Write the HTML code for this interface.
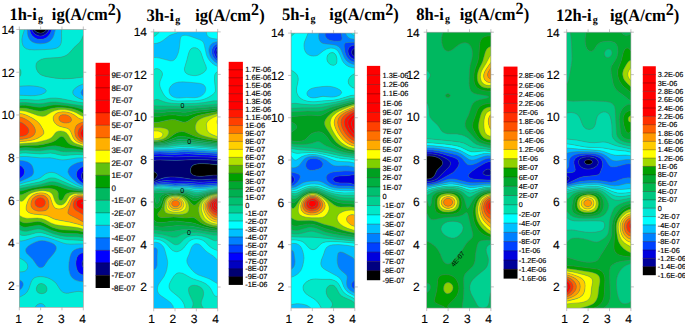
<!DOCTYPE html>
<html><head><meta charset="utf-8"><style>
html,body{margin:0;padding:0;background:#fff;}
body{width:685px;height:327px;overflow:hidden;}
svg{display:block;text-rendering:geometricPrecision;}
.ax{font-family:"Liberation Sans",sans-serif;font-size:12px;fill:#000;stroke:#000;stroke-width:0.12px;}
.cb{font-family:"Liberation Sans",sans-serif;fill:#000;stroke:#000;stroke-width:0.15px;}
.tt{font-family:"Liberation Serif",serif;font-weight:bold;font-size:17.5px;fill:#000;}
.sub{font-size:10.6px;}
.sup{font-size:17px;}
</style></head><body>
<svg width="685" height="327" viewBox="0 0 685 327">
<rect width="685" height="327" fill="#fff"/>
<clipPath id="c1h"><rect x="19.3" y="29.5" width="64" height="277.8"/></clipPath>
<g clip-path="url(#c1h)">
<rect x="19.3" y="29.5" width="64" height="277.8" fill="#00d49a"/>
<path d="M39.9 33.1l2.1-.2l1.5-.6l1.4-.9l1.8-1.9l-12.7 0l.9 1.1l1.4 1.2l1.5 .8l1.9 .5z" fill="#000000" fill-rule="evenodd"/>
<path d="M83.3 267.9l0-8.2l-.8 1.3l-.4 2.2l.1 2.1l.8 2.1zM83.3 180.6l0-9l-.8 1l-.7 1.5l-.4 2.1l.5 2.1l1.3 2.2zM39.9 36l1.4 0l1.4-.3l2.4-1.2l1.2-.9l1.1-1.2l1.8-2.9l-2.5 0l-1.1 1.3l-1.4 1.2l-1.5 .7l-2.1 .4l-2.1-.2l-1.4-.6l-1.5-1l-1.6-1.8l-2.3 0l1.6 2.9l1.6 1.6l2.2 1.3l2.4 .7z" fill="#000080" fill-rule="evenodd"/>
<path d="M81.9 274.6l1.4 .4l0-7.2l-.9-1.8l-.3-2.2l.2-2.1l1-2l0-7l-1.4 .3l-1.4 .5l-1.4 .9l-.9 .9l-.9 1.4l-.6 1.4l-.7 3.6l0 2.8l.2 2.2l.5 2.1l.6 1.4l.8 1.5l1 1.1l1.2 1l1.4 .7zM83.3 183.6l0-3l-1.4-2.3l-.5-2.1l.4-2.1l.7-1.5l.8-1l0-5.3l-2.8 1.5l-2.3 2l-1.4 2.1l-.4 2.2l.2 2.1l.6 1.4l.9 1.4l1.9 2.2l2.8 2.1zM20 178.5l2.6-2.2l1.1-1.4l.7-1.5l.2-2.1l-.6-2.1l-.9-1.5l-1.5-1.4l-2.3-1.2l0 13.9zM37.1 38.9l2.1 .4l2.9 0l2.1-.5l2.1-1.1l1.5-1.1l1.8-2.1l1.2-2.1l1.1-2.9l-2.6 0l-1.5 2.5l-2.2 2.1l-2.1 1.3l-1.4 .4l-1.4 .2l-2.2-.3l-2.1-.8l-1.4-.9l-1.5-1.4l-1.1-1.7l-.7-1.4l-2.1 0l1 3.6l1.5 2.5l2.2 1.9l2.4 1.3z" fill="#0000ff" fill-rule="evenodd"/>
<path d="M20 289.7l1.2-1l1.1-1.4l.6-1.4l.2-2.1l-.4-1.5l-.6-.9l-1.4-.9l-1.4-.3l0 10zM82.6 281.7l.7 .1l0-6.7l-2.1-.8l-1.4-.9l-1.1-1l-1.1-1.4l-.6-1.4l-.7-2.2l-.3-2.1l-.1-2.9l.2-2.1l.5-2.1l.6-1.5l1-1.4l.8-.8l1.5-1l1.4-.5l1.4-.3l0-4.9l-3.5 .3l-3.2 .8l-2.5 1.2l-1.9 1.6l-1.2 2.2l-1 2.8l-.8 4.3l-.4 4.3l.1 3.5l.6 3.6l1 2.8l1.3 2.2l1.6 1.4l2.5 1.4l3.1 1l3.2 .5zM39.9 267.6l.7 .1l1.4-.2l1.4-.8l.8-.7l3.8-5.7l5.4-6.3l2-2.9l.8-2.2l.1-1.4l-.2-.7l-.8-1.4l-.7-.7l-2.1-1.5l-3.4-1.3l-3.5-.9l-3.6-.4l-2.8 .3l-3.6 1l-4.2 2l-3.2 2.2l-1.9 2.1l-.6 1.4l-.1 .8l.2 1.4l.8 1.4l6.2 6.3l4.3 6.2l1.4 1.3l1 .5zM83.3 185.7l0-2.1l-1.6-.9l-1.7-1.5l-1.4-1.4l-1-1.4l-1-2.2l-.2-2.1l.4-2.1l1.4-2.2l2.3-1.9l2.8-1.6l0-4.7l-2.9 .4l-2.9 .7l-2 .8l-2.8 1.3l-1.9 1.5l-1.4 1.4l-1 1.8l-.4 1.8l.1 1.4l1 2.1l1 1.4l1.9 2.2l2.5 2.1l2.8 2.2l2.4 1.4l3.1 1.4zM20 181.5l7.4-3.2l3.9-2.1l.8-.7l1.1-1.4l.5-1.5l0-1.4l-.4-2.1l-.9-2.9l-.9-1.4l-1.4-1.4l-2.3-1.3l-2.3-.9l-3.4-.6l-2.8-.3l0 4.7l2.3 1.2l1.5 1.5l1.2 2.1l.4 2.1l-.6 2.2l-.9 1.4l-1.4 1.4l-2.5 2l0 2.9zM83.3 96.3l0-7.8l-1.3 1.5l-.4 .7l-.5 1.4l.1 1.5l.3 .7l1.1 1.4zM39.9 43.8l3.6-.2l2.8-.6l2.1-.9l2.2-1.5l1.6-1.8l1.2-2.1l1-2.9l1-4.3l-3.5 0l-1.9 4.3l-1 1.4l-1.3 1.5l-1.4 1.1l-2.1 1l-1.5 .4l-2.1 .3l-2.1-.2l-1.4-.4l-1.5-.5l-1.7-1l-1.5-1.4l-1.1-1.5l-1-2.1l-.8-2.9l-2.3 0l.2 3.6l.5 2.9l.8 2.1l1.2 1.9l2 1.7l2.3 1.1l2.9 .7l2.6 .3z" fill="#0070ff" fill-rule="evenodd"/>
<path d="M35.7 307.3l9.7 0l-.5-1.4l-1.3-1.4l-1.5-.8l-1.4-.2l-1.4 .2l-1.6 .8l-1.3 1.1l-1.1 1.7zM20 296.9l4.5-2.4l1.2-1l1.4-1.6l1.7-3.1l2.5-7.2l1.5-2.5l1.3-1l1.4-.7l1.6-.5l2.1-.3l3.6 .1l3.5 .7l2.9 1l3.2 1.8l2 1.4l1.9 2l3.5 5.5l1.4 1.8l1.5 1.2l1.4 .7l2.1 .4l2.2-.1l7.1-1.4l2.8-.3l2.9 .2l2.1 .7l0-10.6l-3.6-.4l-2.8-.7l-2.5-1.1l-1.9-1.4l-1.7-2.2l-.9-2.1l-.9-3.6l-.2-3.5l.2-4.3l.7-4.3l1-3.5l1-2.2l.9-1.1l1.1-1l2.5-1.3l3.5-.9l3.6-.3l0-3.9l-4.3 0l-8.5 .3l-4.3-.4l-3.5-.9l-8.9-3.3l-5.4-1.7l-4.2-1.2l-3.6-.4l-2.1 0l-2.9 .6l-9.2 3l-2.8 .7l-2.2 .4l-2.1 0l0 16.8l4.2 2.5l2.2 1.7l.9 1.1l.8 1.4l.4 2.2l-.5 2.1l-.9 1.3l-.7 .6l-1.4 .7l-1.5 .3l-2.1 .2l-1.4-.1l0 8.4l1.4 .3l1.4 1l.9 1.6l.1 1.4l-.2 1.4l-.8 1.7l-.9 1.2l-1.9 1.4l0 7.1zM39.5 267.4l-1-.5l-1.4-1.3l-4.3-6.2l-6.2-6.2l-.7-1.5l-.3-1.4l.1-.7l.6-1.4l2-2.2l3.2-2.1l4.2-2l3.5-1.1l2.9-.2l3.5 .4l3.6 .9l3.3 1.3l2.1 1.4l.7 .7l.9 1.4l.1 .8l0 1.4l-.9 2.1l-1.9 3l-5.5 6.3l-3.8 5.7l-.7 .7l-1.4 .7l-1.4 .2l-.8-.1zM81.9 187l1.4 .4l0-1.7l-3.5-1.6l-2.5-1.4l-2.8-2.2l-2.4-2.1l-2-2.1l-1-1.5l-.9-2.1l-.2-1.4l.4-1.7l1-1.9l1.4-1.4l2-1.4l2.7-1.4l2.1-.8l2.8-.7l2.9-.4l0-3.8l-2.8 0l-3.6 .2l-10.6 1.7l-3.6 .2l-3.6-.3l-6.4-1.4l-2.8-.4l-9.2 .1l-14.3-1.4l-3.5 0l-3.6 .2l0 3.7l3.6 .4l3.5 .8l2.7 1.1l1.9 1.5l1 1.4l.7 1.4l.8 2.9l.3 2.1l-.6 2.1l-1.1 1.5l-.8 .7l-3.9 2.1l-8.1 3.5l0 2.3l5.7-1.8l9.3-2.3l3.2-1l2.9-1.4l4.5-3.4l1.4-.8l2.2-.8l2.8-.3l2.9 .4l2.8 1l7.7 4.6l10.1 5.7l3 1.4l3.9 1.5zM81.9 99.4l1.4 .4l0-3.5l-1.3-1.3l-.5-.7l-.4-1.4l0-.8l.5-1.4l1.7-2.2l0-4.6l-3.5 1.4l-3.4 1.9l-2.4 2.1l-.9 1.4l-.2 .7l-.1 1.5l.2 .7l.9 1.4l.7 .7l2 1.4l1.3 .7l3.6 1.5zM20 95.3l11.4 .4l3.5-.1l3.6-.4l3-.8l3.1-1.5l.9-.7l.5-.7l.2-.7l-.2-.7l-.6-.7l-1.2-.8l-2.9-1.2l-3.7-.9l-4.1-.5l-4.3-.2l-4.9 .1l-5 .4l0 8.9zM28.5 49.5l2.8 .3l3.6 .1l14.2-.5l5.7-.8l1.8-.6l1.4-.7l1.1-.8l1-1.3l.7-1.4l.4-1.5l.3-2.8l-.1-6.4l.2-3.6l-6.3 0l-.8 3.6l-.9 2.8l-1 2.2l-1.6 2.1l-1.9 1.5l-2.1 1l-2.9 .8l-3.5 .3l-2.9-.2l-2.8-.6l-2.1-.8l-2.2-1.5l-1.5-1.9l-1-2.2l-.6-2.8l-.3-4.3l-2.8 0l-1.8 5.7l-.6 2.9l-.2 2.8l.3 2.2l.7 2.1l1.4 2.2l1.9 1.4l2.2 .7z" fill="#00c0ff" fill-rule="evenodd"/>
<path d="M20 307.3l15.2 0l1.2-1.7l1.2-1.1l1.6-.8l1.4-.2l1.4 .2l1.5 .8l1.3 1.4l.5 1.4l38 0l0-15l-2.1-.7l-2.9-.2l-2.8 .3l-7.1 1.5l-2.2 0l-2.1-.4l-2.1-1.2l-1.4-1.4l-3.7-5.7l-1.8-2.1l-1.6-1.5l-2.3-1.4l-3.5-1.6l-3.5-1l-3.6-.3l-3.5 .3l-1.5 .4l-1.4 .7l-1 .8l-1.1 1.3l-1.1 2.3l-2.5 7.1l-1.1 2.1l-1 1.2l-2.1 1.8l-5 2.7l0 10zM38.8 293.1l-1-.6l-.7-.8l-.6-1.4l-.1-2.2l.7-2.1l1.2-1.4l1.6-.9l1.4-.1l2.2 .5l1.7 1.2l1.1 1.4l.7 2.1l-.3 2.2l-1 1.4l-1.5 .8l-1.5 .4l-1.4 .1l-2.1-.4zM20 271.9l3.1-.2l1.2-.3l1.4-.7l.7-.5l.9-1.4l.5-2.1l-.4-2.1l-.8-1.5l-.9-1l-2.2-1.8l-4.2-2.5l0 14zM66.9 244l3.6 .2l8.5-.3l4.3 0l0-3.3l-5-.4l-10-.4l-5.7-.7l-7.1-1.9l-12.1-4l-2.8-.6l-2.1 0l-2.2 .2l-7.8 2.1l-3.6 .6l-2.8-.1l-1.4-.5l-1.4-.8l0 6.9l2.1 0l2.8-.5l12.1-3.7l2.9-.5l2.1 0l2.9 .5l4.9 1.3l6.7 2.3l6.8 2.6l3.9 .9zM81.2 188.4l2.1 .5l0-1.5l-4.2-1.4l-4.3-1.9l-10.1-5.7l-7.7-4.6l-2.1-.8l-2.9-.6l-2.8 .2l-2.8 .9l-1.5 .8l-4.4 3.4l-2.9 1.4l-3.3 1l-9.3 2.3l-5.7 1.8l0 2.1l7.9-1.9l12-2.3l2.9-1l6.4-2.7l2.1-.5l2.2 0l2.1 .3l2.1 .7l7.8 3.2l9.2 4.1l3.6 1.3l3.5 .9zM61.3 159.9l2.1 0l2.9-.2l11.4-1.8l5.6 0l0-3l-2.8-.3l-3.6-.1l-9.9 .8l-3.6 .1l-2.8-.3l-7.1-1.7l-2.9-.3l-10.6 .8l-14.3-.9l-3.5 .1l-2.9 .4l0 3.2l3.6-.2l3.6 0l14.2 1.4l9.2-.1l2.9 .4l5.7 1.3l2.7 .4zM79 102.2l4.3 .6l0-2.9l-4.3-1.5l-3.5-1.9l-.9-.7l-1.2-1.4l-.6-1.5l0-1.4l.2-.7l.9-1.4l2.4-2.2l3.4-1.9l3.6-1.4l0-6.8l-11.4 1.4l-8.5 .3l-7.9-.5l-9.8-1.8l-4.2-1.4l-1.6-1l-1.2-1.1l-1.1-1.4l-1-2.2l-.6-2.1l-.1-1.4l.4-2.2l.7-1.4l1.5-1.4l2.8-1.5l2.2-.7l3.5-.5l10.7-.6l3.5-.5l3.6-1l2.8-1.7l2.2-1.9l4.4-5.2l5.5-4.9l1.4-2l.8-1.6l1.4-3.5l0-5.8l-21.7 0l-.2 3.6l.1 6.4l-.3 2.9l-.4 1.4l-.7 1.4l-1 1.3l-.7 .6l-1.4 .8l-1.5 .5l-3.5 .7l-7.1 .5l-10.7 .3l-4.3-.2l-2.8-.6l-2.1-1l-1.4-1.5l-.8-1.3l-.5-1.5l-.4-2.2l-.1-2.1l.6-3.6l2-6.4l-5.1 0l0 38.5l1.2 2.1l.4 1.5l.1 1.4l-.4 2.1l-1.3 2.2l0 9l4.9-.4l5-.1l4.3 .2l4.1 .5l3.7 .9l2.9 1.1l1.2 .9l.6 .7l.2 .7l-.2 .7l-.5 .7l-.9 .7l-3.1 1.5l-3 .7l-3.6 .5l-4.3 .1l-11.3-.5l0 4.4l5.7-.1l9.9 .5l3.6 0l3.5-.3l8.6-1.5l4.9-.2l2.9 .2l4.2 .7l16.3 3.3z" fill="#00ecd8" fill-rule="evenodd"/>
<path d="M39.2 293.2l2.1 .4l1.5-.1l1.4-.3l1.5-.9l1-1.4l.3-2.1l-.6-2.2l-1.1-1.4l-1.8-1.2l-2.2-.5l-1.4 .2l-1.6 .8l-1.2 1.5l-.7 2.1l.1 2.1l.6 1.4l.7 .8l1 .6zM81.2 240.4l2.1 .2l0-3l-5.7-.8l-11.3-.3l-5.7-.7l-3.6-.9l-4.2-1.3l-9.3-3.7l-2.8-.8l-2.2-.2l-2.1 .2l-7.8 1.8l-3.6 .4l-2.8-.4l-1.4-.7l-1.5-1l0 4.9l1.5 .9l1.4 .4l2.1 .1l2.1-.2l10-2.5l2.1-.2l2.2 .1l2.8 .6l12.1 3.9l7.1 1.9l5.7 .7l12.7 .6zM81.2 189.8l2.1 .4l0-1.3l-4.9-1.2l-2.9-.9l-17.1-7.4l-3.5-1.2l-2.1-.3l-2.2 0l-2.1 .5l-6.4 2.7l-2.9 .9l-12 2.4l-7.9 1.9l0 2.3l10-2.2l11.4-2.1l8.5-2.3l3.6-.3l2.8 .3l3.6 1l10.1 3.9l3.4 1.2l3.5 .8l4.9 .9zM59.8 154.9l2.1 .3l2.9 .2l12.1-.9l3.5 0l2.9 .3l0-2.5l-2.9-.5l-3.5-.2l-10 .2l-3.5-.1l-2.9-.4l-5.7-1.5l-3.5-.4l-2.9 .2l-8.5 1.2l-3.6 0l-10.6-.7l-3.6 .1l-2.8 .5l0 2.8l2.8-.4l3.6-.1l14.2 .8l10.7-.7l2.8 .3l6.3 1.5zM81.9 105.7l1.4 .2l0-3.1l-5.7-.9l-14.2-2.9l-5.7-.9l-3.5-.2l-2.9 .1l-9.2 1.6l-3.6 .4l-3.5-.1l-10-.5l-5.7 .1l0 3.1l2.9-.2l3.5 0l10.7 1.1l3.5 .1l2.9-.3l7.8-1.3l4.3-.1l4.2 .4l6.4 .8l16.4 2.6zM59.8 78.7l5 .2l5-.2l7-.7l6.5-.9l0-41.8l-1.7 4.2l-1.9 2.8l-5.7 5.3l-5 5.6l-2.5 2l-2.4 1.2l-3.6 .9l-3.5 .3l-9.3 .5l-5 .9l-1.6 .5l-1.9 .9l-1.5 1.2l-1.1 1.4l-.5 1.4l-.2 1.5l.4 2.8l.9 2.2l.9 1.4l1.1 1.2l1.1 .9l2.4 1.3l3.6 1l7.1 1.3l6.3 .7zM19.4 77.2l1.3-2.1l.4-2.2l-.1-1.4l-.4-1.4l-1.3-2.2l0 9.4z" fill="#00d49a" fill-rule="evenodd"/>
<path d="M83.3 237.6l0-2.8l-2.8-.7l-3.6-.5l-12.1-.2l-5.7-.8l-3.5-.9l-3.6-1.2l-8.5-4l-2.9-1l-2.1-.3l-2.1 .1l-7.9 1.7l-3.5 .3l-2.9-.7l-1.4-.7l-1.4-1l0 4.3l1.4 1l2.2 .9l2.1 .2l2.1-.1l8.6-2l2.1-.3l2.1 .1l3.6 .9l9.9 3.9l7.1 2l5.7 .7l11.4 .3l5.3 .7zM82.6 191.3l.7 .1l0-1.2l-6.3-1.1l-4.4-1l-3.3-1.1l-10.2-4l-3.5-.9l-2.9-.4l-3.5 .3l-8.6 2.4l-11.3 2l-10 2.2l0 2.6l.7 0l2.2-.4l7.1-2l4.9-1.1l14.3-2.3l4.2-.3l2.2 .2l2.8 .7l7.8 2.8l2.9 .8l3.5 .5l10.3 1.1zM81.9 152l1.4 .3l0-2.3l-5.7-1l-12.1-1.1l-7.1-1.7l-2.8-.4l-5 .3l-7.8 1.5l-3.6 .4l-3.5 0l-10-.4l-3.5 .2l-2.9 .4l0 2.4l2.9-.4l3.5-.1l10.7 .6l3.5 .1l8.6-1.2l2.8-.2l3.6 .4l5.7 1.4l2.8 .5l3.6 .1l9.2-.3l5.7 .5zM82.6 109.4l.7 .3l0-3.7l-16.3-2.6l-8.6-1.2l-3.5-.3l-3.6 .1l-8.5 1.4l-3.6 .3l-3.5-.2l-10-1l-3.5-.1l-2.9 .3l0 2.7l2.9-.2l3.5 .1l10.7 1.7l3.5 .3l3.6-.4l8.5-1.7l3.6-.2l4.2 .1l6.4 .6l6.4 1l5.4 1.2l4.4 1.4z" fill="#00b860" fill-rule="evenodd"/>
<path d="M83.3 234.7l0-2.8l-.7-.2l-2.9-.7l-2.8-.5l-3.6-.2l-9.2-.3l-3.4-.4l-3-.6l-5.7-1.8l-7.8-4l-3.6-1.3l-2.1-.3l-2.1 0l-7.9 1.2l-2.8 .2l-2.1-.3l-1.5-.5l-2.8-1.8l0 4.4l2.1 1.5l2.2 .7l1.4 .2l2.1-.1l8.6-1.7l2.1-.2l2.1 .1l3.6 1.1l8.5 4l3.6 1.2l3.5 1l5.7 .7l12.1 .3l2.8 .3l3.3 .7zM60.5 200.5l.8 0l1.3-.8l.7-1.1l1.2-2.4l.9-1.4l.7-.8l1.3-.7l3.1-.8l3.5-.4l5 0l4.3 .4l0-1.1l-14.3-1.7l-3.5-1l-7.8-2.8l-2.9-.6l-2.8-.2l-3.6 .2l-14.9 2.5l-4.3 .9l-7.1 2.1l-2.8 .4l0 3.5l2.1 .1l2.1-.7l6-2.9l2.6-.9l3.5-.8l5-.7l5-.4l4.2 0l2.9 .5l2.1 .6l1.4 .7l1.2 1l.5 .7l.4 1.4l0 3.6l.2 1.4l.7 1.4l1.2 .8zM83.3 150l0-2l-10-2.4l-2.1-.7l-2.1-1.2l-1.9-1.7l-3.1-4.4l-.8-.6l-1.3-.4l-.7 0l-1.5 .5l-3.5 2.9l-2.9 1.6l-3.3 1.1l-6.6 1.7l-5.7 .8l-12.8 .2l-5.7 .5l0 2.3l2.8-.4l3.6-.2l10 .4l3.5 0l3.6-.4l7.8-1.5l5-.3l2.8 .4l7.1 1.7l11.4 1l5.8 1zM82.6 113l.7 .4l0-3.7l-3.5-1.3l-3.6-1l-5-.9l-5.7-.9l-6.4-.5l-5.7 0l-3.5 .4l-7.1 1.5l-2.9 .3l-3.5-.3l-10.7-1.7l-3.5-.1l-2.9 .2l0 2.6l2.9-.1l3.5 .3l3.6 .7l6.4 1.7l2.8 .5l2.9 .1l2.1-.3l7.4-2.3l3.3-.7l3.5-.4l4.3 0l5.7 .5l5.7 1.1l4.8 1.6l4.2 2.2z" fill="#00a000" fill-rule="evenodd"/>
<path d="M83.3 231.9l0-2.9l-2.8-.8l-5.7-1.1l-12.8-1.4l-5-.7l-2.9-.7l-2.1-.8l-6.4-3.5l-3.5-1.4l-2.2-.4l-2.8-.2l-8.6 .3l-2.8-.1l-2.8-.9l-3.6-2l0 5.1l2.1 1.5l2.2 .8l1.4 .3l2.1 0l8.6-1.3l2.1-.1l2.1 .1l1.4 .4l2.2 .7l8.5 4.4l5.7 1.8l3 .6l3.4 .4l9.2 .3l3.6 .2l2.8 .5l3.1 .7zM58.4 204.7l1.4 .3l1.4-.1l1.5-.4l1.4-.9l1.6-1.8l3-4.9l1.1-1.1l1.7-1.1l2.5-.8l2.9-.4l3.5-.1l2.9 .3l0-1.2l-4.3-.4l-5 0l-3.5 .4l-2.9 .7l-1.4 .8l-.8 .7l-.9 1.4l-1.4 2.9l-.5 .7l-1.4 .7l-.7 .1l-.7-.3l-.6-.5l-.4-.7l-.5-2.1l0-3.6l-.4-1.4l-.5-.7l-.7-.8l-1.2-.7l-1.9-.7l-2.3-.4l-2.9-.3l-4.2 .1l-4.3 .4l-4.3 .6l-3.5 .9l-2.5 .9l-7.5 3.4l-1.4 .2l-1.4-.2l0 5.6l.7 .6l.7 .4l.7 .1l.7-.2l1.5-.9l2.8-3.3l2.3-2.2l2-1.3l2.1-1l3.6-1l4.2-.7l3.6 0l3.5 .6l1.5 .4l1.4 .8l1.4 1.2l1 1.7l1.6 5l.6 1.4l1.1 1.5l.7 .7l1.4 .7zM82.6 147.8l.7 .2l0-1.9l-6.2-1.9l-2.3-1l-1.4-.9l-1.2-1l-1.2-1.4l-2.6-4.6l-1.4-1.9l-2.2-1.5l-1.4-.5l-2.1-.4l-2.9 .2l-2 .9l-.9 .7l-2.7 3.5l-1.5 1.5l-2.1 1.2l-2.5 .9l-6.1 1.6l-4.9 1l-16.4 1.3l0 2.1l5.7-.4l12.1-.2l4.3-.5l7.1-1.6l4.2-1.3l2.9-1.4l4.2-3.4l1.5-.5l.7 0l1.3 .5l.8 .6l3.1 4.3l1.2 1.2l1.4 1l3.6 1.4l9 2.1zM83.3 116.5l0-3.1l-2.8-1.6l-2.9-1.3l-2.8-1l-3.6-.9l-4.3-.7l-5.6-.5l-5.7 .3l-4.3 .8l-7.1 2.2l-3.6 .5l-4.2-.5l-7.1-1.8l-3.6-.7l-3.6-.3l-2.8 .1l0 2.6l3.6 .2l3.3 .7l3.1 .9l7.8 2.9l4.2 1l2.2 0l2.1-.6l5.8-3.5l3.5-1.6l3.5-.8l3.6-.2l5.7 .4l4.9 1.2l3.6 1.5l5 2.9l1.9 .8z" fill="#60c010" fill-rule="evenodd"/>
<path d="M83.3 229.1l0-3.1l-4.3-1.5l-9.9-2.5l-12.9-2.3l-2.8-1l-4.9-2.4l-2.2-.7l-3.5-.6l-8.6-.8l-3.9-.9l-1.8-.8l-1.5-1.4l-.7-1.4l-.2-1.4l.2-2.1l.8-2.9l1.1-2.8l1.2-2.2l1.3-1.5l2.1-1.7l2.1-1.1l2.2-.7l2.8-.4l2.9 0l2.8 .6l2.1 1l1.5 1.3l1.1 1.8l2.4 7l1.3 2.3l.9 .8l1.4 .8l1.4 .4l1.4 .1l2.2-.3l1.4-.4l1.4-.6l1.4-1.1l1.1-1.2l1-1.4l2.9-5.4l.8-1l1.3-1l2.2-1.1l2.8-.7l2.9-.1l2.8 .2l0-1.2l-3.6-.3l-3.5 .2l-2.9 .5l-2.1 .8l-1.4 .9l-1.1 1.1l-2.5 4.3l-1.4 1.8l-1.4 1.2l-2.1 .8l-1.5 0l-1.4-.3l-1.3-.7l-.8-.7l-1.4-2.2l-1.9-5.6l-.8-1.5l-.9-1l-2.1-1.2l-3.6-.9l-2.8-.2l-3.6 .2l-2.8 .5l-2.9 .8l-2.6 1.1l-2.2 1.5l-1.6 1.4l-2.8 3.3l-1.4 1.3l-1.5 .5l-.7-.1l-1.4-1l0 15.2l3.6 2l2.1 .7l2.1 .3l10-.3l4.2 .4l3.6 1.2l6.4 3.5l4.3 1.5l4.9 .9l15 1.6l4.2 .8l3.2 1zM81.9 145.7l1.4 .4l0-1.8l-3.5-1.3l-2.1-1l-2.1-1.4l-1.4-1.4l-1.3-2.1l-2.4-5.9l-1.4-1.8l-2.1-1.2l-7-1.8l-3-1.5l-1.6-1.4l-1.5-2.1l-.7-2.2l0-1.4l.7-2.1l1-1.2l1.2-1l1.3-.7l1.7-.6l3.6-.5l4.3 .4l4.2 1.2l3.3 1.7l3.8 2.9l2.2 1l2.8 .3l0-2.8l-2.1-.8l-5-2.9l-2.8-1.3l-4.3-1.2l-4.3-.6l-4.9 0l-2.7 .4l-2.3 .6l-3.5 1.5l-5.8 3.6l-1.4 .4l-1.4 .2l-2.1-.2l-2.9-.7l-8.5-3l-3.6-1.1l-3.2-.6l-3.2-.1l0 2.8l4.3 .7l4.3 1.6l5.3 2.8l4.1 2.9l2.1 2.1l1.5 2.2l2.4 4.2l.6 2.2l-.2 1.4l-.9 1.4l-1.8 1.4l-3.2 1.9l-3.5 1.4l-3.6 .8l-5 .8l-6.4 .5l0 2.1l16.4-1.3l5-1l6-1.6l2.5-.9l2.1-1.2l1.5-1.5l2.7-3.5l.9-.7l2-.9l2.2-.2l2.8 .4l1.4 .5l1.5 .9l1.8 2.1l2.9 5l1.2 1.4l1.2 1l1.4 .9l2.1 .9l4.7 1.5z" fill="#ffff00" fill-rule="evenodd"/>
<path d="M81.9 225.4l1.4 .5l0-4l-7.1-3.8l-6.4-3.2l-1.3-1l-.4-.7l-.2-.7l.2-1.4l2.9-8.5l.9-2.2l1-1.4l1.9-1.6l2.8-1.1l2.9-.4l2.8 .2l0-1.2l-2.8-.3l-2.9 .2l-2.1 .4l-2.2 .9l-1.4 .9l-1.4 1.6l-2.9 5.4l-1 1.4l-1.1 1.2l-1.4 1l-1.4 .7l-2.8 .6l-2.2-.1l-1.4-.3l-1.4-.8l-.7-.7l-1.5-2.4l-1.7-5.6l-1.1-2.3l-1-1.3l-1.1-.9l-1.5-.8l-1.4-.5l-2.1-.4l-2.9 0l-2.8 .5l-2.2 .7l-2.6 1.4l-1.6 1.4l-1.3 1.5l-1.2 2.1l-.8 2.2l-.9 2.8l-.4 2.1l.1 1.5l.4 1.4l.5 .7l.8 .8l1.4 .9l2.1 .8l2.1 .4l9.3 1l3.5 .6l2.2 .6l5 2.5l2.7 .9l13.6 2.5l6.4 1.6l5.5 1.6zM38.9 211.1l-1.8-.3l-2.1-.7l-1.4-.7l-1.3-1.1l-.9-1.5l-.4-1.4l-.1-1.4l.3-2.2l.5-1.4l1.1-1.8l1.5-1.4l1.4-1l1.9-.8l1.6-.3l2.2-.1l1.4 .2l1.4 .5l1.4 .7l1.3 1.2l.9 1.4l.6 1.4l.5 2.2l.1 2.1l-.2 2.1l-.6 1.5l-.5 .7l-.8 .7l-1.3 .7l-2.8 .7l-3.6 0zM83.3 144.3l0-1.8l-2.6-1.2l-1.7-1l-1.4-1.1l-1.2-1.4l-.8-1.5l-.5-1.4l-.4-3.5l.2-2.2l.4-1.4l1-2.1l.6-.8l1.4-1l5-2.1l0-2.7l-2.1-.1l-1.7-.5l-1.3-.7l-3.7-2.8l-1.9-1.1l-2.6-1.1l-3.1-.7l-3.5-.4l-3.6 .4l-2.4 .7l-2.3 1.5l-.7 .7l-.9 1.4l-.3 2.1l.2 1.5l.5 1.4l1.4 2.1l1.7 1.4l2.1 1.2l2.2 .6l4.9 1.2l1.5 .5l1.2 .8l.9 .9l.7 1.1l2.4 5.8l.8 1.5l1.1 1.4l1.4 1.2l1.5 .9l2 1l3.2 1.2zM63.7 122.8l-2.5-.9l-1.4-1.2l-.5-.7l-.3-.8l-.2-1.4l.6-1.4l.7-.7l1.1-.6l1.4-.4l2.9 0l1.4 .4l1.5 .6l1.9 1.4l.6 .7l.5 1.4l-.1 1.5l-.4 .7l-.8 .7l-1.8 .6l-2.1 .3l-2.1-.1zM20 141.7l5.7-.5l4.1-.5l3.3-.8l3.3-1.1l3.5-1.7l2-1.4l1.4-1.5l.4-.7l.1-1.4l-.3-1.4l-.6-1.4l-2.5-4.3l-1.7-2.2l-2.3-2.1l-4.4-2.8l-4.9-2.5l-4.3-1.4l-3.5-.6l0 3.4l3.5 1.1l3.1 1.4l3.3 2.2l3.1 2.8l1.2 1.5l1.2 2l.6 2.2l.1 1.4l-.2 1.4l-.7 1.4l-1 1.2l-1.2 1l-2.3 1.2l-3 .9l-4.2 .7l-3.5 .2l0 2.4z" fill="#ffb000" fill-rule="evenodd"/>
<path d="M83.3 222l0-7.2l-7.8-4.7l-1.4-1.6l-.8-1.8l-.1-1.9l.3-2.2l1-2.1l1-1.2l1.4-1l2.1-.7l2.2-.2l2.1 .2l0-1.4l-2.1-.2l-2.9 .2l-2.1 .6l-1.4 .7l-1.2 .8l-1.3 1.5l-1.4 2.8l-2.8 8.6l-.2 1.4l.1 .7l.5 .7l1.3 1l7.1 3.5l6.1 3.4zM39.2 211.2l3.6-.1l2.8-.7l1.2-.7l.8-.7l.5-.7l.6-1.4l.3-2.1l-.2-2.2l-.4-2.1l-.6-1.4l-1-1.5l-1.2-1.1l-1.4-.8l-1.4-.4l-1.5-.2l-2.1 0l-1.6 .4l-2 .8l-1.4 .9l-1.4 1.4l-1.1 1.9l-.5 1.4l-.3 2.1l.1 1.5l.4 1.4l.9 1.4l1.2 1.1l1.4 .8l2.2 .7l1.8 .3zM37.5 206.9l-1.1-.7l-.7-.7l-.7-1.4l-.1-2.2l.6-1.4l1.2-1.4l1.8-1l2.2-.3l2.2 .6l1.3 1l1 1.8l.2 2.1l-.5 1.5l-1 1.4l-1.8 1l-2.1 .3l-2.2-.4zM82.6 142.2l.7 .3l0-2l-2.2-1.3l-1.3-1.2l-.8-.9l-.9-2.2l-.2-2.1l.5-2.2l1-2.1l1.8-2.1l2.1-1.9l0-2.7l-4.3 1.7l-2.1 1.4l-.7 .9l-.7 1.4l-.4 1.3l-.3 2.1l0 2.2l.3 2.1l.5 1.4l.8 1.5l2 2.1l2.1 1.3l1.7 .8zM20 139.4l2.8-.2l3.6-.6l3-.8l2-.9l1.9-1.2l1.2-1.5l.7-1.4l.2-2.1l-.4-2.2l-1.1-2.1l-1.6-2.1l-2.2-2.2l-3-2.1l-2.6-1.4l-2.4-1l-2.8-.8l0 4.9l3.5 1.6l3.2 2.4l1.8 2.1l.8 1.4l.3 1.5l-.2 1.4l-.3 .7l-1.1 1.4l-1 .7l-1.5 .8l-2 .5l-3.5 .3l0 2.9zM64.1 122.9l2.1 .1l2.2-.3l1.7-.6l.9-.7l.4-.7l.1-1.4l-.6-1.4l-.5-.8l-1.9-1.4l-1.6-.6l-1.4-.3l-2.8-.1l-1.4 .4l-1.2 .6l-.7 .7l-.5 1.5l.1 1.4l.3 .7l.5 .7l1.5 1.2l2.4 .9z" fill="#ff6a00" fill-rule="evenodd"/>
<path d="M83.3 214.8l0-5.4l-3.6-1.1l-2.1-1.4l-1-1.5l-.2-.7l-.2-1.4l.4-1.4l1-1.5l1.4-.9l1.5-.4l1.4-.1l1.4 .3l0-1.8l-2.1-.2l-2.3 .3l-1.3 .4l-1.4 .8l-1.7 1.6l-.8 1.5l-.4 1.4l-.1 2.1l.2 1.5l.7 1.6l1.4 1.6l7.7 4.6zM37.8 207l2.1 .5l2.2-.3l1.8-1.1l1-1.4l.4-1.4l-.1-2.2l-1-1.7l-1.3-1.1l-2.3-.6l-2.1 .3l-1.8 1l-1.2 1.4l-.6 1.5l.1 2.1l.7 1.4l.7 .7l1.1 .7zM82.6 140.1l.7 .4l0-2.5l-1.7-1.7l-.6-1.4l-.1-1.4l.1-1.5l.5-1.4l1.8-3l0-3.2l-2.1 1.9l-1.8 2.2l-1 2.1l-.5 2.1l.2 2.2l.9 2.1l1.2 1.4l2 1.5zM20 136.5l3.6-.4l1.4-.5l1.4-.7l.9-.7l1.1-1.4l.3-.7l.2-1.4l-.3-1.4l-.8-1.5l-1.8-2.1l-3.2-2.4l-3.5-1.5l0 14.7z" fill="#ff3000" fill-rule="evenodd"/>
<path d="M81.9 209.1l1.4 .3l0-10.1l-2.1-.2l-2.1 .5l-1.5 .9l-1 1.4l-.2 .7l-.1 1.4l.4 1.5l1 1.4l1.4 1l2.5 1.1zM81.8 204l-.5-.7l.5-.7l.8 .1l.4 .6l-.3 .7l-.8 0zM83.3 138.1l0-10.4l-1.8 3l-.5 1.4l-.2 1.4l.5 2.2l.6 1l1 1.1z" fill="#ff0000" fill-rule="evenodd"/>
<path d="M81.9 204.1l.9 0l.2-.8l-.4-.6l-.8-.1l-.5 .7l.5 .8z" fill="#ff0000" fill-rule="evenodd"/>
<path d="M46.7 29.5l-1.1 1.3l-1.5 1.1l-1.4 .7l-2.1 .5l-2.1-.3l-1.5-.6l-1.4-.9l-1.6-1.8M83.3 267.9l-.9-1.9l-.4-2.1l.3-2.2l1-2M83.3 180.6l-1.4-2.3l-.5-2.1l.4-2.1l.7-1.5l.8-1M49.2 29.5l-1.5 2.4l-2.1 2.2l-2.2 1.2l-1.4 .5l-1.4 .2l-1.4-.1l-1.4-.4l-2.2-1l-2.1-1.9l-1.1-1.7l-.7-1.4M83.3 275.1l-2.1-.7l-1.5-.9l-1.1-1.1l-1-1.4l-.6-1.4l-.7-2.1l-.4-4.3l.1-2.2l.4-2.1l.5-1.4l.7-1.4l1.3-1.5l.9-.7l1.5-.7l2-.4M83.3 183.6l-2.5-1.7l-1.6-1.4l-1.1-1.5l-.9-1.4l-.6-1.4l-.2-2.1l.4-2.2l1.4-2.1l2.3-2l2.8-1.5M19.3 165l2.3 1.2l1.5 1.4l1.2 2.2l.4 2.1l-.6 2.2l-.9 1.4l-1.3 1.4l-2.6 2M51.9 29.5l-1.9 4.3l-.9 1.4l-1.3 1.4l-1.5 1.1l-2.1 1.1l-1.4 .4l-2.1 .2l-2.2-.2l-1.4-.3l-2.1-.9l-1.5-1l-1.4-1.5l-1.1-1.7l-.9-2.2l-.5-2.1M83.3 281.8l-3.6-.4l-2.8-.7l-2.5-1.1l-1.9-1.5l-1.7-2.1l-.9-2.1l-.9-3.6l-.2-3.6l.2-4.2l.9-5l1.1-3.6l1.2-2.1l1.9-1.6l2.5-1.3l3.1-.7l3.6-.3M19.3 280.2l1.4 .3l1.4 1l.9 1.6l.2 1.4l-.3 1.4l-.8 1.7l-.9 1.2l-1.9 1.4M83.3 185.7l-3.6-1.6l-2.4-1.4l-2.8-2.2l-2.5-2.1l-1.9-2.2l-1-1.4l-1-2.1l-.1-1.4l.4-1.8l1-1.8l1.4-1.4l1.9-1.5l2.8-1.3l2-.8l2.9-.7l2.9-.4M19.3 160.4l2.8 .2l3.4 .7l2.3 .8l2.3 1.3l1.4 1.5l.9 1.4l1.1 3.6l.2 2.1l-.5 2.1l-1.1 1.5l-.8 .7l-3.9 2.1l-8.1 3.5M83.3 96.3l-1.4-1.3l-.4-.7l-.4-1.4l0-.8l.5-1.4l1.7-2.2M55.4 29.5l-.8 3.6l-.9 2.8l-1 2.1l-1.7 2.2l-1.8 1.4l-2.2 1.1l-2.8 .7l-3.6 .4l-3.5-.3l-2.9-.7l-2.1-1.1l-1.9-1.5l-1.5-2.2l-.8-2.1l-.5-2.8l-.1-3.6M39.9 267.6l-1.4-.6l-1.1-1l-4.6-6.5l-6.2-6.3l-.9-2.1l0-1.4l.2-.8l.5-.8l1-1.3l2.8-2.1l4-2.2l3.9-1.4l3.2-.4l2.9 .1l3.5 .7l3.2 1l2.8 1.4l1.1 1l1 1.2l.3 .7l.2 1.4l-.5 2.2l-.8 1.4l-1.6 2.2l-5.4 6.3l-3.8 5.7l-1.5 1.2l-.7 .3l-1.4 .2zM35.2 307.3l1.1-1.7l1.3-1.1l1.6-.8l1.4-.2l1.4 .2l1.5 .8l1.3 1.4l.5 1.4M83.3 292.3l-2.1-.7l-2.9-.2l-2.8 .3l-7.1 1.4l-2.2 .1l-2.1-.4l-1.4-.7l-1.4-1.2l-1.5-1.8l-3.5-5.5l-1.9-1.9l-2-1.5l-3.2-1.8l-2.9-1l-3.5-.7l-3.6-.1l-2.1 .3l-1.6 .5l-1.4 .7l-1.3 1.1l-1.5 2.5l-2.5 7.1l-1.7 3.2l-1.4 1.5l-1.2 1l-5.2 2.8M19.3 271.8l1.4 .1l2.2-.2l1.4-.3l1.4-.7l.7-.6l.9-1.3l.5-2.1l-.4-2.2l-.8-1.4l-.9-1.1l-2.1-1.7l-4.3-2.5M19.3 241l2.1 0l2.2-.4l2.8-.7l9.3-3l2.8-.5l2.1-.1l3.6 .5l4.3 1.1l5.3 1.7l8.9 3.3l3.5 .9l4.3 .4l8.5-.3l4.3 0M83.3 187.4l-4.3-1.4l-4.2-1.9l-10.1-5.7l-7.7-4.6l-2.1-.9l-2.9-.5l-2.8 .1l-2.9 1l-1.4 .8l-4.5 3.4l-2.9 1.4l-3.3 1l-9.2 2.3l-5.7 1.8M19.3 156.7l3.6-.2l3.5 0l14.2 1.4l9.3-.1l2.8 .4l6.4 1.4l3.6 .3l3.5-.2l10.7-1.7l3.6-.2l2.8 .1M83.3 99.9l-4.3-1.5l-3.5-1.9l-.9-.7l-1.2-1.4l-.4-.8l-.2-1.4l.3-1.4l.4-.7l1.9-2.2l3.4-2.1l4.5-1.9M19.3 86.3l5-.4l5-.1l4.2 .2l4.1 .5l3.7 .9l2.9 1.1l1.2 .9l.6 .7l.2 .7l-.2 .7l-.5 .7l-.9 .7l-3 1.5l-3.1 .7l-3.6 .5l-4.2 .1l-11.4-.5M61.7 29.5l-.2 3.6l.1 6.4l-.3 2.8l-.4 1.4l-.7 1.5l-1 1.3l-.8 .6l-1.4 .8l-1.4 .5l-3.6 .7l-7.1 .5l-10.6 .3l-5-.3l-2.9-.8l-2.1-1.4l-1.4-2.2l-.8-2.9l-.1-3.5l.5-2.9l2-6.4M19.3 234.1l1.4 .8l1.4 .4l2.9 .2l3.5-.6l7.9-2.1l2.1-.2l2.1 0l2.9 .6l12.1 4l7.1 1.9l5.7 .7l9.9 .4l5 .4M83.3 188.8l-5.1-1.2l-4.1-1.4l-9.3-4.1l-7.8-3.3l-2.9-.8l-2.1-.2l-1.4 .1l-2.1 .5l-6.4 2.7l-2.9 .9l-12.1 2.4l-7.8 1.9M19.3 153.5l2.8-.4l3.6-.1l14.2 .9l10.7-.8l2.8 .3l7.1 1.7l2.9 .3l3.5-.1l10-.8l3.6 .1l2.8 .3M83.3 102.8l-7.1-1.1l-14.2-2.9l-6.4-.8l-5 .1l-8.5 1.6l-3.6 .3l-3.6 0l-9.9-.5l-5.7 .1M19.3 77.3l1.3-2.2l.4-2.1l-.1-1.5l-.4-1.4l-1.2-2.1M83.3 35.3l-1.7 4.2l-1.9 2.8l-5.6 5.2l-4.8 5.5l-2.4 1.9l-2.8 1.4l-2.8 .8l-3.6 .5l-10.7 .6l-3.4 .5l-2.3 .7l-2.8 1.5l-1.4 1.4l-.8 1.4l-.4 2.1l.1 1.5l.6 2.1l1 2.1l1.1 1.5l1.2 1.1l1.6 1l4.2 1.4l9.9 1.7l7.8 .6l8.5-.3l11.4-1.4M39.2 293.2l2.1 .4l1.5-.1l1.4-.3l1.5-.9l1-1.4l.3-2.1l-.6-2.2l-1.1-1.4l-1.8-1.2l-2.2-.5l-1.4 .2l-1.6 .8l-1.2 1.5l-.7 2.1l.1 2.1l.6 1.4l.7 .8l1 .6zM19.3 229.2l1.4 1l1.4 .6l2.9 .5l3.5-.4l7.9-1.9l3.5 0l3.6 .9l9.9 3.9l7.1 1.9l5.7 .8l11.4 .3l5.7 .8M83.3 190.1l-6.3-1.1l-4.4-1l-3.3-1.1l-10.2-3.9l-3.5-1l-2.9-.4l-3.5 .3l-8.6 2.4l-11.3 2l-10 2.2M19.3 150.7l2.8-.4l3.6-.2l10.7 .7l3.5 0l8.6-1.1l2.8-.2l3.6 .4l5.6 1.4l2.9 .4l3.5 .2l10-.3l3.6 .3l2.8 .4M83.3 106l-17.1-2.7l-10.6-1.3l-5 .1l-7.8 1.3l-2.9 .3l-3.5-.1l-10.7-1.1l-3.6-.1l-2.8 .3M19.3 224.8l1.4 1.1l1.4 .7l1.5 .4l2.1 .2l2.8-.3l7.2-1.5l2.1-.2l2.1 .1l3.6 1.1l8.5 4l3.6 1.2l3.5 1l5.7 .7l12.1 .3l3.6 .4l2.8 .7M83.3 191.4l-14.2-1.7l-3.6-1l-7.8-2.7l-2.8-.7l-2.9-.2l-3.5 .3l-15 2.4l-4.2 1l-7.2 2l-2.8 .4M19.3 148.2l2.8-.4l3.6-.1l10 .4l3.5-.1l3.6-.4l7.8-1.5l4.3-.2l3.5 .4l7.1 1.7l12.1 1.1l5.7 .9M83.3 109.7l-4.3-1.5l-4.9-1.2l-6.4-1.1l-7.2-.7l-4.9-.2l-3.6 .2l-8.5 1.7l-3.6 .4l-3.5-.3l-10.7-1.7l-3.6-.1l-2.8 .2M19.3 220.5l2.8 1.8l1.5 .5l2.1 .3l2.8-.2l7.2-1.2l2.1-.1l2.1 .2l1.4 .3l2.2 .8l8.5 4.4l5.7 1.8l3 .6l3.4 .3l9.2 .3l3.6 .3l3.6 .6l2.8 .8M83.3 192.5l-4.3-.4l-4.9 0l-3.6 .4l-2.8 .7l-1.5 .8l-.8 .7l-.9 1.4l-1.4 2.9l-.5 .7l-1.3 .7l-.8 .1l-.7-.3l-.6-.5l-.4-.7l-.5-2.1l.1-3.6l-.5-1.4l-.4-.7l-.8-.8l-1.2-.7l-1.9-.7l-2.3-.4l-2.8-.3l-4.3 .1l-4.3 .4l-4.2 .6l-3.6 .9l-2.5 .9l-7.5 3.4l-1.4 .2l-1.4-.2M19.3 145.9l5.7-.5l12.8-.2l5.7-.9l6.6-1.6l3.3-1.1l2.9-1.6l3.5-2.9l1.5-.5l.7 0l1.3 .4l.8 .6l3.1 4.4l1.2 1.2l1.4 1l2.1 .9l2.2 .7l9.2 2.1M83.3 113.3l-4.3-2.3l-4.2-1.6l-5-1.1l-5.7-.8l-5-.1l-5 .4l-3.2 .7l-6.7 2.1l-3.6 .5l-4.2-.5l-7.1-1.8l-3.6-.7l-3.6-.3l-2.8 .1M19.3 215.4l3.6 2l2.8 .8l2.8 .2l8.6-.3l4.2 .4l3.6 1.2l6.4 3.5l4.3 1.5l4.9 .9l15.7 1.8l3.5 .7l3.6 1M83.3 193.7l-3.6-.3l-3.5 .2l-2.9 .5l-2.1 .8l-1.4 .9l-1.1 1.1l-2.5 4.3l-1.4 1.8l-1.4 1.2l-2.1 .8l-1.5 0l-1.4-.3l-1.3-.7l-.8-.7l-1.4-2.2l-1.9-5.6l-.8-1.5l-.9-1l-2.1-1.2l-3.6-.9l-2.8-.2l-3.6 .2l-2.8 .5l-2.9 .8l-2.6 1.1l-2.2 1.5l-1.6 1.4l-2.8 3.3l-1.4 1.3l-1.5 .5l-.7-.1l-1.4-1M19.3 143.8l16.4-1.3l4.9-1l6-1.6l2.6-1l2.1-1.2l1.5-1.4l2.7-3.6l.9-.7l2-.8l2.9-.2l2.1 .4l1.4 .5l2.1 1.5l1.5 1.9l2.6 4.6l1.2 1.4l1.1 .9l1.5 .9l2.2 1l6.3 2M83.3 116.5l-2.1-.9l-5-2.9l-2.9-1.2l-4.2-1.2l-4.3-.6l-5 0l-2.7 .3l-2.2 .6l-3.5 1.6l-5.8 3.5l-1.4 .5l-1.4 .2l-2.2-.2l-2.8-.7l-8.5-3.1l-3.6-1.1l-3.3-.5l-3.1-.2M83.3 194.9l-2.8-.2l-2.9 .1l-2.1 .5l-2.3 .9l-1.3 .9l-1.4 1.5l-2.9 5.4l-1 1.4l-1.1 1.2l-1.4 1.1l-2.1 .9l-1.5 .3l-2.1 0l-1.4-.2l-1.4-.5l-1.6-1.3l-1.3-2.3l-2.4-7l-.8-1.4l-1.4-1.4l-1.8-1l-2.8-.8l-2.9-.2l-3.5 .5l-2.2 .8l-2.1 1l-2.1 1.7l-1.3 1.5l-1.2 2.2l-1.1 2.8l-.8 2.9l-.2 2.1l.2 1.4l.8 1.5l1.6 1.4l2 .8l3.5 .8l8.6 .8l3.5 .6l2.2 .7l4.9 2.4l2.8 1l14.3 2.6l7.8 2l5 1.7M19.3 141.7l10-1l3.5-.7l2.9-.9l2.9-1.3l3.4-2.2l1.3-1.4l.4-.7l.2-1.4l-.4-1.5l-.6-1.4l-2.5-4.3l-1.7-2.1l-2.3-2.1l-4.4-2.9l-4.9-2.4l-4.2-1.5l-3.6-.5M83.3 119.2l-2.1-.1l-2.2-.7l-4.9-3.6l-3.6-1.8l-3.6-.9l-3.5-.3l-3.8 .4l-1.9 .6l-1.7 .8l-1.1 .9l-1 1.2l-.6 1.5l-.1 1.4l.2 1.4l.5 1.4l.9 1.5l1.3 1.4l1.6 1.1l1.4 .7l2.2 .7l4.9 1.2l1.5 .5l1.2 .8l.9 .9l.7 1.1l2.4 5.8l.8 1.4l1.1 1.5l1.7 1.4l1.8 1l5 2M83.3 196.1l-2.8-.2l-2.9 .4l-2.8 1.1l-1.9 1.6l-1 1.4l-1 2.1l-2.8 8.6l-.2 1.4l.1 .7l.5 .7l1.3 1l6.4 3.2l7.1 3.8M19.3 139.4l3.6-.2l3.5-.6l2.9-.8l1.8-.7l2.2-1.5l.9-1l1-1.8l.2-1.4l-.2-2.2l-.9-2.1l-1.4-2.1l-2-2.2l-2.7-2.1l-3.2-1.9l-2.9-1.2l-2.8-.8M83.3 121.8l-4.3 1.8l-2.1 1.4l-1.1 1.4l-.5 1.4l-.4 1.5l-.2 2.1l.2 2.1l.4 2.2l.7 1.4l.9 1.4l1.4 1.4l1.1 .8l3.9 1.8M39.2 211.2l3.6-.1l2.8-.7l1.2-.7l.8-.7l.5-.7l.6-1.4l.3-2.1l-.2-2.2l-.4-2.1l-.6-1.4l-1-1.5l-1.2-1.1l-1.4-.8l-1.4-.4l-1.5-.2l-2.1 0l-1.6 .4l-2 .8l-1.4 .9l-1.4 1.4l-1.1 1.9l-.5 1.4l-.3 2.1l.1 1.5l.4 1.4l.9 1.4l1.2 1.1l1.4 .8l2.2 .7l1.8 .3zM64.1 122.9l2.1 .1l2.2-.3l1.7-.6l.9-.7l.4-.7l.1-1.4l-.6-1.4l-.5-.8l-1.9-1.4l-1.6-.6l-1.4-.3l-2.8-.1l-1.4 .4l-1.2 .6l-.7 .7l-.5 1.5l.1 1.4l.3 .7l.5 .7l1.5 1.2l2.4 .9zM83.3 197.5l-2.1-.2l-2.2 .2l-2.1 .8l-1.1 .7l-1 1l-.8 1.1l-.5 1.4l-.3 2.2l0 1.4l.4 1.4l.5 .9l.9 1.3l1.9 1.3l4.1 2.2l2.3 1.6M19.3 136.5l3.6-.3l2-.5l1.4-.7l1-.7l1.1-1.5l.3-.7l.2-1.4l-.3-1.4l-.7-1.5l-1.9-2.1l-3.1-2.4l-3.6-1.5M83.3 124.5l-2.2 1.9l-1.7 2.1l-1 2.2l-.4 1.4l-.1 1.4l.4 2.2l1.2 2.1l1.6 1.4l2.2 1.3M37.8 207l2.1 .5l2.2-.3l1.8-1.1l1-1.4l.4-1.4l-.1-2.2l-1-1.7l-1.3-1.1l-2.3-.6l-2.1 .3l-1.8 1l-1.2 1.4l-.6 1.5l.1 2.1l.7 1.4l.7 .7l1.1 .7zM83.3 199.3l-2.1-.2l-1.5 .2l-1.1 .5l-1 .7l-.6 .7l-.4 .7l-.4 1.4l.2 1.5l.2 .7l1 1.4l2.1 1.4l3.6 1.1M83.3 127.7l-1.8 3l-.5 1.4l-.2 1.4l.2 1.5l.6 1.4l1.7 1.7M81.9 204.1l.9 0l.2-.8l-.4-.6l-.8-.1l-.5 .7l.5 .8z" fill="none" stroke="#6a6a6a" stroke-opacity="0.85" stroke-width="0.45"/>
</g>
<rect x="19.3" y="29.5" width="64" height="277.8" fill="none" stroke="#9a9a9a" stroke-width="0.6"/>
<path d="M19.3 29.5v-3M19.3 307.3v3M40.63 29.5v-3M40.63 307.3v3M61.97 29.5v-3M61.97 307.3v3M83.3 29.5v-3M83.3 307.3v3M19.3 285.93h-3M83.3 285.93h3M19.3 243.19h-3M83.3 243.19h3M19.3 200.45h-3M83.3 200.45h3M19.3 157.72h-3M83.3 157.72h3M19.3 114.98h-3M83.3 114.98h3M19.3 72.24h-3M83.3 72.24h3M19.3 29.5h-3M83.3 29.5h3" stroke="#9a9a9a" stroke-width="0.6" fill="none"/>
<text x="14.8" y="290.23" text-anchor="end" class="ax" font-weight="normal">2</text>
<text x="14.8" y="247.49" text-anchor="end" class="ax" font-weight="normal">4</text>
<text x="14.8" y="204.75" text-anchor="end" class="ax" font-weight="normal">6</text>
<text x="14.8" y="162.02" text-anchor="end" class="ax" font-weight="normal">8</text>
<text x="14.8" y="119.28" text-anchor="end" class="ax" font-weight="normal">10</text>
<text x="14.8" y="76.54" text-anchor="end" class="ax" font-weight="normal">12</text>
<text x="14.8" y="33.8" text-anchor="end" class="ax" font-weight="normal">14</text>
<text x="18.7" y="323.4" text-anchor="middle" class="ax" font-weight="normal">1</text>
<text x="40.03" y="323.4" text-anchor="middle" class="ax" font-weight="normal">2</text>
<text x="61.37" y="323.4" text-anchor="middle" class="ax" font-weight="normal">3</text>
<text x="82.7" y="323.4" text-anchor="middle" class="ax" font-weight="normal">4</text>
<rect x="95.6" y="62.8" width="14.3" height="12.7" fill="#ff0000"/>
<rect x="95.6" y="75.3" width="14.3" height="12.7" fill="#ff0000"/>
<rect x="95.6" y="87.8" width="14.3" height="12.7" fill="#ff0000"/>
<rect x="95.6" y="100.3" width="14.3" height="12.7" fill="#ff0000"/>
<rect x="95.6" y="112.8" width="14.3" height="12.7" fill="#ff3000"/>
<rect x="95.6" y="125.3" width="14.3" height="12.7" fill="#ff6a00"/>
<rect x="95.6" y="137.8" width="14.3" height="12.7" fill="#ffb000"/>
<rect x="95.6" y="150.3" width="14.3" height="12.7" fill="#ffff00"/>
<rect x="95.6" y="162.8" width="14.3" height="12.7" fill="#60c010"/>
<rect x="95.6" y="175.3" width="14.3" height="12.7" fill="#00a000"/>
<rect x="95.6" y="187.8" width="14.3" height="12.7" fill="#00b860"/>
<rect x="95.6" y="200.3" width="14.3" height="12.7" fill="#00d49a"/>
<rect x="95.6" y="212.8" width="14.3" height="12.7" fill="#00ecd8"/>
<rect x="95.6" y="225.3" width="14.3" height="12.7" fill="#00c0ff"/>
<rect x="95.6" y="237.8" width="14.3" height="12.7" fill="#0070ff"/>
<rect x="95.6" y="250.3" width="14.3" height="12.7" fill="#0000ff"/>
<rect x="95.6" y="262.8" width="14.3" height="12.7" fill="#000080"/>
<rect x="95.6" y="275.3" width="14.3" height="12.7" fill="#000000"/>
<path d="M95.6 75.3H109.9M95.6 87.8H109.9M95.6 100.3H109.9M95.6 112.8H109.9M95.6 125.3H109.9M95.6 137.8H109.9M95.6 150.3H109.9M95.6 162.8H109.9M95.6 175.3H109.9M95.6 187.8H109.9M95.6 200.3H109.9M95.6 212.8H109.9M95.6 225.3H109.9M95.6 237.8H109.9M95.6 250.3H109.9M95.6 262.8H109.9M95.6 275.3H109.9" stroke="#200" stroke-opacity="0.55" stroke-width="0.6"/>
<text x="111.4" y="78.18" class="cb" style="font-size:8px">9E-07</text>
<text x="111.4" y="90.68" class="cb" style="font-size:8px">8E-07</text>
<text x="111.4" y="103.18" class="cb" style="font-size:8px">7E-07</text>
<text x="111.4" y="115.68" class="cb" style="font-size:8px">6E-07</text>
<text x="111.4" y="128.18" class="cb" style="font-size:8px">5E-07</text>
<text x="111.4" y="140.68" class="cb" style="font-size:8px">4E-07</text>
<text x="111.4" y="153.18" class="cb" style="font-size:8px">3E-07</text>
<text x="111.4" y="165.68" class="cb" style="font-size:8px">2E-07</text>
<text x="111.4" y="178.18" class="cb" style="font-size:8px">1E-07</text>
<text x="111.4" y="190.68" class="cb" style="font-size:8px">0</text>
<text x="111.4" y="203.18" class="cb" style="font-size:8px">-1E-07</text>
<text x="111.4" y="215.68" class="cb" style="font-size:8px">-2E-07</text>
<text x="111.4" y="228.18" class="cb" style="font-size:8px">-3E-07</text>
<text x="111.4" y="240.68" class="cb" style="font-size:8px">-4E-07</text>
<text x="111.4" y="253.18" class="cb" style="font-size:8px">-5E-07</text>
<text x="111.4" y="265.68" class="cb" style="font-size:8px">-6E-07</text>
<text x="111.4" y="278.18" class="cb" style="font-size:8px">-7E-07</text>
<text x="111.4" y="290.68" class="cb" style="font-size:8px">-8E-07</text>
<text transform="translate(9.4 20.4) scale(0.943 1)" class="tt">1h-i<tspan class="sub" dx="1.2" dy="2">g</tspan></text>
<text transform="translate(51.8 20.4) scale(0.943 1)" class="tt">ig(A/cm<tspan class="sup" dy="-5.8">2</tspan><tspan dy="5.8">)</tspan></text>
<clipPath id="c3h"><rect x="153.7" y="31.9" width="64" height="276.4"/></clipPath>
<g clip-path="url(#c3h)">
<rect x="153.7" y="31.9" width="64" height="276.4" fill="#00e8c8"/>
<path d="M154.3 179.3l2.1-2.1l.7-1.4l.1-.8l-.5-1.4l-.6-.7l-2.4-1.4l0 8.2zM195.7 175.9l2.8 .4l2.9 0l12.1-1.1l4.2 0l0-10.3l-10.5-1.1l-5.1-.2l-5 .3l-2.1 .5l-1.4 .6l-1.3 .9l-1.1 1.4l-.6 2.1l-.1 2.2l.5 1.4l1.1 1.4l1.2 .7l2.1 .7z" fill="#000000" fill-rule="evenodd"/>
<path d="M154.4 181.4l4.3-1.8l4.2-1.5l3.6-.8l4.3-.4l3.5 0l5 .4l13.1 2l4.7 .4l4.9 0l10.7-.7l5-.1l0-3.8l-4.3 0l-11.4 1.1l-2.8 0l-2.8-.3l-2.9-.8l-1.4-.8l-1.2-1.4l-.5-2.1l.3-2.3l.9-2l1.6-1.4l1.6-.7l3.4-.7l4.6-.2l4.9 .2l10 1.1l0-4.4l-11.4-.7l-9.9-.2l-6.4 .2l-13.6 .7l-16.3-.5l-3.6 .2l-2.8 .5l0 10.8l2.4 1.5l.6 .7l.5 1.4l-.1 .7l-.7 1.4l-1.3 1.5l-1.4 1.1l0 2z" fill="#000070" fill-rule="evenodd"/>
<path d="M154.4 182.9l2.8-1l2.9-.6l2.8-.5l3.6-.2l9.2 .4l10 .2l12.8 .9l4.3 0l14.9-.7l0-2.4l-5 0l-10.7 .7l-4.9 0l-4.7-.4l-13.1-2l-5-.4l-4.3 0l-4.9 .7l-2.9 .8l-3.5 1.2l-5 2.2l0 1.4zM154.4 160.5l2.1-.3l3.6-.3l16.3 .5l13.6-.6l7.1-.2l9.9 .2l10.7 .6l0-2.8l-10-.5l-17.7-.7l-4.3 0l-11.4 .5l-12.8-.6l-5 .1l-2.8 .2l0 4zM217.7 57.1l0-9.2l-.7 1l-.7 1.4l-.4 2.1l.4 2.1l1.1 2.2z" fill="#0000c0" fill-rule="evenodd"/>
<path d="M154.1 184.3l4.6-1.2l2.9-.4l2.8-.1l10.7 .7l10.6-.2l11.4 1l6.4 0l14.2-.9l0-1.8l-18.4 .8l-14.3-1l-9.2-.1l-7.1-.4l-3.6 0l-4.2 .5l-5 1.2l-2.2 .8l0 1.2zM214.1 157.4l3.6 .2l0-2.2l-28.5-1.5l-4.3 0l-10.6 .6l-14.2-.5l-6.4 .2l0 2.4l6.4-.3l14.9 .6l14.2-.5l24.7 1zM217.7 59.4l0-2.3l-1.4-2.5l-.4-2.2l.4-2.1l.7-1.4l.7-.9l0-2.4l-1.4 1.2l-1.2 1.4l-.7 1.4l-.5 2.1l.1 1.4l.6 2.2l1.3 2.1l1.2 1.4z" fill="#0000ff" fill-rule="evenodd"/>
<path d="M196.4 185.7l6.4 .1l14.9-1.1l0-1.6l-13.5 .9l-5 .1l-12.8-1l-10.6 .1l-8.6-.6l-3.5-.1l-5 .5l-2.8 .6l-2.2 .8l0 1.1l4.3-1.1l5-.4l3.5 .1l8.6 .9l8.5-.4l3.6 .1l8.8 1zM215.6 155.2l2.1 .2l0-1.9l-29.1-1.8l-4.3 .1l-10.7 .7l-13.5-.4l-6.4 .2l0 1.8l6.4-.2l14.3 .6l14.2-.7l27 1.4zM217 61l.7 .5l0-2.1l-1.8-2l-1.3-2.1l-.6-2.1l-.1-1.4l.5-2.2l.7-1.4l1.2-1.4l1.4-1.2l0-2l-2.2 1.1l-2.1 1.8l-1 1.7l-.5 1.4l-.2 1.4l.1 2.2l.9 2.8l2 2.8l2.3 2.2z" fill="#0040ff" fill-rule="evenodd"/>
<path d="M154.4 269.5l1.3-.9l.8-1.4l.4-1.4l.2-2.2l-.1-7.1l.5-4.9l-.1-1.4l-.2-.8l-.7-1l-.7-.5l-.7-.2l-1.4 .1l0 21.9zM194.9 187.2l3.6 .3l3.5 0l15.7-1.5l0-1.3l-12.8 1l-5 .2l-3.6-.2l-9.2-1l-3.6 0l-8.5 .3l-9.3-.9l-3.5-.1l-4.3 .4l-4.2 1.1l0 1.1l4.2-1l4.3-.3l2.8 .1l10 1.1l11.4-.4l7.9 1zM212.7 153.1l5 .4l0-1.7l-29.9-1.9l-4.3 .1l-10.6 .7l-13.5-.1l-5.7 .2l0 1.5l6.4-.2l13.5 .4l10.7-.7l4.2 0l23.9 1.3zM217 63.3l.7 .4l0-2.2l-2.4-2l-2.2-2.8l-1.2-2.8l-.3-2.2l.3-2.1l.8-2.1l.7-1.1l1.1-1l1.8-1.2l1.4-.7l0-2l-4 1l-1.4 .7l-1 .8l-.7 .8l-.8 1.3l-.5 1.4l-.3 2.1l0 2.1l.4 2.2l.7 2.1l.8 1.4l2.2 2.8l1.5 1.5l2 1.4z" fill="#0080ff" fill-rule="evenodd"/>
<path d="M154.4 308.3l19 0l-.1-1.4l-.6-1.4l-1.9-2.7l-2.9-2.4l-7.8-5.3l-1.5-1.7l-1-2.1l-.2-1.4l.1-2.2l.8-2.8l1.3-2.1l4.5-6.4l1.9-4.2l1.2-5l.3-2.8l.1-2.2l-.5-3.5l-1.8-7.1l-.9-2.8l-1.1-2.2l-1.8-2.1l-1.4-1l-2.1-.9l-2.2-.3l-2.1 .1l0 5.4l1.4-.1l.7 .2l.7 .5l.8 1.1l.2 2.1l-.5 5l.2 6.3l-.3 2.9l-.4 1.4l-.7 1.2l-1 .9l-1.1 .4l0 38.6zM217.7 283.8l0-23.5l-3-3.1l-1.7-1.4l-5.3-3.4l-1.9-1.5l-4.5-4.9l-1.4-1.2l-1.4-.8l-1.4-.3l-1.4 .1l-1.5 .5l-1.7 1.6l-1.1 1.8l-2.4 6.7l-1.9 4.2l-.3 1.5l0 1.4l.4 1.4l.9 2.1l1.4 2.2l2.4 2.8l2.1 2.1l1.9 1.4l1.9 1.1l2.1 .9l7.1 2.5l2.9 1.2l2.6 1.4l4.5 2.9zM194.2 188.6l4.3 .4l5.7-.3l13.5-1.6l0-1.1l-13.5 1.3l-4.3 .2l-3.6-.2l-9.2-1.2l-3.6 0l-8.5 .3l-12.1-1.1l-5 .2l-4.2 1l0 1.1l4.2-.9l4.3-.2l12.1 1.2l12.1-.3l7.1 1.1zM216.3 151.7l1.4 .1l0-1.5l-29.1-2.1l-5 0l-12.8 .9l-17.1 .4l0 1.3l5.7-.2l13.5 .1l10.7-.7l4.3-.1l28.3 1.8zM176.5 97.9l2.8 .1l7.2-.5l7.8 .2l2.8-.3l2.2-.5l2.1-1l1.3-.9l1.9-2.1l.7-1.4l.4-1.4l0-1.5l-.2-1.4l-.8-1.4l-1.2-1.1l-2.1-1l-2.1-.4l-9.3-1l-7.1-.4l-4.3 .2l-2.8 .6l-2.9 1.4l-2.1 1.9l-1.2 1.9l-.4 1.5l-.1 1.4l.2 1.4l.4 1.4l.9 1.4l.6 .7l2.3 1.4l2.6 .8zM216.3 66l1.4 .6l0-2.9l-2.1-1.3l-1.8-1.4l-1.4-1.5l-1.5-2.1l-.8-1.4l-.7-2.1l-.4-2.2l0-2.1l.5-2.8l1.2-2.1l1.3-1.3l1.5-.8l2.1-.7l2.1-.4l0-2.4l-5.7-.8l-2.8-.9l-.8-.5l-1.2-1.5l-.5-1.4l-.4-2.1l-28.6 0l-1.2 1l-5 1.7l-2.1 1l-6.4 4.8l-2.9 1.7l-2.8 1l-2.2 .4l-1.4 0l0 14l2.2 0l2.8 .3l3.6 .8l7.1 2.1l1.4 .2l1.4-.1l1.4-.5l1.5-1.1l1.4-2.1l1.4-3.2l.7-2.2l.6-2.8l1-9.2l.2-1.4l.5-1.4l.6-.7l.7-.5l2.1-.4l2.8 .2l3.6 1l10 3.6l1.4 .9l.7 .6l.7 1.1l.7 1.8l1.8 8.7l.9 2.8l1 2.1l1.4 2.1l2 2.3l2.2 1.8l2.6 1.6z" fill="#00c0ff" fill-rule="evenodd"/>
<path d="M173.6 308.3l11.3 0l-.3-2.1l-.7-2.2l-1.1-2.1l-1.4-2l-2.8-3l-7.1-5.6l-1.5-1.7l-.8-1.9l-.2-1.4l.4-2.1l.9-2.1l1.2-2.3l2.1-3.3l1.4-1.8l1.4-1.1l1.5-.6l2.1-.2l2.8 .7l2.2 1l6.4 3.7l2.7 1l7.2 2.4l4 1.9l2.1 1.4l2.1 2.1l1.5 2.2l2.4 4.7l1.4 1.9l.8 .5l.7 .1l1.4-.4l0-12.2l-7.8-4.6l-2.9-1.2l-7.1-2.4l-2.1-.9l-1.9-1.1l-2.7-2.2l-2.6-2.8l-2.1-2.8l-1.3-2.9l-.4-2.1l.3-2.1l1.9-4.3l2.4-6.7l1.1-1.8l1-1l1.4-.8l1.5-.4l2.1 .4l2 1.1l5.3 5.7l1.9 1.5l5.3 3.5l1.7 1.4l3 3l0-9.8l-3.6-1.3l-2.8-1.5l-2.2-1.8l-4.1-4.2l-1.5-1.1l-1.5-.7l-2.8-.9l-2.8-.2l-2.9 .3l-2.1 .8l-1.8 1.1l-1.6 1.4l-3.7 4.9l-2.2 2.1l-1.4 1l-1.4 .7l-1.4 .4l-1.5 .1l-2.1-.3l-2.1-1.1l-2.2-2l-3.6-4.4l-1.7-1.4l-1.8-1.2l-2.1-1l-2.2-.6l-2.8-.5l-2.1 .1l0 3.2l1.4-.1l1.4 0l2.7 .8l2.3 1.4l1.8 2.1l1.1 2.2l.7 2.1l2 7.8l.5 2.8l0 2.2l-.3 2.8l-.5 2.8l-.8 2.9l-1.9 4.2l-4.5 6.4l-1.3 2.1l-.8 2.8l-.1 2.2l.2 1.4l1 2.1l1.5 1.7l7.8 5.3l2.9 2.4l1.9 2.7l.6 1.4l.1 1.4zM193.5 190.1l4.3 .6l4.2-.3l10-1.5l5.7-.6l0-1.1l-14.2 1.7l-4.3 .2l-3.6-.2l-6.4-1.1l-2.8-.3l-12.1 .3l-12.1-1.2l-4.3 .1l-4.2 1l0 1.1l3.5-.8l4.3-.2l12.8 1.2l11.4-.2l2.8 .3l4.4 .9zM217.7 150.3l0-1.4l-30.6-2.4l-5.7 .1l-14.2 1.2l-13.5 .5l0 1.2l17.8-.4l11.4-.8l4.2-.1l5.7 .2l24.6 1.9zM173.6 100.7l4.3 .3l16.3-.2l3.6-.2l3.5-.7l4.6-1.4l4.1-2.1l3.8-2.8l.7-.8l.8-1.4l.1-2.1l-.9-7.8l0-5l.2-1.4l.5-1.4l1.2-1.4l1.3-.8l0-4.9l-2.9-1.4l-2.8-2l-2.1-2.2l-1.6-2.2l-1.1-2.1l-.8-2.1l-2.2-10.1l-.7-1.8l-.7-1.1l-1.5-1.1l-1.4-.7l-9.2-3.3l-2.9-.9l-2.1-.3l-2.1 .1l-1.5 .3l-.7 .5l-.5 .7l-.6 2.1l-1 9.1l-.9 4.4l-1.1 2.8l-1 2.1l-1.3 1.8l-1.4 1.1l-1.4 .5l-2.2 0l-10.6-2.8l-2.9-.4l-2.8-.1l0 12.2l.7-.5l1.4-.6l1.4 0l1.5 .4l.8 .5l1.3 1l.9 1.1l.6 1.4l.2 1.4l-.2 1.4l-2.1 5l-.5 2.8l.3 2.9l1 2.8l2.6 5l2.2 2.8l1.4 1.2l1.6 .9l2 .8l2.5 .6zM176.1 97.8l-2.7-.7l-2.2-1.4l-.7-.7l-.8-1.5l-.5-1.4l-.2-1.4l.1-1.4l.5-1.4l1.2-1.9l2.1-1.9l2.8-1.4l2.9-.7l4.3-.2l7.1 .5l9.2 .9l2.1 .5l2.2 .9l1.2 1.2l.7 1.4l.3 1.4l-.1 1.4l-.4 1.4l-.7 1.4l-1.9 2.2l-1.3 .8l-2.1 1l-2.1 .6l-2.9 .3l-7.8-.2l-7.1 .4l-2.8-.1zM190.5 75.1l-1.9-.6l-1.5-.6l-1.2-.9l-.6-.7l-.4-.7l-.4-1.5l-.1-1.4l.3-1.4l2.1-7.1l1.8-7.1l1.2-2.8l.9-1.2l1.4-1l1.4-.4l2.2 0l1.4 .5l1.4 1l1.1 1.1l1.1 1.7l.7 1.8l2.4 7.1l2.1 5l.4 1.4l.1 1.4l-.5 1.4l-1.1 1.5l-1.8 1.4l-2.7 1.4l-2.1 .7l-2.5 .4l-2.2 0l-2.8-.4zM154.4 43.5l2.8-.4l2.9-1l2.8-1.6l6.4-4.9l2.2-1l4.9-1.6l1.3-1.1l-18.5 0l-1 1.4l-1.4 1.4l-1.7 1.2l-1.4 .7l0 6.9zM217 39l.7 .1l0-7.2l-11.4 0l.6 2.8l.8 1.4l.8 .8l1 .6l2.2 .7l4.8 .8z" fill="#00ffff" fill-rule="evenodd"/>
<path d="M185 308.3l6.8 0l1.1-2.8l.2-1.5l-.3-2.1l-3.5-7.8l-.8-3.5l0-1.4l.4-1.5l1.1-1.2l1.4-.7l1.4-.4l2.2-.1l2.1 .3l1.4 .5l1.4 .7l1.4 .9l.8 .8l.8 1.4l.7 2.1l0 2.8l-.5 2.2l-1.6 4.2l-.3 2.1l.5 2.2l1.8 2.8l14.2 0l0-12.3l-1.4 .4l-.7-.1l-.7-.5l-1.5-1.9l-2.4-4.7l-1.4-2.2l-2.2-2.1l-2-1.4l-4-1.9l-7.3-2.4l-2.7-1l-6.4-3.7l-2.1-1l-2.2-.6l-2.1-.1l-1.4 .4l-1.4 .9l-1.5 1.4l-1.4 2l-1.9 3.2l-1.4 2.8l-.5 2.1l-.1 1.4l.8 2.2l1.7 2l7.1 5.7l2.8 3l1.4 2l1.1 2.1l.7 2.2l.4 2.1zM175.7 251.6l1.4 0l2.2-.5l1.4-.7l1.4-1l2.1-2.1l3.8-4.9l1.2-1.2l1.4-.9l2.9-1.2l2.8-.3l3.6 .4l2.9 1.1l2.1 1.4l4.2 4.2l2.2 1.8l2.8 1.5l3.6 1.3l0-10.3l-2.2 .6l-1.4-.2l-7-3.2l-5.1-1.4l-5-.6l-4.2 .1l-3.6 .7l-2.7 1.2l-2 1.4l-3.8 3.9l-1.4 1.2l-1.5 .7l-2.1 .2l-2.1-.6l-5.7-4l-4.2-2.1l-5.1-1.4l-4.9-.5l0 3l2.1-.1l2.8 .4l2.2 .7l2.1 1l1.8 1.2l1.6 1.4l5.1 5.8l2.2 1.4l2.1 .6zM195.7 192.1l2.1 .1l2.9-.2l10.6-2l6.4-.8l0-1l-5.6 .7l-10 1.5l-3.6 .2l-2.8-.2l-7.1-1.4l-3.6-.3l-10.6 .2l-10.7-1l-2.8-.2l-3.6 .3l-3.6 .8l0 1.1l3.6-.7l3.6-.2l12.8 1l9.2-.1l2.8 .1l2.9 .4l6.8 1.7zM217.7 148.9l0-1.3l-32-2.7l-6.4 .2l-14.2 1.6l-11.4 .5l0 1.1l13.5-.5l14.2-1.1l5.7-.2l30.2 2.4zM174.3 103.5l7.8 .1l14.2-.3l7.2-.8l9.9-1.7l4.3 0l0-29.3l-1.3 .8l-.7 .7l-.8 1.4l-.4 1.4l-.1 4.3l1 9.2l-.1 2.1l-.8 1.4l-2.4 2.2l-3.3 2.1l-2.9 1.4l-3.2 1.1l-2.8 .6l-5.7 .6l-17.1 .2l-4.2-.4l-3.6-1.1l-2.7-1.7l-2.1-2.1l-1.7-2.9l-1.8-3.5l-.8-2.1l-.5-2.2l0-1.4l.3-2.1l2-5l.4-1.4l0-1.4l-.4-1.4l-.5-.9l-1-1.2l-1.1-.8l-1.4-.7l-2.2-.1l-1.8 .9l-.3 .2l0 30.6l2.1-.8l2.1-.1l7.9 2.9l3.5 .7l4.6 .5zM190.7 75.2l2.8 .4l2.2 0l2.5-.4l2.1-.8l2.7-1.4l1.8-1.4l1.1-1.4l.5-1.4l-.1-1.4l-.4-1.5l-2.1-4.9l-2.4-7.1l-.7-1.9l-1.1-1.6l-1.1-1.2l-1.4-.9l-1.4-.5l-2.2-.1l-1.4 .4l-1.4 1l-.9 1.3l-1.2 2.8l-1.8 7.1l-2.1 7.1l-.3 1.4l.1 1.4l.4 1.4l.4 .7l.6 .7l1.2 .9l1.5 .7l1.9 .6zM154.4 36.3l1.5-.9l1.3-1.1l2-2.4l-5.4 0l-.1 .1l0 4.6z" fill="#00e8c8" fill-rule="evenodd"/>
<path d="M192.1 308.3l11.4 0l-1.8-2.8l-.5-2.2l.3-2.1l1.6-4.2l.5-2.2l.1-2.1l-.5-2.1l-1.1-2.1l-1.5-1.3l-2.1-1.1l-2.1-.6l-2.9-.2l-1.4 .2l-1.4 .6l-1.3 .9l-.5 .7l-.4 1.2l0 1.7l.6 2.8l.9 2.3l2.3 4.8l.7 2.1l.1 1.4l-.2 1.5l-1.1 2.8zM175 244.7l1.4 .1l2.2-.6l2.1-1.5l3-3.2l2-1.6l2.2-1.2l2.7-.9l2.9-.4l2.8-.1l5.7 .7l5.1 1.4l6.3 3l2.1 .4l2.2-.6l0-4.9l-4.3-.3l-14.9-2.3l-4.3-.3l-3.6 0l-3.5 .3l-2.9 .7l-2.9 1.2l-4.2 2.1l-1.4 .5l-1.4 .1l-2.1-.3l-10-2.5l-8.5-1.3l0 3l4.9 .5l5.1 1.4l3.5 1.7l5.7 3.9l1.5 .8zM194.2 193.6l2.8 .3l2.9-.4l10.7-2.4l7.1-1l0-.9l-6.4 .8l-10 1.8l-3.5 .4l-2.9-.2l-6.4-1.6l-3.9-.5l-11 .1l-12.8-1l-3.6 .2l-3.5 .7l0 1.4l4.2-.7l2.9-.1l11.4 .5l12 .1l3.6 .6l5.7 1.7zM216.3 147.4l1.4 .1l0-1.2l-28.4-2.9l-5-.3l-6.4 .3l-9.2 1.6l-5 .6l-10 .5l0 1l5-.1l9.2-.6l12.1-1.4l5.7-.2l30.6 2.6zM155.8 105.6l6.4 .3l22.8 .3l19.2-1.2l13.5-1.1l0-3.2l-4.3 .1l-10 1.7l-6.4 .7l-7.1 .3l-12.8 .1l-5.7-.4l-4.2-.6l-3.6-1l-5-2l-2.1-.3l-1.4 .4l-1.4 .6l0 5.2l1.6 .1zM153.8 31.9l-.1 .1z" fill="#00d090" fill-rule="evenodd"/>
<path d="M171.5 236.9l2.1 .4l2.2-.1l2.1-.7l3.5-1.9l2.2-.9l2.8-.8l2.9-.4l4.2-.1l4.3 .2l5 .7l9.9 1.7l4.3 .3l.7 0l0-2.5l-6.4-.6l-14.9-2.3l-6.4-.6l-3.6-.1l-3.5 .3l-9.3 1.7l-3.5 .3l-7.1-.4l-9.3-1.2l0 3.4l8.6 1.2l8.6 2.2zM194.9 195.7l1.4 .1l2.2-.4l10.6-3l4.3-.9l4.3-.6l0-.8l-6.4 .9l-11.4 2.5l-2.9 .4l-2.8-.3l-6.4-1.9l-4.3-.6l-11.4-.1l-11.3-.5l-2.9 .1l-4.2 .7l0 1.7l2.1 0l5.7-.7l4.2-.2l12.1-.1l5 .2l4.3 .8l7.1 2.6zM154.4 146.1l10-.6l13.5-2l4.9-.4l5.7 .3l29.2 2.9l0-1.3l-17.8-1.8l-12.8-1.7l-5-.2l-4.9 .4l-9.3 2l-4.3 .7l-4.9 .5l-5 .2l0 1zM154.4 109.4l5 .2l14.2-.9l10 .4l3.5-.1l10-1.1l12.6-.9l8-.7l0-2.3l-15.7 1.3l-16.3 1l-23.5-.4l-8.5-.4l0 3.8z" fill="#00c070" fill-rule="evenodd"/>
<path d="M214.1 232.5l3.6 .2l0-1.9l-4.3-.4l-5-.6l-14.2-3.1l-5.7-.8l-6.4-.3l-5 0l-10.6 1.1l-4.3 .2l-5-.3l-3.5-.8l0 4.1l6.4 .9l7.1 .6l4.2 0l2.9-.4l8.5-1.5l6.4-.3l6.4 .5l12.1 2l6 .8zM157.3 203.5l.7-.3l.9-1.2l.5-1.4l.6-2.8l.6-1.4l.6-.8l1.8-1.1l2.8-.8l3.6-.5l4.3-.2l4.9 0l3.6 .3l2.1 .4l2.2 .7l6.4 3.1l1.4 .4l1.4 .1l2.1-.5l6.5-2.6l4.2-1.3l4.3-1.1l4.9-.7l0-.8l-7.8 1.3l-10.6 3l-2.9 .5l-2.8-.3l-7.4-2.7l-4.7-.6l-16.4 0l-9.2 .9l-2.2 0l0 2.8l.5 .5l.7 1.4l1 4.7l.7 .9l.4 0zM154.4 145.1l5-.2l5-.5l4.2-.8l7.8-1.8l5-.5l5.7 .2l12.8 1.7l17.8 1.9l0-1.3l-17.8-2.1l-13.5-2.2l-5-.3l-2.8 .2l-2.2 .4l-7.8 2.3l-4.6 1.1l-5.3 .7l-5 .1l0 1.1zM154.4 112.9l5 0l9.2-1.1l4.3-.3l3.5 .1l7.2 .7l2.8-.1l10.7-2l14.2-1.2l6.4-.9l0-1.8l-8 .7l-12.6 .9l-11.4 1.2l-12.1-.4l-14.2 .9l-2.9 0l-2.8-.3l0 3.5z" fill="#00b050" fill-rule="evenodd"/>
<path d="M212.7 230.4l5 .4l0-1.7l-5.7-.6l-5.7-1.1l-4.4-1.3l-7-2.6l-3.5-.8l-16.4-1.8l-3.4 .3l-8 1.3l-4.2 0l-2.2-.3l-1.4-.5l-1.4-.9l-.7-.7l0 5.7l2.8 .7l2.9 .4l3.5 0l3.6-.1l10.6-1.2l10.7 .3l5.7 .7l11.4 2.5l7.5 1.3zM155.1 207.8l.7 .3l1.4-.1l1.5-.8l.7-.6l1.4-2.2l1.7-5.3l1.1-2.1l1.7-1.4l2.6-1l2.8-.5l4.3-.3l3.6 .1l3.5 .5l2.2 .6l2.1 1l6.4 4.3l2.1 .4l2.2-.6l5.3-3.1l3.9-1.8l5.7-1.7l5.7-1l0-.8l-5 .8l-4.3 1l-4.1 1.4l-6.5 2.6l-2.2 .4l-1.4-.1l-1.4-.4l-6.4-3.1l-2.1-.6l-2.2-.4l-3.5-.3l-5-.1l-4.3 .2l-3.5 .5l-2.9 .9l-1.7 1.1l-.6 .7l-.7 1.4l-.5 2.8l-.5 1.5l-1 1.1l-.7 .3l-.7-.1l-.7-.8l-1-4.8l-.7-1.4l-.4-.5l0 8.5l.7 2.6l.5 .7zM154.4 144l5-.2l4.6-.6l4.6-1.1l7.8-2.4l2.2-.4l2.8-.2l5 .3l13.5 2.2l17.8 2.2l0-1.4l-17.1-2.3l-6-1.2l-8.9-2.1l-2.9-.4l-2.1 0l-2.1 .2l-2.2 .5l-7.5 3.2l-4.5 1.5l-5 .8l-5.7 .3l0 1.1zM154.4 116.8l4.3-.2l9.2-1.4l4.3-.4l3.5 .1l7.1 1.1l2.9 0l2.1-.4l6.7-2.2l3.3-.8l14.2-1.8l5.7-1l0-1.7l-6.4 .8l-14.2 1.3l-11.4 2l-2.9 0l-6.4-.6l-3.5-.1l-4.3 .3l-9.9 1.1l-5-.1l0 4z" fill="#00a830" fill-rule="evenodd"/>
<path d="M216.3 229l1.4 .1l0-1.6l-3.5-.4l-3.6-.6l-2.8-.7l-3.2-1.1l-4-2.1l-4.9-3.9l-2.2-1.1l-1.4-.1l-5 .6l-2.1 0l-7.8-.9l-3.6-.2l-11.3 .7l-1.5-.1l-1.7-.7l-.8-.7l-.6-1.4l.3-1.4l2.8-3.7l1.1-2l2.1-7.1l.6-1.4l.9-1.4l.8-.8l2.4-1.2l3.5-.8l3.6-.2l3.5 .2l3.6 .9l2.1 1l1.4 1l2.1 2l3.6 4.2l1.4 1l.8 .1l1.4-.4l5-4.9l1.9-1.4l2.3-1.5l2.9-1.3l2.8-1l3.6-.9l3.5-.5l0-.8l-5.7 1l-4.8 1.4l-4.8 2.1l-5.3 3.1l-2.1 .6l-2.2-.4l-1.4-.8l-4.4-3.2l-2-1l-2.1-.7l-2.9-.5l-3.5-.2l-3.6 .1l-3.5 .4l-2.2 .5l-1.4 .5l-1.4 .9l-.8 .7l-1.1 2.2l-1 3.5l-.9 2.1l-1.2 1.8l-1.4 1.1l-1.4 .5l-.7 0l-.8-.3l-.7-.9l-.7-2.6l0 15.7l1.2 1l1.4 .8l2.4 .5l3.6 .2l3.5-.4l6.4-1.1l2.9-.2l15.6 1.7l4.3 .9l6.9 2.6l3.7 1.1l5 1.1l5 .6zM154.4 142.9l5-.3l5-.9l4.5-1.4l7.5-3.2l2.2-.5l2.1-.2l2.1 0l2.9 .4l8.9 2.1l6 1.1l17.1 2.4l0-1.5l-12.6-2l-6.6-1.4l-4.4-1.4l-8.4-3.8l-2.1-.5l-2.2-.2l-2.8 .5l-2.2 .8l-2.1 1.3l-5.5 4l-2.8 1.4l-3.1 1.1l-2.8 .6l-3.6 .4l-2.8 0l0 1.2zM154.4 122.5l5-.5l8.5-2l4.3-.5l3.5 .3l7.1 2.2l1.5 .1l1.4-.2l2.1-.8l5.5-3.5l3.8-1.8l4.9-1.3l15.7-3l0-1.7l-5.7 1l-14.2 1.8l-3.3 .8l-6.7 2.2l-2.1 .4l-2.9 0l-7.1-1.1l-3.5-.1l-4.3 .3l-9.9 1.5l-4.3 .2l0 5.7z" fill="#00a000" fill-rule="evenodd"/>
<path d="M212.7 226.9l5 .6l0-1.7l-5-.6l-4.2-1.2l-3-1.4l-2.7-2.2l-1.2-1.4l-.9-1.4l-1.2-2.8l-.8-3.6l0-3.5l.7-2.9l1.1-2.1l1.6-2.1l1.6-1.4l2.1-1.4l2.8-1.5l4.2-1.4l4.9-.9l0-.7l-3.6 .5l-2.8 .7l-2.9 .9l-2.8 1.3l-3.1 1.8l-1.8 1.4l-5.1 4.9l-1.4 .4l-.7-.1l-1.4-1l-3.7-4.2l-2-2l-1.4-1l-2.2-1l-3.5-.9l-3.6-.2l-3.5 .2l-3.6 .8l-2.1 1.1l-1.6 1.6l-1 2.1l-1.5 5.7l-.9 2.1l-1.4 2.3l-1.7 1.9l-.7 1.5l.1 1.4l.9 1.1l1.4 .8l1.4 .3l2.8 0l9.3-.7l3.5 .2l7.9 .9l2.1 0l5-.6l1.4 .1l2.1 1l3.9 3.3l3.5 2.1l4 1.6l5.2 1.2zM171.1 214l-2.5-.4l-2.1-.7l-1.4-1l-.6-1.4l-.2-2.9l.5-4.2l.8-2.9l1.4-2.1l1.6-1.2l2.1-.9l2.2-.5l2.8-.2l2.9 .3l2.1 .5l2.1 .8l1.8 1.2l1.4 1.4l1 1.4l1.1 2.2l.7 2.1l.3 2.1l-.1 1.4l-.3 1.5l-.9 1.4l-.7 .7l-1.4 .9l-2.9 .8l-4.2 .1l-7.1-.4zM154.4 141.8l2.8-.1l2.9-.3l5-1.4l3.7-1.8l5.5-4l2.1-1.2l2.2-.8l2.8-.5l2.2 .1l2.1 .6l8.4 3.7l4.4 1.4l6.6 1.4l12.6 2.1l0-1.7l-11.1-2.5l-4.3-1.4l-3-1.4l-1.9-1.4l-1.2-1.4l-.6-1.5l-.3-2.1l.2-2.1l.7-2.1l1.3-2.2l1.7-1.5l2.1-1.3l3.5-1.4l12.9-3.6l0-1.8l-15.7 2.9l-4 1.1l-3.4 1.4l-6.8 4.2l-1.4 .6l-1.4 .3l-1.4 .1l-1.5-.3l-6.8-2.1l-3.1-.2l-3.6 .3l-9.9 2.3l-5 .4l0 4.9l7.1 .2l4.3 .7l1.6 .6l1 .7l.6 .7l.5 1.5l-.2 1.4l-.5 1.4l-1 1.4l-1.5 1.4l-2.5 1.4l-3 1l-2.9 .5l-3.5 0l0 1.4l.2 0z" fill="#50b000" fill-rule="evenodd"/>
<path d="M214.1 225.4l3.6 .4l0-1.7l-2.2-.2l-2.8-.6l-3.6-1.4l-2.8-2l-2-2.3l-1.5-2.9l-1.1-3.5l-.5-2.8l.1-2.2l.5-2.1l.6-1.4l1.6-2.1l1.6-1.5l2.2-1.4l3.1-1.4l3.2-1l3.6-.6l0-.8l-3.6 .7l-3.7 1l-3.3 1.4l-2.4 1.4l-2.6 2.2l-1.6 2.1l-1.1 2.1l-.7 2.8l0 3.6l.7 3.5l1.2 2.9l1.5 2.1l2.3 2.1l2.4 1.4l3.7 1.4l3.4 .8zM171.5 214.1l7.1 .4l4.3-.2l2.8-.7l1.4-.9l.8-.7l.8-1.5l.3-1.4l.1-1.4l-.3-2.1l-.7-2.2l-1-2.1l-1.1-1.4l-1.4-1.4l-1.7-1.2l-2.2-.9l-2.1-.5l-2.8-.2l-2.9 .2l-2.2 .4l-2 .9l-1.7 1.3l-1.3 2.1l-.8 2.8l-.6 4.3l.2 2.8l.7 1.4l1.3 1.1l2.2 .7l2.4 .4zM172.2 211.9l-2.1-.6l-1.6-.8l-1.3-1.3l-.6-1.6l-.3-2.1l.3-2.8l.7-2.1l1-1.5l1.8-1.3l1.4-.6l2.1-.4l2.2-.2l2.1 .2l2.1 .6l1.5 .6l1.7 1.1l1.8 2.2l.6 1.4l.4 1.4l.1 1.4l-.1 1.4l-.4 1.5l-.9 1.4l-1.8 1.3l-2.9 .9l-4.2 .3l-3.6-.4zM154.4 140.4l3-.1l3.4-.7l2.3-.7l2.5-1.4l1.5-1.5l1.3-2.1l.4-2.1l-.5-1.4l-.6-.7l-1-.8l-3.1-.9l-4.2-.5l-5.7-.1l0 3.5l3.5 0l1.5 .2l2 .7l1.1 .7l.7 .7l.3 .7l.1 .7l-.6 1.4l-.6 .7l-1.6 1l-2.9 .8l-2.1 .2l-1.4-.1l0 1.8zM216.3 139l1.4 .3l0-2.5l-5.6-2.1l-2.5-1.4l-1.6-1.4l-.4-.8l-.6-1.4l-.6-4.9l.5-2.2l1.6-2.1l3-2.1l6.2-2.8l0-2.2l-13.5 3.8l-2.9 1.2l-1.4 .8l-1.7 1.3l-1.2 1.4l-.8 1.5l-.5 1.4l-.4 2.1l.3 2.8l.7 1.4l1.1 1.5l2 1.4l1.3 .7l3.6 1.4l5.1 1.4l6.6 1.4z" fill="#b0e000" fill-rule="evenodd"/>
<path d="M216.3 224l1.4 .1l0-1.8l-3.5-.7l-2.9-1.1l-2.2-1.5l-2.1-2.1l-1.4-2.2l-1.5-3.5l-.7-2.8l-.1-2.2l.4-2.1l.5-1.4l1-1.4l1.4-1.4l2-1.5l2.8-1.4l2.8-.9l3.5-.7l0-.7l-3.5 .6l-3.2 1l-3.1 1.4l-2.2 1.5l-1.6 1.4l-1.6 2.1l-.8 2.1l-.4 2.1l.1 2.9l1 3.5l1.5 3.6l1.5 2.1l2.4 2.1l2.1 1.1l2.8 1.1l3.3 .7zM172.2 211.9l3.6 .4l4.2-.3l2.9-.9l1.8-1.3l.9-1.4l.4-1.5l.1-1.4l-.1-1.4l-.4-1.4l-.7-1.4l-1.7-2.2l-1.8-1.1l-1.4-.6l-2.1-.6l-2.1-.2l-2.2 .2l-2.1 .4l-1.4 .6l-1.8 1.3l-1 1.5l-.8 2.1l-.2 2.8l.3 2.1l.6 1.6l1.3 1.3l1.6 .8l2.1 .6zM174.9 210.5l-2-.3l-1.5-.5l-1.2-.6l-.9-.8l-.9-1.3l-.4-1.5l-.1-1.4l.1-1.4l.5-1.4l.8-1.2l1.1-.9l1-.7l2.9-.8l2.1 0l1.4 .3l1.5 .4l1.4 .7l1.7 1.5l1.2 2.1l.2 1.4l0 1.4l-.8 2.2l-1.6 1.5l-1.4 .7l-1.5 .4l-3.5 .2zM154.4 138.7l1.4 0l2.2-.3l2.8-1l.9-.6l1-1.5l.1-1.4l-.3-.7l-1-.9l-2.1-1l-2.9-.5l-2.8 .1l0 7.7zM217.7 136.8l0-12.6l-.5-.9l-.3-1.4l.3-1.4l.5-.9l0-4.1l-4.9 2.1l-3.5 2.2l-2 2.1l-.7 1.4l-.2 1.4l.6 5l.5 1.4l.5 .7l1.6 1.4l2.5 1.4l5.5 2.2z" fill="#ffff00" fill-rule="evenodd"/>
<path d="M215.6 222l2.1 .3l0-2.1l-2.8-.6l-2.1-.9l-2.2-1.5l-1.4-1.4l-1.8-2.5l-1.5-2.8l-.8-2.8l-.1-2.2l.3-1.4l.6-1.4l.9-1.4l1.5-1.4l1.6-1.1l2.1-1.1l2.9-1l2.8-.6l0-.7l-2.8 .6l-2.9 .8l-2.1 .9l-2.4 1.5l-1.7 1.4l-1.1 1.4l-.8 1.4l-.5 2.1l-.1 2.2l.6 2.8l1.1 2.8l1.5 2.9l1.8 2.1l1.7 1.4l2 1.2l2.9 .9zM175 210.5l3.6-.2l1.4-.4l1.4-.7l1.6-1.5l.8-2.2l.1-1.4l-.3-1.4l-1.2-2.1l-1.7-1.5l-1.4-.7l-1.5-.5l-1.4-.2l-2.1 0l-2.9 .8l-1 .7l-1.1 .9l-.8 1.2l-.5 1.4l-.1 1.4l.1 1.4l.4 1.4l.9 1.4l.9 .8l1.2 .6l1.5 .5l2 .3zM173 208.4l-1.4-.7l-.8-.7l-.9-1.4l-.3-1.5l.1-1.4l.3-.8l.7-1.1l1.1-.9l1.1-.5l2.1-.5l1.4 0l1.4 .4l2.2 1.1l1.4 1.6l.4 1.4l-.3 2.2l-.8 1.3l-1.4 1.1l-1.5 .6l-2.1 .2l-2.1-.2zM217.7 124.2l0-4.6l-.5 .9l-.3 1.4l.3 1.4l.4 .7z" fill="#ffd000" fill-rule="evenodd"/>
<path d="M215.6 219.8l2.1 .4l0-2.2l-1.8-.4l-1.7-.8l-2.2-1.4l-1.5-1.4l-1.7-2.1l-1.2-2.1l-.8-2.2l-.1-2.1l.2-1.4l.5-1.4l1.7-2.2l2-1.4l1.7-.8l2.1-.8l2.8-.6l0-.8l-2.8 .6l-2.1 .7l-2.3 1l-2 1.3l-1.7 1.6l-.9 1.4l-.6 1.4l-.3 1.4l.1 2.1l.6 2.2l.9 2.1l1.8 2.8l1.5 1.8l1.4 1.2l2.1 1.3l1.8 .7zM173.6 208.5l2.1 .3l2.2-.3l1.4-.6l1.4-1l.9-1.4l.2-2.1l-.4-1.5l-1.4-1.6l-2.1-1.1l-1.5-.3l-1.4-.1l-2.1 .5l-1.1 .5l-1 .9l-.8 1.1l-.3 .9l-.1 1.4l.3 1.4l.9 1.4l.8 .7l1.4 .7zM173.3 206.2l-.8-.7l-.5-.7l-.3-1.4l.4-1.5l.8-.8l1.5-.7l2.1 0l1.4 .5l1.2 1l.4 .8l.1 1.4l-.3 .7l-.7 .9l-.7 .6l-1.4 .5l-1.4 0l-1.5-.4z" fill="#ffaa00" fill-rule="evenodd"/>
<path d="M216.3 217.7l1.4 .3l0-2.3l-2.1-.6l-1.4-.7l-2.2-1.6l-1.4-1.5l-1.1-1.5l-.7-1.4l-.5-2.2l0-1.4l.7-2.1l.9-1.3l.9-.8l1.2-.9l2.2-1l3.5-1l0-.8l-4.2 1.1l-2.2 1l-1.4 .9l-1.5 1.4l-1 1.4l-.5 1.4l-.3 1.4l.1 1.4l.6 2.2l.6 1.4l1.3 1.9l1.4 1.7l1.4 1.4l2.2 1.4l1.7 .7zM173.6 206.4l1.4 .4l1.4 0l1.5-.5l.7-.6l.7-.9l.2-.7l-.1-1.4l-.3-.7l-1.2-1.1l-1.5-.5l-2.1 0l-1.4 .7l-.8 .9l-.5 1.4l.3 1.4l.5 .7l.9 .7z" fill="#ff7000" fill-rule="evenodd"/>
<path d="M217 215.6l.7 .2l0-2.2l-2.8-1l-1.5-1l-1.4-1.2l-1-1.3l-.7-1.4l-.4-1.4l-.1-1.5l.7-2.1l1.2-1.4l2.5-1.6l3.5-1.2l0-.8l-3.5 1l-2.2 1l-1.2 .9l-.9 .8l-1 1.3l-.5 1.4l-.2 1.4l.1 1.5l.5 1.4l.7 1.4l1.1 1.5l1.4 1.5l1.4 1.1l1.5 .9l1.7 .7z" fill="#ff4000" fill-rule="evenodd"/>
<path d="M217 213.4l.7 .2l0-1.9l-2.1-.8l-1.4-1l-1-.9l-1.4-2.1l-.3-2.1l.4-1.4l.9-1.4l1.9-1.5l3-1.1l0-.9l-2.8 .8l-1.5 .7l-1.4 1l-1.5 1.7l-.7 2.1l.1 1.4l.4 1.4l1.2 2.2l1.2 1.2l1.5 1.1l2.5 1.2z" fill="#ff1800" fill-rule="evenodd"/>
<path d="M216.3 211.2l1.4 .5l0-1.9l-1.7-.8l-1.6-1.4l-.8-1.4l-.2-1.4l.3-1.4l.5-.7l1.7-1.4l1.8-.8l0-1.1l-2.1 .7l-2.1 1.3l-1.3 1.3l-.3 .7l-.4 1.4l.4 2.1l.7 1.4l1.6 1.6l2 1.3z" fill="#ff0000" fill-rule="evenodd"/>
<path d="M217.7 209.8l0-2.2l-1.1-.7l-.6-.7l-.4-1.4l.4-1.4l.6-.7l1.1-.7l0-1.5l-1.8 .7l-1.1 .8l-1.1 1.4l-.4 1.4l.3 1.4l.8 1.4l1.2 1.2l2 1z" fill="#ff0000" fill-rule="evenodd"/>
<path d="M217.7 207.7l0-5.7l-1.1 .7l-.6 .7l-.4 1.4l.4 1.5l.6 .7l1.1 .7z" fill="#ff0000" fill-rule="evenodd"/>
<path d="M217.7 175.2l-4.3 0l-11.3 1.1l-2.9 0l-2.8-.3l-2.9-.8l-1.4-.8l-1.2-1.4l-.4-2.1l.2-2.3l.9-2l1.6-1.4l1.6-.7l1.6-.4l3.5-.5l4.3 0l13.5 1.2M153.7 171.5l2.4 1.5l.6 .7l.5 1.4l-.1 .7l-.7 1.4l-1.3 1.4l-1.4 1.2M217.7 179l-5 .1l-10.6 .6l-5 0l-4.7-.4l-13.1-1.9l-5-.4l-3.5-.1l-4.3 .5l-3.6 .8l-4.2 1.4l-5 2.2M153.7 160.6l2.8-.5l3.6-.2l16.4 .5l13.5-.7l6.4-.1l9.9 .1l11.4 .7M217.7 181.4l-14.9 .7l-4.3 .1l-13.5-1l-8.5-.1l-10.7-.4l-5.7 .6l-2.8 .7l-3.6 1.2M153.7 156.6l6.4-.3l14.9 .6l14.3-.5l18.4 .7l10 .5M217.7 57.1l-1.4-2.6l-.4-2.1l.4-2.1l.7-1.4l.7-1M217.7 183.2l-13.5 .8l-5 .2l-12.8-1.1l-10.7 .2l-8.5-.7l-3.5 0l-5 .5l-2.9 .6l-2.1 .7M153.7 154.2l6.4-.2l14.2 .5l10.7-.6l4.3 0l28.4 1.5M217.7 59.4l-1.4-1.5l-1.3-1.9l-.7-1.4l-.4-2.2l.3-2.1l.5-1.4l1.6-2.1l1.4-1.2M217.7 184.7l-12.8 1l-5 .2l-3.5-.2l-9.3-1l-3.5 0l-8.6 .3l-9.2-.9l-3.6-.1l-4.2 .4l-4.3 1.1M153.7 152.3l6.4-.2l13.5 .4l10.7-.7l4.2-.1l29.2 1.8M217.7 61.5l-2.4-2l-2.2-2.8l-1.2-2.8l-.3-2.2l.5-2.8l1.1-2.1l1.7-1.7l2.8-1.6M153.7 247.8l1.4-.1l.7 .2l.7 .5l.8 1.1l.2 2.1l-.5 4.9l.2 6.4l-.3 2.9l-.4 1.4l-.7 1.2l-1 .9l-1.1 .4M217.7 186l-13.5 1.3l-4.3 .2l-3.5-.1l-9.3-1.3l-3.5 0l-8.6 .4l-12.1-1.2l-4.9 .3l-4.3 1M153.7 150.8l5.7-.2l13.5 .1l10.7-.7l4.2-.1l29.9 1.9M217.7 63.7l-3.6-2.5l-1.7-1.7l-1.1-1.4l-.8-1.4l-.9-2.1l-.5-2.2l-.2-2.1l.2-2.1l.4-1.4l.7-1.5l1.1-1.3l1-.8l1.4-.7l4-1M217.7 283.8l-7.8-4.6l-2.9-1.2l-8.5-3l-3.6-2.1l-3-2.9l-2.9-3.6l-1.6-2.8l-.4-1.4l-.2-1.4l.2-1.4l.4-1.5l1.6-3.5l1.7-5l.9-2.1l.9-1.4l1-1.1l1.4-.8l1.5-.3l2.1 .3l2 1.2l5.3 5.7l1.9 1.5l5.3 3.4l1.7 1.4l3 3.1M153.7 242.4l2.1-.2l2.9 .6l2.1 1.2l2 1.9l1.3 2.1l1 2.9l2 7.8l.5 2.8l0 2.1l-.3 2.9l-.5 2.8l-.8 2.8l-1.9 4.3l-4.5 6.4l-1.3 2.1l-.8 2.8l-.1 2.1l.2 1.5l1 2.1l1.5 1.7l7.8 5.3l2.9 2.4l1.9 2.6l.6 1.4l.1 1.5M217.7 187.2l-14.2 1.7l-4.3 .2l-3.5-.2l-6.4-1.1l-2.9-.3l-12.1 .3l-12.1-1.2l-4.2 .1l-4.3 1M153.7 149.5l17.8-.4l11.4-.8l4.2-.1l5.7 .3l24.9 1.8M217.7 66.6l-2.8-1.4l-2.9-2l-2.1-2.2l-1.6-2.2l-1.1-2.1l-.8-2.1l-2.2-10.1l-.7-1.8l-.7-1.1l-1.5-1.1l-1.4-.7l-9.9-3.6l-3.6-.8l-2.1-.1l-1.4 .2l-1.4 .7l-.6 .7l-.6 2.1l-1 9.1l-.9 4.4l-1.1 2.8l-1 2.1l-1.3 1.8l-1.3 1.1l-1.5 .5l-2.1 0l-10.7-2.8l-2.9-.4l-2.8-.1M153.7 43.5l1.4 0l2.2-.3l2.8-1l2.8-1.7l6.4-4.9l2.2-1l5-1.6l1.2-1.1M206.3 31.9l.4 2.1l.5 1.4l1.2 1.5l.8 .5l2.8 1l5.7 .7M176.5 97.9l-3-.8l-2.3-1.4l-.6-.7l-.9-1.4l-.4-1.4l-.2-1.4l.1-1.4l.4-1.5l1.2-1.9l2.1-1.9l2.9-1.4l2.8-.6l4.3-.2l7.1 .4l9.3 1l2.1 .4l2.1 1l1.2 1.1l.8 1.4l.2 1.4l0 1.5l-.4 1.4l-.7 1.4l-1.9 2.1l-1.3 .9l-2.1 1l-2.2 .5l-2.8 .3l-7.8-.2l-7.2 .5l-2.8-.1M217.7 296l-1.4 .4l-.7-.2l-.7-.4l-1.5-1.9l-2.4-4.8l-1.5-2.1l-2.1-2.1l-2.5-1.7l-3.6-1.6l-7.2-2.4l-2.7-1.1l-6.4-3.6l-2.1-1.1l-2.9-.6l-1.4 0l-1.4 .4l-1.5 .9l-1.4 1.4l-1.4 2l-1.9 3.1l-1.1 2.2l-.7 2.1l-.2 1.4l.2 1.4l.9 1.9l1.4 1.7l7.1 5.6l2.8 3l1.4 2l1.1 2.1l.7 2.2l.4 2.1M153.7 239.2l2.1 0l2.8 .4l2.2 .7l2.1 1l1.8 1.1l1.7 1.4l5.1 5.8l1.4 1.1l2.1 .8l1.5 .2l1.4-.2l1.4-.4l1.4-.7l1.4-1l1.5-1.3l3.8-5l2.2-2.1l1.8-1.1l1.4-.5l2.1-.5l1.5-.1l3.5 .4l2.9 1.1l2.2 1.4l4.1 4.3l2.2 1.7l2.8 1.6l3.6 1.3M217.7 188.2l-5.7 .6l-9.9 1.6l-3.6 .2l-2.8-.2l-7.2-1.4l-3.5-.3l-10.7 .2l-10.6-1.1l-2.9-.1l-3.5 .3l-3.6 .7M153.7 148.3l14.2-.5l12.8-1.1l5-.2l5.7 .3l26.3 2.1M217.7 71.5l-1.3 .8l-.7 .7l-.8 1.4l-.3 1.4l-.1 4.3l.9 9.2l-.1 2.1l-.8 1.5l-2.4 2.1l-3.3 2.1l-2.9 1.4l-3.1 1.1l-2.9 .6l-5.7 .6l-17 .2l-4.3-.4l-3.6-1.1l-2.7-1.7l-2-2.1l-1.8-2.8l-1.8-3.6l-.8-2.1l-.5-2.1l0-1.5l.3-2.1l2-4.9l.4-1.5l.1-1.4l-.4-1.4l-.6-.9l-1-1.2l-1.1-.8l-1.4-.6l-2.2-.1l-1.4 .5l-.7 .5M153.7 36.6l1.4-.7l1.7-1.2l1.4-1.4l1-1.4M190.7 75.2l2.8 .4l2.2 0l2.5-.4l2.1-.8l2.7-1.4l1.8-1.4l1.1-1.4l.5-1.4l-.1-1.4l-.4-1.5l-2.1-4.9l-2.4-7.1l-.7-1.9l-1.1-1.6l-1.1-1.2l-1.4-.9l-1.4-.5l-2.2-.1l-1.4 .4l-1.4 1l-.9 1.3l-1.2 2.8l-1.8 7.1l-2.1 7.1l-.3 1.4l.1 1.4l.4 1.4l.4 .7l.6 .7l1.2 .9l1.5 .7l1.9 .6zM203.5 308.3l-1.8-2.8l-.5-2.2l.3-2.1l1.5-4.2l.5-2.2l.1-2.1l-.4-2.1l-1.2-2.1l-2.1-1.7l-2.8-1.2l-2.9-.3l-2.1 .2l-1.9 .8l-.8 .7l-.5 .7l-.4 1.5l0 2.1l.6 2.1l.9 2.3l2.2 4.8l.8 2.1l.1 1.4l-.2 1.5l-1.1 2.8M153.7 236.2l5 .5l5 1.4l4.2 2.1l5.7 3.9l2.1 .7l2.2-.3l1.4-.7l1.4-1.1l3.9-3.9l1.9-1.4l2.8-1.2l3.5-.7l4.3-.2l5 .7l5 1.4l7 3.2l1.5 .2l2.1-.7M217.7 189.2l-6.4 .8l-10 1.9l-3.5 .3l-2.9-.2l-6.4-1.6l-3.8-.5l-11.1 .1l-12.8-1l-3.5 .2l-3.6 .8M153.7 147.2l11.4-.5l14.2-1.6l5.7-.2l5 .2l27.7 2.5M217.7 100.8l-4.3 .1l-9.2 1.6l-6.4 .7l-6.4 .3l-12.8 .2l-5.7-.3l-5-.6l-3.5-.9l-6.4-2.4l-2.2 0l-2.1 .8M153.7 32l.1-.1M153.7 233.3l8.5 1.2l10 2.6l2.1 .3l1.4-.2l1.5-.4l4.1-2.2l3-1.1l2.8-.7l3.6-.4l3.5 0l4.3 .3l14.9 2.4l4.3 .2M217.7 190.1l-6.4 .9l-11.4 2.6l-2.8 .3l-2.9-.3l-6.4-1.9l-4.2-.6l-11.4-.1l-11.4-.5l-2.9 .1l-4.2 .7M153.7 146.1l5.7-.2l5-.4l13.5-2.1l5.7-.3l4.9 .3l29.2 2.9M217.7 104l-15.6 1.3l-16.4 1l-23.5-.3l-8.5-.5M153.7 229.9l9.2 1.2l7.2 .4l3.5-.3l9.3-1.7l3.5-.3l3.6 .1l6.4 .6l14.9 2.3l6.4 .6M217.7 191l-7.8 1.3l-10.7 3l-2.8 .5l-2.9-.3l-7.4-2.7l-4.7-.6l-16.3 0l-9.3 .9l-2.1 0M153.7 145.1l5-.1l5-.5l4.2-.7l9.3-2.1l4.9-.4l5 .2l12.8 1.7l17.8 1.9M217.7 106.3l-8 .8l-12.6 .8l-11.4 1.2l-12.1-.4l-14.2 .9l-2.9 0l-2.8-.3M153.7 225.8l3.6 .8l4.9 .4l4.3-.2l10.7-1.2l4.9 0l6.4 .3l5.7 .8l14.3 3.1l4.9 .7l4.3 .3M217.7 191.7l-5 .8l-4.2 1l-4.2 1.4l-6.5 2.6l-2.1 .4l-1.5-.1l-1.4-.4l-6.4-3.1l-2.1-.7l-2.2-.3l-3.5-.3l-5-.1l-4.3 .2l-3.5 .5l-2.9 .9l-1.7 1.1l-.6 .7l-.7 1.4l-.5 2.8l-.5 1.4l-.9 1.2l-.7 .3l-.8-.1l-.7-.8l-1-4.8l-.7-1.4l-.4-.5M153.7 144l5-.2l5.3-.6l4.6-1.1l7.9-2.4l2.1-.4l2.8-.2l5 .4l13.5 2.1l17.8 2.2M217.7 108.1l-6.4 .8l-14.2 1.3l-11.4 2l-2.8 0l-6.4-.6l-3.6-.1l-4.3 .3l-9.9 1.1l-5-.1M153.7 220.1l.7 .7l1.4 .9l1.5 .5l2.1 .3l4.3 0l8-1.3l3.3-.3l16.4 1.8l3.5 .8l7 2.6l4.4 1.3l5.7 1.1l5.7 .6M217.7 192.5l-5.7 1l-4.8 1.4l-4.8 2.1l-5.3 3.1l-2.2 .6l-2.1-.4l-1.4-.8l-4.4-3.2l-2-1l-2.1-.7l-2.9-.5l-3.5-.2l-3.6 0l-3.6 .4l-2.1 .5l-1.4 .6l-1.4 .9l-.8 .7l-1.1 2.1l-1 3.6l-.9 2.1l-1.2 1.8l-1.4 1.1l-1.5 .5l-.7-.1l-.7-.3l-.7-.9l-.7-2.5M153.7 142.9l5.7-.3l5-.8l4.5-1.5l7.6-3.2l2.8-.6l2.1-.1l2.2 .1l2.8 .4l8.2 2l5.3 1l17.8 2.5M217.7 109.9l-5.7 .9l-14.2 1.9l-3.2 .7l-6.8 2.2l-2.1 .5l-2.8 0l-7.2-1.1l-3.5-.2l-4.3 .4l-9.9 1.5l-4.3 .1M217.7 193.2l-3.6 .6l-2.8 .7l-2.8 .9l-2.9 1.2l-3 1.8l-1.9 1.4l-5 4.9l-1.5 .5l-.7-.2l-1.4-1l-3.6-4.2l-2.1-1.9l-1.4-1l-2.1-1l-3.6-.9l-3.6-.3l-3.5 .2l-3.6 .8l-2.3 1.3l-.8 .7l-1 1.4l-.5 1.4l-2.2 7.1l-1 2l-2.9 3.7l-.3 1.4l.6 1.4l.8 .7l1.8 .7l1.4 .2l11.4-.7l3.6 .1l7.8 .9l2.1 0l5-.6l1.4 .2l2.2 1l4.8 3.9l4.1 2.1l3.1 1.1l2.9 .7l3.5 .7l3.6 .3M153.7 141.7l2.8 0l2.9-.3l5-1.2l2.1-.8l2.3-1.2l5.5-4l2.2-1.3l2.1-.8l2.8-.5l2.2 .2l2.1 .5l8.5 3.7l4.3 1.5l6.6 1.4l12.6 2M217.7 111.6l-15.6 2.9l-4.1 1.1l-3.4 1.4l-6.8 4.2l-1.4 .6l-1.4 .3l-1.4 0l-1.5-.2l-6.8-2.1l-3.1-.2l-3.6 .3l-9.9 2.3l-5 .4M217.7 194l-4.3 .8l-3.5 1.1l-3.6 1.6l-2.6 1.7l-2.2 2.1l-1.4 2.1l-1.1 2.9l-.4 2.8l.3 3.6l1.1 3.5l1.6 2.8l2 2.2l2.7 1.8l2.9 1.2l4.2 1.1l4.3 .6M153.7 140.4l2.8 0l2.9-.4l2.8-.8l2.3-1l1.9-1.4l1.3-1.4l1-2.2l.1-1.4l-.5-1.4l-.6-.7l-1-.7l-1.6-.6l-4.3-.8l-7.1-.1M217.7 113.4l-12.9 3.6l-2 .7l-2.7 1.4l-1.9 1.4l-1.7 2.1l-.9 2.2l-.3 2.8l.3 2.1l1.1 2.1l1.6 1.5l2.4 1.4l3.5 1.4l2.4 .7l11.1 2.5M171.5 214.1l7.1 .4l4.3-.2l2.8-.7l1.4-.9l.8-.7l.8-1.5l.3-1.4l.1-1.4l-.3-2.1l-.7-2.2l-1-2.1l-1.1-1.4l-1.4-1.4l-1.7-1.2l-2.2-.9l-2.1-.5l-2.8-.2l-2.9 .2l-2.2 .4l-2 .9l-1.7 1.3l-1.3 2.1l-.8 2.8l-.6 4.3l.2 2.8l.7 1.4l1.3 1.1l2.2 .7l2.4 .4zM217.7 194.7l-3.6 .7l-3.1 .9l-3.2 1.5l-2.2 1.4l-1.5 1.4l-1.6 2.1l-.9 2.1l-.3 2.9l.2 2.8l1.4 4.3l1.4 2.8l1.8 2.1l1.7 1.4l2.8 1.5l3.5 1.1l3.6 .5M153.7 138.7l1.4 .1l2.2-.2l2.8-.8l1.6-1l.6-.7l.6-1.4l-.1-.7l-.3-.7l-.7-.7l-1.1-.7l-2-.7l-1.4-.2l-3.6-.1M217.7 115.5l-4.9 2.1l-3.5 2.2l-2 2.1l-.7 1.4l-.2 1.4l.6 5l.5 1.4l.5 .7l1.6 1.4l2.5 1.4l5.6 2.2M172.2 211.9l3.6 .4l4.2-.3l2.9-.9l1.8-1.3l.9-1.4l.4-1.5l.1-1.4l-.1-1.4l-.4-1.4l-.7-1.4l-1.7-2.2l-1.8-1.1l-1.4-.6l-2.1-.6l-2.1-.2l-2.2 .2l-2.1 .4l-1.4 .6l-1.8 1.3l-1 1.5l-.8 2.1l-.2 2.8l.3 2.1l.6 1.6l1.3 1.3l1.6 .8l2.1 .6zM217.7 195.4l-3.6 .7l-2.7 .9l-2.9 1.4l-2 1.5l-1.3 1.4l-1 1.4l-.7 2.1l-.3 2.2l.4 2.8l1 2.8l1.5 2.9l1.6 2.3l2.2 1.8l2.1 1.2l2.9 1l2.8 .5M217.7 119.6l-.5 .9l-.3 1.4l.3 1.4l.5 .9M175 210.5l3.6-.2l1.4-.4l1.4-.7l1.6-1.5l.8-2.2l.1-1.4l-.3-1.4l-1.2-2.1l-1.7-1.5l-1.4-.7l-1.5-.5l-1.4-.2l-2.1 0l-2.9 .8l-1 .7l-1.1 .9l-.8 1.2l-.5 1.4l-.1 1.4l.1 1.4l.4 1.4l.9 1.4l.9 .8l1.2 .6l1.5 .5l2 .3zM217.7 196.1l-2.8 .6l-2.9 1l-2.1 1l-1.6 1.1l-1.5 1.5l-1 1.4l-.5 1.4l-.3 2.1l.2 2.1l1 2.9l1.5 2.7l1.8 2.2l1.8 1.6l2 1.3l2.3 .8l2.1 .4M173.6 208.5l2.1 .3l2.2-.3l1.4-.6l1.4-1l.9-1.4l.2-2.1l-.4-1.5l-1.4-1.6l-2.1-1.1l-1.5-.3l-1.4-.1l-2.1 .5l-1.1 .5l-1 .9l-.8 1.1l-.3 .9l-.1 1.4l.3 1.4l.9 1.4l.8 .7l1.4 .7zM217.7 196.9l-2.8 .7l-2.2 .7l-1.6 .9l-2 1.4l-1.3 1.4l-.7 1.4l-.4 1.4l-.1 1.5l.4 2.1l.7 1.8l1.5 2.3l1.4 1.7l1.4 1.3l2.1 1.4l1.8 .7l1.8 .4M173.6 206.4l1.4 .4l1.4 0l1.5-.5l.7-.6l.7-.9l.2-.7l-.1-1.4l-.3-.7l-1.2-1.1l-1.5-.5l-2.1 0l-1.4 .7l-.8 .9l-.5 1.4l.3 1.4l.5 .7l.9 .7zM217.7 197.7l-3.6 1l-2.1 1.1l-1.2 .8l-.9 .8l-1 1.3l-.5 1.4l-.2 1.5l.3 1.9l.6 1.6l.8 1.4l1.2 1.4l1.6 1.5l1.4 1l1.5 .7l2.1 .7M217.7 198.5l-3.6 1.2l-2.4 1.6l-.7 .7l-.8 1.4l-.4 2.1l.2 1.4l.6 1.4l1.6 2.2l1.2 1.1l1.5 .9l2.8 1.1M217.7 199.4l-2.1 .7l-2.2 1.3l-1.2 1.3l-.4 .7l-.3 1.4l.3 2.1l1.4 2.1l.9 .9l1.5 .9l2.1 .8M217.7 200.5l-1.8 .8l-1.1 .7l-1.1 1.4l-.4 1.4l.3 1.4l.8 1.4l1.6 1.5l1.7 .7M217.7 202l-1.1 .7l-.6 .7l-.4 1.4l.4 1.5l.6 .7l1.1 .7" fill="none" stroke="#6a6a6a" stroke-opacity="0.85" stroke-width="0.45"/>
<text x="0" y="0" transform="translate(182.4 105.4) rotate(0)" text-anchor="middle" style="font-family:'Liberation Sans',sans-serif;font-size:7px;fill:#000" dy="2.52">0</text>
<text x="0" y="0" transform="translate(189.1 141.6) rotate(0)" text-anchor="middle" style="font-family:'Liberation Sans',sans-serif;font-size:7px;fill:#000" dy="2.52">0</text>
<text x="0" y="0" transform="translate(182.1 190.5) rotate(0)" text-anchor="middle" style="font-family:'Liberation Sans',sans-serif;font-size:7px;fill:#000" dy="2.52">0</text>
<text x="0" y="0" transform="translate(189 232.9) rotate(0)" text-anchor="middle" style="font-family:'Liberation Sans',sans-serif;font-size:7px;fill:#000" dy="2.52">0</text>
</g>
<rect x="153.7" y="31.9" width="64" height="276.4" fill="none" stroke="#9a9a9a" stroke-width="0.6"/>
<path d="M153.7 31.9v-3M153.7 308.3v3M175.03 31.9v-3M175.03 308.3v3M196.37 31.9v-3M196.37 308.3v3M217.7 31.9v-3M217.7 308.3v3M153.7 287.04h-3M217.7 287.04h3M153.7 244.52h-3M217.7 244.52h3M153.7 201.99h-3M217.7 201.99h3M153.7 159.47h-3M217.7 159.47h3M153.7 116.95h-3M217.7 116.95h3M153.7 74.42h-3M217.7 74.42h3M153.7 31.9h-3M217.7 31.9h3" stroke="#9a9a9a" stroke-width="0.6" fill="none"/>
<text x="147" y="291.34" text-anchor="end" class="ax" font-weight="normal">2</text>
<text x="147" y="248.82" text-anchor="end" class="ax" font-weight="normal">4</text>
<text x="147" y="206.29" text-anchor="end" class="ax" font-weight="normal">6</text>
<text x="147" y="163.77" text-anchor="end" class="ax" font-weight="normal">8</text>
<text x="147" y="121.25" text-anchor="end" class="ax" font-weight="normal">10</text>
<text x="147" y="78.72" text-anchor="end" class="ax" font-weight="normal">12</text>
<text x="147" y="36.2" text-anchor="end" class="ax" font-weight="normal">14</text>
<text x="151.5" y="323.4" text-anchor="middle" class="ax" font-weight="normal">1</text>
<text x="172.83" y="323.4" text-anchor="middle" class="ax" font-weight="normal">2</text>
<text x="194.17" y="323.4" text-anchor="middle" class="ax" font-weight="normal">3</text>
<text x="215.5" y="323.4" text-anchor="middle" class="ax" font-weight="normal">4</text>
<rect x="228.7" y="61.84" width="14.2" height="8.16" fill="#ff0000"/>
<rect x="228.7" y="69.8" width="14.2" height="8.16" fill="#ff0000"/>
<rect x="228.7" y="77.76" width="14.2" height="8.16" fill="#ff0000"/>
<rect x="228.7" y="85.72" width="14.2" height="8.16" fill="#ff0000"/>
<rect x="228.7" y="93.68" width="14.2" height="8.16" fill="#ff0000"/>
<rect x="228.7" y="101.64" width="14.2" height="8.16" fill="#ff0000"/>
<rect x="228.7" y="109.6" width="14.2" height="8.16" fill="#ff1800"/>
<rect x="228.7" y="117.56" width="14.2" height="8.16" fill="#ff4000"/>
<rect x="228.7" y="125.52" width="14.2" height="8.16" fill="#ff7000"/>
<rect x="228.7" y="133.48" width="14.2" height="8.16" fill="#ffaa00"/>
<rect x="228.7" y="141.44" width="14.2" height="8.16" fill="#ffd000"/>
<rect x="228.7" y="149.4" width="14.2" height="8.16" fill="#ffff00"/>
<rect x="228.7" y="157.36" width="14.2" height="8.16" fill="#b0e000"/>
<rect x="228.7" y="165.32" width="14.2" height="8.16" fill="#50b000"/>
<rect x="228.7" y="173.28" width="14.2" height="8.16" fill="#00a000"/>
<rect x="228.7" y="181.24" width="14.2" height="8.16" fill="#00a830"/>
<rect x="228.7" y="189.2" width="14.2" height="8.16" fill="#00b050"/>
<rect x="228.7" y="197.16" width="14.2" height="8.16" fill="#00c070"/>
<rect x="228.7" y="205.12" width="14.2" height="8.16" fill="#00d090"/>
<rect x="228.7" y="213.08" width="14.2" height="8.16" fill="#00e8c8"/>
<rect x="228.7" y="221.04" width="14.2" height="8.16" fill="#00ffff"/>
<rect x="228.7" y="229" width="14.2" height="8.16" fill="#00c0ff"/>
<rect x="228.7" y="236.96" width="14.2" height="8.16" fill="#0080ff"/>
<rect x="228.7" y="244.92" width="14.2" height="8.16" fill="#0040ff"/>
<rect x="228.7" y="252.88" width="14.2" height="8.16" fill="#0000ff"/>
<rect x="228.7" y="260.84" width="14.2" height="8.16" fill="#0000c0"/>
<rect x="228.7" y="268.8" width="14.2" height="8.16" fill="#000070"/>
<rect x="228.7" y="276.76" width="14.2" height="8.16" fill="#000000"/>
<path d="M228.7 69.8H242.9M228.7 77.76H242.9M228.7 85.72H242.9M228.7 93.68H242.9M228.7 101.64H242.9M228.7 109.6H242.9M228.7 117.56H242.9M228.7 125.52H242.9M228.7 133.48H242.9M228.7 141.44H242.9M228.7 149.4H242.9M228.7 157.36H242.9M228.7 165.32H242.9M228.7 173.28H242.9M228.7 181.24H242.9M228.7 189.2H242.9M228.7 197.16H242.9M228.7 205.12H242.9M228.7 213.08H242.9M228.7 221.04H242.9M228.7 229H242.9M228.7 236.96H242.9M228.7 244.92H242.9M228.7 252.88H242.9M228.7 260.84H242.9M228.7 268.8H242.9M228.7 276.76H242.9" stroke="#200" stroke-opacity="0.55" stroke-width="0.6"/>
<text x="245.2" y="72.48" class="cb" style="font-size:7.45px">1.7E-06</text>
<text x="245.2" y="80.44" class="cb" style="font-size:7.45px">1.6E-06</text>
<text x="245.2" y="88.4" class="cb" style="font-size:7.45px">1.5E-06</text>
<text x="245.2" y="96.36" class="cb" style="font-size:7.45px">1.4E-06</text>
<text x="245.2" y="104.32" class="cb" style="font-size:7.45px">1.3E-06</text>
<text x="245.2" y="112.28" class="cb" style="font-size:7.45px">1.2E-06</text>
<text x="245.2" y="120.24" class="cb" style="font-size:7.45px">1.1E-06</text>
<text x="245.2" y="128.2" class="cb" style="font-size:7.45px">1E-06</text>
<text x="245.2" y="136.16" class="cb" style="font-size:7.45px">9E-07</text>
<text x="245.2" y="144.12" class="cb" style="font-size:7.45px">8E-07</text>
<text x="245.2" y="152.08" class="cb" style="font-size:7.45px">7E-07</text>
<text x="245.2" y="160.04" class="cb" style="font-size:7.45px">6E-07</text>
<text x="245.2" y="168" class="cb" style="font-size:7.45px">5E-07</text>
<text x="245.2" y="175.96" class="cb" style="font-size:7.45px">4E-07</text>
<text x="245.2" y="183.92" class="cb" style="font-size:7.45px">3E-07</text>
<text x="245.2" y="191.88" class="cb" style="font-size:7.45px">2E-07</text>
<text x="245.2" y="199.84" class="cb" style="font-size:7.45px">1E-07</text>
<text x="245.2" y="207.8" class="cb" style="font-size:7.45px">0</text>
<text x="245.2" y="215.76" class="cb" style="font-size:7.45px">-1E-07</text>
<text x="245.2" y="223.72" class="cb" style="font-size:7.45px">-2E-07</text>
<text x="245.2" y="231.68" class="cb" style="font-size:7.45px">-3E-07</text>
<text x="245.2" y="239.64" class="cb" style="font-size:7.45px">-4E-07</text>
<text x="245.2" y="247.6" class="cb" style="font-size:7.45px">-5E-07</text>
<text x="245.2" y="255.56" class="cb" style="font-size:7.45px">-6E-07</text>
<text x="245.2" y="263.52" class="cb" style="font-size:7.45px">-7E-07</text>
<text x="245.2" y="271.48" class="cb" style="font-size:7.45px">-8E-07</text>
<text x="245.2" y="279.44" class="cb" style="font-size:7.45px">-9E-07</text>
<text x="245.2" y="287.4" class="cb" style="font-size:7.45px">-1E-06</text>
<text transform="translate(146.5 21) scale(0.943 1)" class="tt">3h-i<tspan class="sub" dx="1.2" dy="2">g</tspan></text>
<text transform="translate(195.2 21) scale(0.943 1)" class="tt">ig(A/cm<tspan class="sup" dy="-5.8">2</tspan><tspan dy="5.8">)</tspan></text>
<clipPath id="c5h"><rect x="291.1" y="33.1" width="63.7" height="275"/></clipPath>
<g clip-path="url(#c5h)">
<rect x="291.1" y="33.1" width="63.7" height="275" fill="#00d090"/>
<path d="M291.2 180.5l-.1-1.5l0 1.9zM354.8 180.8l0-1.6l-.2 .6l0 .7zM354.1 56.4l.7 .4l0-8.3l-1.4 .6l-1 .9l-.4 .7l-.4 1.5l.2 1.4l.2 .7l1.2 1.4l.9 .7z" fill="#000080" fill-rule="evenodd"/>
<path d="M354.8 184.7l0-3.9l-.2-1.1l.2-.6l0-4.7l-6.4 1.1l-8.5 .4l-2.8 .3l-1.4 .4l-1.4 .8l-1 .9l-.2 .7l-.1 .7l.3 .7l.6 .7l1 .8l1.5 .5l3.5 .5l5.7 0l2.8 .1l2.9 .6l3.4 1.1zM291.5 184l.9-.7l1.2-1.4l.6-1.4l.2-1.4l-.2-.7l-.7-1.5l-1-1l-1.4-1l.1 4.9l-.1 4.4zM354.1 59.4l.7 .2l0-2.9l-1.4-.9l-.9-.9l-.7-1.4l-.2-1.4l.4-1.4l.4-.7l1-.9l1.4-.7l0-3.3l-2.8 .5l-2.1 1.1l-.8 .7l-.7 1.1l-.4 2.2l.3 2.8l.9 2.1l2 2.1l2.3 1.4z" fill="#0000dd" fill-rule="evenodd"/>
<path d="M354.8 289.1l0-8.7l-1.4 .9l-.8 .7l-.9 1.4l-.3 1.4l.2 1.4l.4 .8l1.3 1.4l1.4 .7zM354.8 186.9l0-2.2l-1.4-.5l-2.8-.8l-2.9-.4l-7.8-.1l-2.9-.3l-2-.7l-.7-.4l-1-1l-.3-.8l.1-.7l.2-.7l.6-.7l1.1-.7l2.1-.6l2.8-.4l8.5-.4l6.4-1.1l0-3.1l-5.7-.3l-4.9 0l-6.4 .4l-4.2 .5l-2.9 .7l-1.7 .8l-1.7 1.4l-.9 1.4l-.2 .7l0 1.4l.4 1.4l.9 1.5l2.3 2.1l3.1 1.6l2.1 .6l2.8 .4l11.3 .2l5.2 .7zM291.2 186.1l2-.7l1.3-.7l2.6-2.1l2.2-2.8l.6-1.5l.4-1.4l-.3-1.4l-.6-.7l-.9-.7l-2.4-.9l-5-1.3l0 3l1.4 1l1.1 1l.6 1.4l.2 1.5l-.1 .7l-.6 1.4l-1.2 1.4l-1.4 .9l0 1.9zM309.5 170l2.1 .3l2.9-.2l3.5-.9l2.8-1.3l1.4-1.3l.7-1.6l0-1.5l-.7-1.4l-1.3-1.4l-1.1-.7l-1.8-.8l-2.1-.6l-3.6-.2l-1.4 .3l-1.6 .6l-1.2 .8l-1.2 1.3l-.7 1.4l-.4 2.1l.2 1.6l.7 1.7l1 1l1.4 .7zM354.8 62.2l0-2.5l-2.8-1.3l-2.3-2l-1.2-2.1l-.4-1.4l-.2-1.4l.3-2.1l.6-1.5l.5-.7l.9-.7l1.4-.7l3.2-.7l0-2.8l-6.4 .2l-2.9 .5l-.9 .7l-.3 .7l-.1 2.1l.6 5l1.1 3.5l1.1 2.1l2.1 2.3l2.2 1.5l2.9 1.1zM332.9 40.9l2.8 .3l2.9 0l2-.4l.8-.5l.4-.9l.2-1.4l-.3-2.8l-.6-2.1l-15.8 0l-.2 1.4l.2 1.4l.6 1.4l.6 .8l.7 .7l1.5 .9l1.4 .6l2.4 .5z" fill="#0040ff" fill-rule="evenodd"/>
<path d="M354.1 292.7l.7 .3l0-3.9l-1.5-.7l-1.3-1.3l-.4-.8l-.2-1.4l.3-1.4l.9-1.5l.8-.7l1.4-.8l0-21.1l-2.8-2.2l-7.8-4.2l-1.4-.6l-1.4-.3l-2.2 .2l-.7 .5l-.6 1l-.6 4.3l0 4.2l.7 3.5l1 2.1l1.6 2.2l5.1 4.2l1.1 1.4l.3 .7l.1 1.4l-.6 4.2l.1 2.2l.4 2.1l.6 1.4l1.1 1.4l1.5 1.4l3.6 2.1zM291.5 269.3l1.7-1.7l1.1-1.8l.5-2.1l.2-2.2l-.2-2.8l-1.1-6.3l-.8-1.4l-1.1-.6l-.7 0l0 19.2zM337.8 188.3l12 .2l5 .4l0-1.9l-5.7-.8l-11.3-.2l-3.3-.6l-2.4-.8l-1.4-.7l-1.9-1.3l-1.3-1.4l-.9-1.4l-.4-1.4l0-1.4l.5-1.4l.6-.7l1.3-1.2l1.4-.7l2.1-.7l2.9-.5l9.9-.7l9.9 .2l0-3.9l-3.6-1l-2.8-.4l-2.8-.1l-7.8 .2l-3.5-.4l-1.5-.5l-1.4-.8l-4.4-3.6l-3.7-2.1l-2.5-1l-2.8-.8l-2.8-.5l-2.2-.2l-2.1 .2l-2.1 .4l-1.5 .4l-2.1 1.1l-2 1.8l-3.7 4.9l-1.3 1.2l-1.5 .8l-1.4 .5l-1.4 .3l-1.4 0l-1.4-.4l0 4.6l4.9 1.2l2.4 1l1 .7l.5 .7l.3 1.4l-.6 2.1l-1.9 2.8l-1.4 1.4l-1.8 1.4l-1.3 .7l-2.1 .8l0 1.6l2.2-.2l2.3-.7l6.8-3.8l2.8-1l3.6-.7l7.1-.5l2.8 .3l2.1 .5l2.1 .9l5 2.8l2.8 1.3l2.9 .9l3.9 .7zM309.1 169.9l-1.4-.7l-1-1l-.7-1.6l-.2-1.6l.4-2.2l.7-1.4l1.2-1.3l1.2-.8l1.6-.6l1.4-.3l3.6 .2l2.1 .6l1.8 .8l1.1 .7l1.3 1.4l.7 1.5l0 1.5l-.7 1.6l-1.4 1.3l-2.8 1.3l-3.5 .8l-2.9 .2l-2.1-.3zM352.7 64.2l2.1 .5l0-2.5l-2.8-1l-2.1-1.2l-1.7-1.5l-1.6-2.1l-1-2.1l-.8-2.9l-.5-3.5l-.1-2.8l.2-.7l.5-1.1l1.4-.6l2.9-.3l5.6-.1l0-3l-3.5-.5l-1.4-.5l-1.4-.9l-1.5-1.5l-1.5-2.8l-4.4 0l.5 2.1l.4 2.8l-.2 1.4l-.4 .9l-.8 .6l-2.1 .3l-3.5-.1l-2.8-.3l-2.1-.5l-1.5-.6l-1.4-.9l-.8-.8l-.6-.9l-.5-1.2l-.2-1.4l.1-1.4l-6.2 0l-.4 2.8l.3 2.8l.9 2.2l1.1 1.3l1.4 .9l1.5 .6l10.5 1.2l2.1 .6l1.9 1l1.5 1.4l.9 1.2l3 7.3l1.9 3.2l1.4 1.5l1.5 1.1l2.1 1.2l1.9 .7z" fill="#0080ff" fill-rule="evenodd"/>
<path d="M291.8 308.1l19 0l-2.7-2l-2.9-1.2l-3.5-.9l-3.5-.3l-2.9 .2l-4.2 .7l0 3.5zM354.1 295.6l.7 .4l0-3.1l-2.3-1.1l-2.2-1.4l-1.5-1.4l-1.4-2.1l-.5-1.4l-.3-2.1l.1-2.1l.5-3.6l-.1-1.4l-.3-.7l-1.1-1.4l-4.4-3.5l-1.3-1.4l-1-1.4l-.7-1.4l-.6-2.2l-.4-2.1l-.1-2.8l.2-2.8l.5-2.8l.3-.7l.9-.8l1.6-.3l2.1 .3l2.1 .9l7.1 3.9l2.8 2.3l0-12.7l-7.8-1.4l-8.5-.7l-5.6 .2l-2.5 .5l-1.8 .7l-2 1.4l-1.4 2.1l-1.9 5.7l-2 4.9l-.5 2.8l.1 1.4l.6 1.8l1.3 1.8l1.7 1.4l11.2 6.1l3.5 2.3l1.4 1.4l.8 1.3l2.4 6.5l1.8 2.9l1.2 1.3l1.7 1.4l5.1 2.9zM291.8 277.1l2.8-1.2l2.2-1.2l2.1-1.8l1.4-1.7l1.1-1.9l1.1-2.8l.8-3.5l.6-3.6l0-2.8l-.4-2.8l-1-3.5l-1.3-2.8l-1-1.5l-1.7-1.4l-1.7-.8l-2.2-.4l-2.1 0l-1.4 .3l0 6.7l.7 0l1.2 .6l.8 1.4l1 6.3l.2 2.9l-.2 2.8l-.8 2.1l-1 1.4l-1.9 1.7l0 7.7zM337.8 190.4l5 .3l12 .1l0-1.9l-5-.4l-10.6-.1l-4.9-.6l-2.9-.8l-2.1-.8l-6.4-3.6l-2.1-.9l-2.1-.5l-2.8-.3l-7.1 .5l-3.6 .7l-2.8 1l-6.8 3.8l-2.3 .7l-2.2 .2l0 1.6l2.1 .1l1.4-.1l2.9-.8l5.6-2.7l2.9-.9l4.2-.8l5.7-.1l2.8 .3l2.1 .6l7.8 3.2l2.8 1l2.9 .7l3.4 .5zM291.8 167.6l1.4 .2l1.4-.2l1.4-.3l1.5-.7l2.1-1.7l3-4.2l2.1-2.1l1.3-.8l2.1-.9l3.5-.6l2.1-.1l2.9 .3l5 1.4l4.3 2.1l6.2 4.8l1.5 .6l2.1 .5l2.8 .2l7.1-.3l2.8 .2l2.9 .4l3.5 1l0-4.2l-2.1-.7l-2.9-.5l-9.9-.6l-3.5-.5l-2.8-.8l-7.8-3l-5-1.5l-5.6-1.1l-5-.1l-3.5 .5l-3.1 .9l-2.8 1.4l-3.3 2.2l-1.5 .6l-.7 .1l-.7-.1l-.7-.4l-.7-.7l-2.1-2.9l0 11.4zM310.2 97.4l2.1 .5l2.1 0l8.5-1.6l7.8 .8l3.6-.2l2.8-.6l2.4-1.1l1.6-1.5l.4-.7l.1-.7l-.6-1.4l-1.8-1.5l-2.8-1.4l-3.6-1.1l-2.8-.5l-3.5-.1l-3.6 .2l-6.3 .8l-3.6 .7l-2.1 .8l-2.1 1.3l-1.3 1.5l-.4 .7l-.2 1.4l.4 1.5l1.3 1.4l1.3 .7zM352.7 67.8l2.1 .3l0-3.3l-2.8-.8l-2.1-.9l-2.2-1.3l-1.4-1.3l-1.4-1.8l-.9-1.6l-3.3-7.9l-.9-1.3l-1.3-1.2l-2.1-1.2l-2.1-.6l-9.9-1.1l-1.4-.3l-1.4-.7l-.8-.6l-1-1.3l-.9-2.1l-.3-2.8l.4-2.9l-10.8 0l-3.3 7.8l-.6 2.1l-.3 2.1l.1 2.8l.8 2.9l1.1 1.8l1.4 1.5l1.4 .9l2.1 .7l2.9 .4l2.1-.3l1.4-.4l1.4-.8l5-3.8l2.8-1.7l2.1-.7l2.2-.3l2.1 .1l1.4 .4l2.1 1.1l1.2 1.1l.9 1.2l1.2 2.3l2.4 5.9l1.1 1.8l1 1.4l1.4 1.3l2.1 1.4l2.2 .9l2.3 .7zM351.3 38.8l3.5 .5l0-4l-.7-.1l-1.4-.5l-1.1-.9l-.6-.7l-5.5 0l1 2.1l1.3 1.6l1.4 1.1l1.9 .8z" fill="#00c0ff" fill-rule="evenodd"/>
<path d="M310.2 307.5l.6 .6l10.4 0l-1.8-3.5l-2.8-3.6l-2.5-2.1l-5.3-3.1l-2.5-1.8l-1.9-2.1l-1.1-2.1l-.3-2.2l.2-1.4l.6-1.4l1-1.4l1.5-1.4l1.8-1.2l2.1-1l2.1-.6l2.9-.3l6.3 .4l7.1-.1l2.8 .3l2.9 .9l2.1 1.2l1.8 1.8l1 1.5l2.8 5.3l2.2 2.6l2.8 2.1l5.7 2.9l2.1 1.3l0-3.1l-4.3-2.2l-2.1-1.3l-1.6-1.3l-1.8-2.1l-1.2-2.2l-2.4-6.3l-1.5-2.2l-1.4-1.2l-2.1-1.4l-10.7-5.8l-2.2-1.4l-1.3-1.3l-.7-1.1l-.6-1.8l-.1-1.4l.5-2.9l2-4.9l1.9-5.6l1.4-2.1l2-1.5l1.8-.7l2.4-.5l5.7-.2l8.5 .7l7.8 1.4l0-3.5l-9.9-1l-7.8-.5l-7.1-.1l-4.2 .3l-2.2 .5l-1.7 .8l-1.8 1.4l-3.5 3.7l-1.4 .9l-2.2 .5l-2.1-.5l-1.4-.9l-1.4-1.3l-3.4-3.8l-1.6-1.2l-1.4-.7l-2.1-.7l-2.8-.5l-2.9-.2l-2.8 .1l0 3.7l1.4-.3l1.4-.1l2.9 .5l2.1 1.1l1.8 1.8l1.2 2.2l1 2.8l.8 3.5l.2 2.8l-.3 3.6l-.9 4.2l-1 2.8l-1.1 2.1l-1.7 2.1l-2.1 1.9l-2.9 1.6l-2.8 1l0 27.3l5.7-.9l4.2 .2l2.8 .5l2.2 .7l2.1 1l2 1.3zM338.5 192.5l6.4 .4l9.9-.1l0-2.1l-13.5-.1l-6.3-.6l-2.9-.7l-2.8-.9l-8.5-3.5l-2.8-.6l-3.6-.3l-3.5 .1l-3.5 .5l-3.6 1l-7.8 3.4l-2.1 .5l-2.8-.2l0 1.6l2.1 .6l2.1-.1l2.1-.6l6.4-2.9l2.9-1l4.2-.8l4.2 0l2.9 .4l2.1 .5l7.8 3l3.5 1.2l3.6 .8l3.1 .5zM354.1 162.9l.7 .3l0-3.1l-4.2-.8l-9.2-.9l-4.3-.6l-11.3-3.1l-6.4-1.4l-4.9-.7l-4.3-.2l-4.2 .2l-7.1 .7l-2.1 0l-2.2-.4l-3.5-1.4l0 4.4l2.1 2.9l.7 .7l1.1 .5l1.1 0l.7-.3l4.9-3.1l2.9-1.2l4.2-.9l4.2-.2l4.3 .5l5 1.1l3.9 1.3l7.4 2.9l2.8 .8l3.5 .5l9.2 .4l2.2 .4l2.5 .6zM309.5 101.6l2.8 .2l2.9 0l7.7-.9l11.2-.8l6.5-1.4l10-3.1l2.1-.3l2.1-.1l0-6.7l-2.6-1.1l-1.9-1.4l-1.6-2.1l-.5-2.1l.2-1.4l.4-1.4l1.3-2.2l1.9-1.6l2.8-1.6l0-5.5l-2.8-.5l-2.9-.8l-2.1-1.1l-2.1-1.6l-1.4-1.6l-1.2-1.9l-2.6-6.3l-1.2-2.3l-.9-1.3l-1.2-1l-2.1-1.2l-1.4-.3l-2.2-.1l-2.1 .3l-2.1 .7l-2.9 1.6l-4.9 3.9l-1.4 .8l-1.4 .4l-2.2 .3l-2.1-.2l-2.1-.6l-1.4-.7l-1.4-1.1l-1.5-2l-.9-2.9l-.3-2.8l.1-2.1l.5-2.1l3.5-8.5l-13.3 0l-3.7 3.3l0 33.7l2.9 1.8l1.8 1.4l1.2 1.4l.9 2.1l.3 1.4l0 2.2l-1.5 7l-.2 2.8l.4 2.9l.9 2.1l1.6 2.1l2.8 2.1l3.1 1.3l3.6 .8zM309.9 97.3l-1.3-.7l-1.3-1.4l-.4-1.4l.3-1.4l.3-.7l1.3-1.6l2.2-1.3l2.1-.7l3.5-.8l6.4-.8l3.5-.2l3.6 .2l2.8 .4l3.5 1.1l2.9 1.4l1.7 1.6l.6 1.4l-.1 .7l-.3 .7l-1.6 1.4l-2.5 1.1l-2.8 .7l-3.5 .1l-7.8-.7l-8.5 1.5l-2.1 0l-2.2-.5zM331.1 64.8l-1.8-1l-1.5-1.8l-.8-2.1l-.1-2.2l.6-2.1l.9-1.4l.7-.7l1.6-.8l2.1-.1l.8 .2l1.1 .7l1 1.2l.5 .9l.7 2.9l.1 2.8l-.6 2.1l-.7 .9l-.7 .5l-1.4 .4l-2.2-.3zM354.8 35.3l0-2.2l-3.8 0l1.4 1.4l1.9 .8z" fill="#00ffff" fill-rule="evenodd"/>
<path d="M321.5 308.1l9 0l1.6-2.1l.4-1.4l-.4-2.1l-.9-1.5l-3.4-4.2l-1-2.1l-.6-2.1l.1-2.8l.7-2.1l1.2-1.5l1.8-.9l2.1-.2l1.4 .3l.7 .4l1.8 1.9l3.1 5.6l1.8 2.1l2.5 1.6l7.8 3.5l2 1.3l1.6 1.5l0-4.2l-2.2-1.3l-5.6-2.9l-2.9-2.1l-2.1-2.6l-2.8-5.3l-1-1.5l-1.8-1.8l-2.2-1.2l-2.1-.7l-2.8-.4l-7.8 0l-5.7-.4l-2.8 .2l-2.8 .7l-2.1 1l-1.9 1.2l-1.4 1.4l-1 1.4l-.6 1.4l-.2 1.5l.1 1.4l.5 1.4l1.3 2.1l1.7 1.7l2.2 1.5l5.2 3.1l2.5 2.1l1.5 1.6l1.4 2l1.8 3.5zM312.3 249.7l2.1-.2l1.4-.7l1.5-1.1l3.6-3.7l2-1.2l2.1-.7l4.3-.4l7.1 0l7.7 .5l10.7 1.1l0-2.3l-31.2-2.8l-11.3-.9l-14.9-.2l-6.3-.3l0 3.2l2.8-.1l3.5 .4l2.9 .6l2.1 .8l2.3 1.6l3.4 3.8l1.4 1.3l1.4 .9l1.1 .3zM344.9 195.3l9.9 0l0-2.5l-11.3 .1l-4.3-.3l-3.5-.5l-3.5-.7l-2.9-.9l-9.2-3.5l-2.8-.6l-3.5-.4l-4.3 .3l-3.5 .8l-2.9 1.1l-4.9 2.4l-2.1 .7l-2.2 .2l-2.8-.6l0 1.8l2.1 .9l2.2 .1l2.1-.7l5.6-2.9l3.6-1.4l4.2-.9l3.6 0l2.1 .2l2.8 .7l9.2 3.5l5 1.5l5.6 1.1l5.3 .5zM354.8 160.1l0-2.3l-14.9-2l-11.3-2.7l-5.6-1.1l-8.5-1.2l-14.9-1l-8.5-1.2l0 3l2.8 1.1l2.2 .5l2.8 .1l9.9-.8l3.5 0l3.6 .3l3.5 .6l4.8 1l12.9 3.4l4.3 .6l9.2 .9l3.9 .7zM303.8 104.3l6.4 .4l6.3 0l5-.5l12.7-1.9l5-1l10.6-2.7l5-.7l0-2.7l-2.2 0l-2.1 .4l-11.3 3.4l-3.6 .8l-3.5 .5l-8.5 .5l-7.1 .8l-3.5 .2l-5-.5l-4.2-1.2l-2.7-1.4l-1.7-1.5l-1.6-2.1l-1.1-2.8l-.3-2.1l.2-2.1l1.3-6.4l.3-2.1l-.1-2.1l-.4-1.4l-.8-1.4l-1.2-1.4l-1.7-1.4l-2.9-1.8l0 33.6l2.1-.3l2.1-.1l8.5 1zM354.1 88.3l.7 .2l0-14.9l-2.8 1.6l-1.9 1.6l-1.3 2.2l-.5 2.1l.2 2.1l1.1 2.1l1.7 1.5l2.3 1.3zM331.4 65l2.1 .3l1.5-.4l.6-.5l.8-.9l.6-2.2l-.1-2.8l-.8-2.8l-.5-.9l-1-1.2l-1-.7l-.8-.3l-2.1 .2l-1.6 .8l-.7 .7l-.9 1.4l-.6 2.1l.1 2.1l.8 2.1l1.5 1.8l1.8 1.1zM291.6 35.9l3.2-2.8l-3.7 0l0 3.2z" fill="#00e8c8" fill-rule="evenodd"/>
<path d="M330.7 308.1l24.1 0l0-4.8l-1.6-1.5l-2-1.3l-7.1-3.1l-2.8-1.7l-1.1-1l-1-1.3l-2.8-5.2l-1.5-1.8l-1.2-.9l-.9-.3l-2.1-.1l-1.4 .4l-1.8 1.4l-1.1 2.2l-.3 2.1l.4 2.6l.9 2.3l1.2 1.8l2.6 3.1l1.1 2.2l.2 1.4l-.4 1.4l-1.6 2.1zM349.1 240.4l5.7 .6l0-2l-17.7-1.9l-7.1-1.1l-6.4-1.4l-7.8-2.7l-3.5-.8l-1.4 0l-2.1 .2l-7.1 2l-3.6 .6l-3.5 .1l-3.5-.7l0 3.4l6.3 .4l14.9 .1l36.7 3.2zM341.4 197.5l5.7 .5l7.7 0l0-2.7l-9.9 0l-4.2-.3l-3.5-.5l-3.6-.8l-3.5-1l-10.6-4l-2.9-.7l-2.8-.3l-3.5 .2l-3.6 .8l-3.5 1.4l-5.7 2.9l-2.1 .7l-2.1-.1l-2.2-.9l0 2.1l2.2 1.3l1.4 .2l2.1-.7l6.4-3.8l3.5-1.5l4.3-1l3.5-.1l2.1 .4l2.9 .7l9.2 3.8l4.2 1.5l4.3 1.1l3.6 .7zM351.3 157.3l3.5 .5l0-1.9l-12-1.8l-13.4-3.4l-10-1.7l-6.3-.8l-15.6-1.3l-6.4-.7l0 2.5l8.5 1.2l12.1 .7l6.3 .6l9.2 1.7l12.8 2.9l10.8 1.4zM291.8 108.3l10.6-.4l14.9-.2l4.9-.5l15.6-3.6l12-3.1l5-.8l0-1.7l-5 .6l-10.6 2.7l-4.9 1.1l-15.6 2.2l-4.3 .2l-4.2 0l-5.7-.4l-8.5-1l-2.1 0l-2.1 .2l-.7 .1l0 4.6z" fill="#00d090" fill-rule="evenodd"/>
<path d="M354.8 239.1l0-1.9l-14.9-1.9l-7-1.3l-7.6-2l-9.4-3.6l-3.6-.9l-2.1-.1l-2.8 .3l-7.8 2.3l-2.8 .5l-2.9-.1l-1.4-.3l-1.4-.6l0 3.9l2.1 .5l2.9 .2l2.8-.2l2.8-.6l7.1-1.9l2.1-.2l1.4 0l3.6 .8l7.8 2.6l6.3 1.5l7.1 1.1l17.1 1.8zM349.8 200.9l5 .2l0-3.1l-10-.1l-3.5-.4l-3.5-.7l-7.1-2l-11.3-4.5l-2.9-.8l-2.1-.3l-3.5 .1l-4.3 1l-3.5 1.5l-5.7 3.4l-2.1 .9l-1.4 .1l-.7-.1l-2.1-1.4l0 2.6l1.4 1.4l.7 .4l1.4 0l2.1-1.2l5.6-4.1l3.6-1.8l2.1-.8l2.2-.5l2.1-.2l2.1 .1l2.8 .5l2.9 .9l10.6 4.9l6.4 2.3l5.6 1.2l7 .5zM354.8 155.8l0-1.8l-9.2-1.4l-7.1-2l-12.3-4.7l-2.6-1.4l-3.5-2.5l-1.4-.6l-1.4 .1l-4.8 1.6l-2.3 .5l-4.9 .6l-7.8 .1l-3.6-.2l-2.8-.5l0 2.5l6.4 .8l15.5 1.2l6.4 .8l9.9 1.8l13.5 3.3l11.6 1.7zM291.8 111.9l16.3-.9l9.9 .1l3.5-.4l2.9-.8l10.1-3.5l14.6-4.1l5.7-1.2l0-1.5l-5 .9l-12.7 3.3l-12.7 2.9l-3.6 .7l-4.2 .3l-14.2 .1l-11.3 .5l0 3.6z" fill="#00c070" fill-rule="evenodd"/>
<path d="M352.7 236.9l2.1 .3l0-1.9l-11.8-2l-6.4-1.4l-11.5-3.3l-8.5-3.4l-3.5-1l-2.9-.2l-2.8 .1l-2.8 .5l-5.7 1.3l-2.8 .2l-2.9-.4l-2.1-1.1l0 4.8l2.1 .8l2.2 .3l2.1-.1l2.8-.6l7.1-2.1l2.8-.4l2.2 .1l3.5 .9l9.2 3.6l7.1 1.9l7.1 1.3l13.1 1.8zM347.7 203.7l7.1 .4l0-3l-10.6-.6l-3.6-.5l-2.8-.6l-3.5-1.2l-3.6-1.3l-11.3-5.2l-2.8-.8l-2.2-.4l-2.1 0l-2.1 .2l-2.1 .5l-2.2 .7l-3.6 1.9l-5.6 4.1l-2.1 1.1l-1.4 0l-.7-.3l-1.4-1.4l0 3.6l.7 1l.7 .6l.7 .3l.7-.1l.7-.3l1.4-1l3.2-3.3l2.4-2.2l3.2-2.1l2.6-1.1l2.1-.7l2.8-.3l2.1 .1l2.9 .6l2.8 1l12 6.5l5 2.2l4.2 1.1l6.3 .5zM352.7 153.8l2.1 .3l0-1.8l-5.6-.9l-5.7-1.5l-4.5-1.8l-4.8-2.8l-1.9-1.5l-1.4-1.4l-3.7-5.2l-2.1-2.5l-2.1-1.6l-1.4-.7l-1.5-.4l-1.4-.2l-2.1 .2l-2.1 .5l-2.1 .8l-1.5 .8l-1.4 1.2l-3.5 3.7l-1.4 1l-2.2 .8l-2.8 .6l-3.5 .2l-2.9-.4l-2.1-.7l0 3.2l2.9 .5l4.2 .3l5.7-.1l4.9-.5l3.7-.8l4.8-1.6l1.4 0l1.4 .5l3.5 2.5l2.6 1.5l11 4.2l7 2.1l7.8 1.4zM291.8 131.8l4-2.8l.6-.7l.3-.7l.1-.7l-.6-1.5l-1.2-1.4l-1.8-1.2l-2.1-.9l0 10.5zM291.8 116.7l15.6-1.5l4.2 0l6.4 .5l2.8-.3l2.9-1.1l6.4-3.6l4.9-2.2l12-3.9l7.8-2.1l0-1.4l-5.7 1.3l-14.1 3.9l-4.3 1.3l-7 2.6l-2.9 .7l-3.5 .3l-9.9-.1l-16.3 .9l0 4.7z" fill="#00b040" fill-rule="evenodd"/>
<path d="M352 234.8l2.8 .5l0-2.2l-5.8-1.2l-5.7-1.4l-4.2-1.4l-6.2-2.5l-9.2-2.4l-7.8-2.8l-2.8-.5l-2.9-.3l-9.9 .1l-2.8-.1l-2.8-.8l-3.6-2l0 6.8l1.4 .8l1.5 .5l1.4 .2l2.1-.1l9.2-1.8l2.8-.3l2.9 .2l3.5 .9l9.2 3.6l10.6 3.1l7.1 1.6l8.7 1.4zM292.5 208.4l.7 0l1.4-.9l1.4-1.8l3.4-5.5l1.8-2.1l1.6-1.4l2.4-1.7l2.2-1l2.1-.7l2.1-.4l2.1 0l2.2 .4l2.1 .6l2.1 1l3.1 1.8l3.1 2.1l8 6.3l2.8 1.3l3.5 .5l9.2-.1l5 .4l0-3l-11.3-.7l-5-.8l-2.1-.7l-3.6-1.6l-10.4-5.8l-3-1.4l-2.1-.8l-2.2-.5l-3.5-.1l-2.1 .3l-2.1 .6l-3.8 1.9l-2.8 2.1l-4.8 4.7l-1.4 1.1l-1.4 .3l-.7-.2l-.7-.6l-.7-1l0 5.8l.8 1.2zM350.6 151.7l4.2 .6l0-1.9l-5.5-.9l-4.2-1.4l-4.1-2.1l-3.8-2.9l-2.1-2.1l-1.5-1.9l-7.2-10.8l-1.5-2.8l-.3-1.4l-.1-1.4l.6-2.1l1.7-2.9l2.6-2.8l3.5-2.8l3.5-1.9l3.8-1.6l8.1-2.8l6.5-2l0-1.3l-7.7 2.1l-12.1 3.9l-4.9 2.2l-6.4 3.6l-2.8 1.1l-2.9 .3l-6.3-.5l-4.3 0l-16.3 1.5l0 5.2l2.2 1l1.7 1.2l1.3 1.4l.5 1.4l0 .7l-.4 .7l-.6 .7l-4.7 3.5l0 8l2.2 .7l2.8 .4l3.5-.2l2.9-.6l2.1-.9l1.4-.9l3.5-3.7l1.5-1.2l1.4-.8l2.1-.8l2.1-.5l2.2-.2l1.4 .2l1.4 .4l1.4 .7l2 1.6l2.2 2.5l3.7 5.2l2 1.9l2.4 1.7l3.7 2.1l3.3 1.4l4.1 1.3l3.6 .8z" fill="#00a020" fill-rule="evenodd"/>
<path d="M352.7 232.7l2.1 .4l0-2.6l-7.1-2.2l-3.1-1.3l-2.4-1.4l-1.8-1.4l-1.9-2.2l-1.1-2.1l-.3-2.1l.6-2.1l1-1.4l1.7-1.4l2.4-1.3l2.8-.9l3.6-.5l2.8-.1l2.8 .4l0-3.3l-4.9-.4l-9.2 .1l-2.2-.2l-2.1-.6l-2.8-1.6l-7.3-5.7l-5.3-3.6l-3.7-1.6l-2.1-.5l-2.1-.3l-2.2 .1l-2.8 .7l-2.8 1.4l-2.5 1.7l-1.5 1.4l-1.8 2.1l-4.1 6.4l-1.4 1.5l-.8 .3l-.7-.1l-.7-.4l-.7-1.1l0 11l3.6 2l1.4 .5l2.1 .4l11.3-.1l2.9 .2l2.8 .5l2.8 .8l5.7 2.1l9.2 2.4l6.2 2.5l3.7 1.2l9.5 2.3zM305.9 217.1l-3.4-.9l-2.2-1.2l-.7-.7l-.9-1.4l-.4-1.4l-.1-1.5l.4-3.5l.5-2.1l.9-2.1l1.3-2.1l1.1-1.4l2.9-2.5l2.8-1.5l2.9-.8l2.8 0l2.7 .5l3 1.3l2.4 1.6l3.3 2.8l2.4 2.8l.7 1.4l.7 2.1l.2 2.1l-.3 1.4l-.5 1.5l-1.3 2.1l-1.3 1.6l-1.4 1.2l-2.1 .9l-3.6 .5l-7-.1l-5.7-.6zM353.4 150.2l1.4 .2l0-2l-2.4-.4l-2.5-.7l-4.3-1.8l-3.6-2.4l-3.5-3.6l-3.2-4.2l-3.1-5.6l-1.5-3.6l-.4-2.1l-.1-1.4l.5-2.8l.9-2.1l1.5-2.1l2.3-2.2l2.4-1.6l3.8-1.9l7.1-2.8l6.1-2.1l0-1.3l-6.6 2l-7.5 2.6l-3.9 1.6l-3.2 1.7l-3.5 2.6l-2.7 2.8l-2 2.8l-.6 1.4l-.3 1.4l.2 2.1l1.2 2.8l7.5 11.3l3 3.6l3.5 2.8l3.6 2.1l4.2 1.7l5.1 1.1z" fill="#80d000" fill-rule="evenodd"/>
<path d="M352.7 229.9l2.1 .6l0-4l-3.8-1.6l-1.1-.8l-1.7-1.4l-1.4-2.1l-.3-1.4l.1-.7l.4-1.2l.7-.9l.9-.7l1.3-.6l2.1-.5l2.8 .3l0-4.4l-3.5-.4l-4.3 .4l-3.8 1l-2.8 1.4l-1 .7l-1.2 1.4l-1 2.1l-.1 1.4l.3 1.4l1.1 2.1l1.9 2.2l2.9 2.1l4.4 2l4.6 1.5zM306 217.2l5.7 .6l7 0l3.6-.4l2.1-.9l1.4-1.2l1.3-1.6l1.3-2.2l.5-1.4l.3-1.4l-.2-2.1l-.7-2.1l-.7-1.4l-2.4-2.8l-3.3-2.9l-2.5-1.5l-2.9-1.3l-2.7-.5l-2.8 0l-2.9 .8l-2.8 1.5l-2.9 2.4l-1.1 1.5l-1.3 2.1l-.9 2.1l-.5 2.1l-.4 3.5l.1 1.4l.4 1.5l.9 1.4l.7 .7l2.2 1.2l3.4 .9zM310.1 215l-2.8-.5l-2.1-.7l-1.5-.9l-1.5-1.4l-.9-1.4l-.5-2.2l-.1-2.1l.4-2.1l.9-2.1l1.1-1.7l1.7-1.8l1.8-1.3l2.2-1.1l2.1-.5l2.1-.2l2.1 .3l2.2 .8l2.1 1.1l2 1.6l1.4 1.4l1.5 2.1l.6 1.4l.3 2.1l-.2 1.4l-.9 2.2l-1.1 1.4l-1.5 1.4l-2.1 1.4l-2.1 .8l-2.2 .5l-2.1 .2l-2.8-.1zM352.7 148.1l2.1 .3l0-2.1l-4.2-1.3l-2.1-1l-2.2-1.3l-3.5-3.1l-3.5-4.3l-2.1-3.5l-2-4.2l-.8-2.8l-.2-2.9l.4-2.1l.9-2.1l1.5-2.1l1.6-1.4l2.8-1.9l3.1-1.6l10.3-4.3l0-1.3l-6.1 2l-5.5 2.1l-3.9 1.9l-2.9 1.7l-2.6 2.1l-1.8 2.1l-1.1 2.1l-.7 2.8l0 1.5l.3 2.1l1.3 3.5l3.1 5.6l3.6 5l2.9 2.9l3.5 2.6l3.6 1.8l3.9 1.1z" fill="#ffff00" fill-rule="evenodd"/>
<path d="M354.8 226.5l0-11.6l-2.8-.2l-2.2 .4l-1.4 .7l-1.3 1.3l-.5 1.4l-.1 .7l.3 1.4l.8 1.5l1.5 1.5l1.9 1.3l3.2 1.4zM310.2 215l2.8 .1l2.2-.2l2.1-.5l2.1-.8l2.1-1.4l1.5-1.4l1.1-1.5l.9-2.1l.2-1.4l-.3-2.1l-.6-1.4l-1.5-2.1l-1.4-1.4l-2-1.6l-2.1-1.1l-2.1-.8l-2.2-.3l-2.1 .2l-2.1 .5l-2.1 1.1l-1.9 1.3l-1.7 1.8l-1.1 1.7l-.9 2.1l-.3 2.1l0 2.1l.5 2.2l.9 1.4l1.5 1.4l1.5 .9l2.2 .7l2.7 .5zM310.8 212.9l-2-.3l-1.4-.5l-1.5-.7l-1.6-1.3l-1-1.4l-.5-1.4l-.2-1.5l.2-2.1l.8-2.1l.9-1.4l1.4-1.4l1.5-1.1l2.1-1l1.4-.4l1.4-.1l2.1 .2l2.2 .7l1.4 .7l1.3 1l1.5 1.4l1 1.4l.6 1.4l.2 1.4l-.1 1.4l-.4 1.5l-.8 1.4l-1.2 1.3l-1.4 1.1l-1.4 .8l-2.2 .7l-2.1 .3l-2.1 0zM353.4 146l1.4 .3l0-2.4l-3.5-1.4l-3.3-2.2l-3.7-3.5l-2.6-3.5l-1.6-2.9l-1.5-3.5l-.7-2.8l-.2-2.1l.4-2.1l.5-1.5l.9-1.4l1.2-1.4l2.1-1.7l3-1.8l9-4.2l0-1.5l-10.3 4.3l-2.8 1.4l-2.5 1.6l-2.2 1.9l-1.6 2.1l-.8 2.2l-.4 2.1l0 1.4l.4 2.1l1.2 3.5l2.2 4.3l2.7 3.9l2.7 3.1l2.9 2.4l3.1 1.8l3.8 1.4z" fill="#ffaa00" fill-rule="evenodd"/>
<path d="M310.9 212.9l2.1 0l2.1-.3l2.2-.7l1.4-.8l1.4-1.1l1.2-1.3l.8-1.5l.4-1.4l.1-1.4l-.2-1.4l-.6-1.4l-1-1.4l-1.5-1.4l-1.3-1l-1.4-.7l-2.2-.7l-2.1-.2l-1.4 .1l-1.4 .4l-2.1 1l-1.5 1.1l-1.4 1.4l-.9 1.4l-.8 2.1l-.2 2.1l.2 1.4l.6 1.5l.9 1.4l1.6 1.3l1.5 .7l1.4 .4l2 .4zM309.7 210.8l-2.3-1l-1.5-1.1l-.7-1l-.5-1.1l-.3-1.4l.1-1.5l.4-1.4l.8-1.4l.9-1.1l1.3-1l1.6-.8l1.4-.5l1.4-.1l1.4 .1l2.1 .6l2.3 1.4l1.7 2.1l.7 2.1l-.1 1.5l-.4 1.4l-.6 1l-1 1.1l-1.1 .9l-1.5 .7l-2.8 .8l-2.8-.2zM354.8 143.9l0-2.7l-2.8-1.5l-2.9-2.1l-2.1-2.2l-2.2-2.8l-1.6-2.9l-1.3-2.8l-.6-2.1l-.3-2.1l.2-2.1l.5-1.4l.7-1.4l1.2-1.5l1.6-1.4l2.1-1.4l7.5-3.9l0-1.7l-9 4.2l-2.4 1.4l-1.9 1.4l-1.6 1.6l-1.3 2l-.7 2.1l-.2 2.1l.4 2.8l1.3 3.5l1.8 3.6l2.5 3.5l2.6 2.8l2.6 2.1l3.1 1.9l2.6 .9z" fill="#ff7000" fill-rule="evenodd"/>
<path d="M310.2 210.9l2.8 .1l2.9-.7l1.4-.7l1.2-.9l.9-1.1l.6-1l.5-1.5l0-1.4l-.7-2.1l-1.7-2.1l-2.2-1.4l-2.2-.6l-1.4-.1l-1.4 .1l-1.4 .5l-1.6 .8l-1.2 1l-1 1.1l-.8 1.4l-.4 1.4l-.1 1.4l.3 1.5l.5 1.1l.8 1l1.4 1.1l2.3 1zM309.4 208.7l-1.2-.7l-.8-.7l-.8-1.3l-.2-.8l0-2.1l.7-1.5l.5-.7l1.9-1.4l1.4-.6l1.4-.2l2.1 .4l2.2 1.1l1.2 1.4l.4 .8l.3 1.4l-.2 1.4l-1 1.8l-1.5 1.2l-2.1 .9l-2.1 .1l-2.1-.5zM354.8 141.2l0-2.9l-2.2-1.5l-2.4-2.1l-1.8-2.2l-1.8-2.8l-1.6-3.5l-.5-2.1l-.2-1.4l.1-1.4l.4-1.4l1.2-2.2l1.3-1.4l1.8-1.4l5.7-3.3l0-2l-6.3 3.2l-2.3 1.4l-1.8 1.4l-1.4 1.4l-1 1.4l-.6 1.5l-.4 2.1l.2 2.1l.7 2.8l1.6 3.5l1.8 2.8l2.3 2.9l2.2 2l2.2 1.6l2.4 1.3z" fill="#ff4000" fill-rule="evenodd"/>
<path d="M309.5 208.7l2.1 .5l2.1-.2l2.2-.8l1.4-1.2l1-1.9l.2-1.4l-.3-1.4l-.3-.7l-1.3-1.4l-2.1-1.2l-2.2-.3l-1.4 .2l-1.4 .6l-1.9 1.4l-.5 .7l-.7 1.4l0 2.1l.3 .9l.8 1.3l.7 .7l1.2 .7zM310.1 206.6l-.9-.7l-.7-1.4l.1-1.4l.9-1.5l1.4-.9l1.4-.3l1.4 .2l.7 .4l.9 .7l.6 .7l.3 1.4l-.4 1.3l-.7 .9l-.8 .6l-1.3 .5l-1.4 0l-1.4-.5zM354.8 138.3l0-3.2l-2.8-2.7l-2.4-3.4l-1.4-3.5l-.4-2.8l.3-2.1l1.2-2.1l2.1-2.2l3.4-2.2l0-2.5l-5.7 3.3l-2.5 2.1l-1.1 1.5l-.7 1.4l-.4 1.4l-.1 1.4l.3 2.1l.7 2.1l2.1 4.2l1.6 2.2l1.6 1.7l2 1.8l2 1.4z" fill="#ff1000" fill-rule="evenodd"/>
<path d="M310.2 206.6l1.4 .5l1.4-.1l1.3-.4l.9-.6l.7-1l.3-1.3l-.3-1.4l-.5-.7l-.9-.7l-.8-.3l-1.4-.2l-1.4 .3l-1.4 .9l-.9 1.4l0 1.4l.7 1.5l.8 .7zM354.8 135.1l0-3.9l-1.1-1.5l-1.2-2.1l-.7-2.1l-.3-2.1l.2-1.4l.5-1.5l1-1.4l1.6-1.5l0-3.5l-3.4 2.2l-2.1 2.1l-1.2 2.1l-.3 2.2l.4 2.8l1.4 3.5l1.9 2.8l2.7 2.8z" fill="#ff0000" fill-rule="evenodd"/>
<path d="M354.8 131.2l0-13.6l-1.6 1.5l-1 1.4l-.5 1.5l-.2 1.4l.2 1.4l.5 2.1l1.1 2.1l1.4 2.1z" fill="#ff0000" fill-rule="evenodd"/>
<path d="M354.8 180.8l-.2-1l.2-.6M291.1 179l.1 .7l-.1 1.1M354.8 56.7l-1.4-.9l-.9-.9l-.7-1.4l-.2-1.4l.3-1.4l.5-.7l1-.9l1.4-.7M354.8 184.7l-3.5-1.1l-2.9-.6l-2.8-.1l-5.7 0l-2.9-.3l-2-.7l-.7-.4l-1-1.1l-.3-.7l.1-.7l.2-.7l.6-.7l1.1-.7l2.1-.7l2.8-.3l8.5-.4l6.4-1.1M291.1 174.9l1.4 1l1 1l.7 1.5l.2 1.4l-.2 .7l-.6 1.4l-1.2 1.4l-1.3 .9M354.8 59.7l-2.8-1.3l-2.3-2l-1.2-2.1l-.4-1.4l-.2-1.5l.3-2.1l.6-1.4l.5-.7l.9-.7l1.4-.7l3.2-.7M354.8 289.1l-1.5-.7l-1.3-1.4l-.4-.8l-.2-1.4l.3-1.4l.9-1.4l.8-.7l1.4-.9M354.8 186.9l-5.7-.8l-11.3-.2l-4.2-.8l-2.9-1.2l-2.6-2l-1.5-2.2l-.5-2.1l.3-1.4l.4-.7l1.2-1.4l2-1.2l2.9-.8l4.2-.6l6.4-.4l4.9-.1l6.4 .3M291.1 172l5 1.2l2.3 1l1 .7l.5 .7l.3 1.4l-.3 1.4l-.7 1.4l-2.1 2.8l-2.6 2.1l-1.3 .7l-2.1 .8M354.8 62.2l-2.1-.7l-2.1-1l-2.2-1.7l-1.4-1.7l-1.1-2.1l-.9-2.8l-.6-3.6l-.2-2.8l.1-1.4l.3-.7l1-.8l2.8-.4l6.4-.2M341.1 33.1l.6 2.1l.2 2.1l.1 1.4l-.4 1.5l-.9 .6l-.7 .2l-2.9 .2l-2.8-.1l-2.8-.4l-1.8-.5l-1.8-.9l-1.4-1.3l-.9-1.4l-.4-1.4l.1-2.1M309.5 170l-1.4-.6l-1.2-.9l-.8-1.5l-.3-1.4l.2-2.1l.5-1.4l.9-1.4l1.4-1.1l1.4-.7l1.4-.4l2.1-.1l2.2 .2l2.1 .6l1.8 .8l1.1 .7l1.3 1.4l.7 1.4l0 1.5l-.7 1.6l-1.4 1.3l-2.1 1.1l-3.5 1l-2.9 .3l-2.1-.1zM354.8 293l-2.3-1.1l-2.2-1.4l-1.5-1.4l-1.1-1.4l-.6-1.4l-.4-2.1l-.1-2.2l.6-4.2l-.1-1.4l-.3-.7l-1.2-1.4l-5-4.3l-1.1-1.4l-1.2-2.1l-.8-2.8l-.3-2.8l.1-3.5l.6-3.6l.6-1l.7-.5l1.4-.2l2.2 .3l2.1 .9l6.4 3.4l2.1 1.4l1.4 1.3M291.1 250.4l.7 0l1.2 .5l.8 1.4l1 6.4l.2 2.8l-.2 2.8l-.8 2.2l-1 1.4l-1.9 1.7M354.8 188.8l-5-.4l-10.6-.1l-4.9-.6l-2.9-.8l-2.1-.8l-6.3-3.6l-2.2-.9l-2.1-.5l-2.8-.2l-7.1 .4l-3.5 .7l-2.9 1.1l-6.8 3.7l-2.3 .7l-2.2 .2M291.1 167.4l1.4 .4l1.4 0l1.4-.3l1.5-.5l1.4-.8l1.3-1.2l3.7-4.9l2.1-1.8l2-1.1l1.5-.4l2.1-.4l2.1-.1l2.2 .1l2.8 .5l2.8 .8l2.5 1l3.7 2.1l4.4 3.6l1.5 .8l1.4 .5l3.5 .4l7.8-.2l2.8 .1l2.9 .4l3.5 1.1M354.8 64.7l-2.8-.8l-2.2-.9l-2.1-1.3l-1.4-1.3l-1.4-1.8l-.9-1.6l-3.4-7.9l-.8-1.2l-1.5-1.5l-1.9-1l-2.1-.6l-10.5-1.2l-1.6-.5l-1.3-.9l-1.1-1.4l-.9-2.1l-.3-2.8l.4-2.8M345.5 33.1l1.5 2.8l1.4 1.5l1.4 .9l1.5 .5l3.5 .5M291.1 304.6l5.7-.9l2.1 0l2.8 .3l2.8 .6l2.2 .7l2.4 1.3l1.8 1.5M354.8 296l-6.3-3.4l-1.7-1.4l-1.2-1.4l-1.8-2.9l-2.4-6.3l-1.5-2.2l-1.4-1.2l-2.1-1.4l-10.7-5.8l-2.2-1.4l-1.3-1.3l-.7-1.1l-.6-1.8l-.1-1.5l.5-2.8l2-4.9l1.9-5.6l1.4-2.2l2-1.4l1.8-.7l2.5-.5l5.6-.2l8.5 .7l7.8 1.4M291.1 243.7l2.1-.4l2.9 .3l2.4 1l1.7 1.4l1.4 2.1l1.1 2.9l.9 3.5l.4 3.5l-.4 3.5l-.9 4.3l-1 2.8l-1 2.1l-1.7 2.1l-2.2 1.8l-2.9 1.7l-2.8 1M354.8 190.8l-13.4-.2l-6.4-.6l-2.8-.6l-2.9-.9l-8.5-3.5l-2.8-.7l-3.5-.3l-3.6 .1l-3.5 .5l-3.6 1.1l-7.7 3.4l-2.2 .4l-2.8-.1M291.1 156l2.1 2.9l.7 .7l.7 .4l.7 .1l1.5-.3l5.3-3.3l3.2-1.2l2.1-.5l2.8-.4l5 .2l4.2 .7l4.3 1.1l4.4 1.6l5.5 2.2l2.8 .8l3.5 .4l9.9 .6l2.9 .6l2.1 .7M354.8 68.1l-2.8-.5l-2.9-.8l-2.1-1.1l-2.1-1.6l-1.4-1.6l-1.2-1.9l-2.6-6.3l-1.2-2.3l-.9-1.3l-1.2-1l-2.1-1.2l-1.4-.3l-2.2-.1l-2.1 .3l-2.1 .7l-2.9 1.6l-4.9 3.9l-1.4 .8l-1.4 .4l-2.2 .3l-2.1-.2l-2.1-.6l-1.9-1l-1.5-1.4l-1.2-2.2l-.6-2.1l-.3-2.8l.1-2.1l.5-2.1l3.5-8.5M351 33.1l.5 .7l1.2 .9l1.4 .5l.7 .1M310.2 97.4l-1.6-.8l-1.3-1.4l-.4-1.5l.2-1.4l.4-.7l1.3-1.5l2.1-1.3l2.1-.8l3.6-.7l6.3-.8l3.6-.2l3.5 .1l2.8 .5l3.6 1.1l2.8 1.4l1.8 1.5l.6 1.4l-.1 .7l-.4 .7l-1.6 1.5l-1.7 .8l-2.8 .8l-2.2 .3l-2.1 0l-7.8-.8l-7.7 1.5l-2.2 .1l-2.1-.3zM354.8 299.1l-2.1-1.3l-5.7-2.9l-2.8-2.1l-2.1-2.6l-2.9-5.3l-1-1.5l-1.8-1.8l-2.1-1.2l-2.1-.7l-2.9-.4l-7.8 0l-5.6-.4l-2.9 .2l-2.8 .7l-2.1 1l-1.8 1.2l-1.5 1.4l-1 1.4l-.6 1.4l-.2 1.4l.2 1.5l.4 1.4l1.3 2.1l1.8 1.7l2.1 1.5l5.3 3.1l2.5 2.1l1.4 1.6l1.4 2l1.9 3.5M291.1 240l2.8-.1l2.9 .2l2.8 .5l2.1 .7l1.4 .8l1.6 1.1l3.4 3.8l1.4 1.4l1.4 .8l2.1 .5l2.2-.5l1.4-.9l3.5-3.7l1.8-1.4l1.8-.8l2.1-.5l4.2-.3l7.1 .1l7.8 .5l9.9 1M354.8 192.8l-11.3 0l-4.3-.2l-3.5-.5l-3.5-.8l-2.9-.8l-9.2-3.5l-2.8-.7l-3.6-.3l-4.2 .3l-3.5 .8l-2.9 1.1l-4.9 2.3l-2.1 .8l-2.2 .2l-2.8-.6M291.1 151.6l3.5 1.3l2.9 .5l11.3-.9l3.5 0l4.3 .4l7.8 1.5l12.7 3.4l4.3 .7l9.2 .8l4.2 .8M354.8 95.2l-2.1 .1l-2.1 .3l-11.4 3.4l-3.5 .8l-3.5 .5l-8.5 .5l-7.1 .8l-3.6 .2l-4.9-.4l-4.3-1.3l-2.7-1.4l-1.7-1.4l-1.6-2.1l-1.1-2.9l-.2-2.1l.1-2.1l1.4-6.3l.2-2.2l-.1-2.1l-.4-1.4l-.7-1.4l-1.2-1.4l-1.8-1.4l-2.9-1.8M354.8 73.6l-2.8 1.5l-1.9 1.7l-1.3 2.1l-.4 1.4l-.2 1.4l.5 2.2l1.6 2.1l1.9 1.4l2.6 1.1M291.1 36.3l3.7-3.2M331.4 65l2.1 .3l1.5-.4l.6-.5l.8-.9l.6-2.2l-.1-2.8l-.8-2.8l-.5-.9l-1-1.2l-1-.7l-.8-.3l-2.1 .2l-1.6 .8l-.7 .7l-.9 1.4l-.6 2.1l.1 2.1l.8 2.1l1.5 1.8l1.8 1.1zM354.8 303.3l-1.6-1.5l-1.9-1.3l-7.1-3.1l-2.8-1.6l-1.2-1.1l-1-1.3l-2.8-5.2l-1.4-1.8l-1.3-.8l-.8-.4l-2.2-.1l-1.4 .5l-1.8 1.4l-1 2.1l-.3 2.1l.3 2.6l.9 2.4l1.2 1.7l2.6 3.2l1.1 2.1l.2 1.4l-.3 1.4l-1.7 2.1M291.1 236.7l6.4 .4l14.8 .1l11.4 .9l31.1 2.9M354.8 195.2l-9.9 0l-4.3-.3l-3.5-.5l-3.5-.8l-3.6-1l-10.6-4l-2.8-.6l-2.9-.3l-3.5 .2l-3.5 .8l-3.6 1.4l-5.6 2.9l-2.2 .7l-2.1-.1l-2.1-1M291.1 148.6l8.5 1.2l12 .7l6.4 .7l9.2 1.6l12.7 2.9l14.9 2.1M354.8 97.9l-5 .7l-10.6 2.7l-4.9 1l-15.6 2.2l-4.2 .3l-4.3-.1l-5.7-.3l-9.2-1.1l-2.1 .1l-2.1 .3M291.1 233.4l3.5 .6l3.6-.1l3.5-.6l7.1-1.9l2.1-.2l1.4 0l3.6 .8l7.8 2.6l6.3 1.5l7.1 1.1l17.7 1.9M354.8 198l-9.9-.2l-3.5-.3l-3.6-.7l-7.1-2l-12-4.8l-2.8-.6l-2.2-.2l-3.5 .1l-4.2 1.2l-2.9 1.3l-5.6 3.4l-2.2 .9l-1.4 .1l-.7-.1l-2.1-1.4M291.1 146.2l6.4 .7l15.5 1.3l6.4 .8l9.9 1.7l13.5 3.4l12 1.8M354.8 99.7l-5 .9l-12.7 3.2l-12.7 3l-3.6 .6l-4.2 .4l-14.2 .1l-11.3 .5M291.1 229.4l1.4 .6l1.4 .4l2.9 0l2.8-.5l7.8-2.2l2.8-.4l2.1 .1l3.6 .9l9.4 3.6l7.6 2l7 1.3l14.9 2M354.8 201.1l-9.9-.5l-3.5-.4l-2.9-.6l-3.5-1.1l-3.6-1.3l-12-5.4l-2.8-.9l-2.9-.4l-2.1 0l-2.1 .4l-2.1 .5l-2.1 .9l-2.9 1.6l-5.6 4.1l-2.2 1.1l-1.4 0l-.7-.4l-1.4-1.3M291.1 143.7l2.8 .5l3.6 .2l7.8-.1l4.9-.7l2.3-.5l4.8-1.6l1.4 0l1.4 .5l3.5 2.5l2.6 1.4l12.3 4.8l7.1 1.9l9.2 1.4M354.8 101.1l-5.7 1.2l-14.1 4l-4.3 1.3l-7 2.6l-2.9 .6l-3.5 .3l-9.9 0l-16.3 .8M291.1 224.6l2.1 1.1l2.9 .5l2.8-.3l5.6-1.3l2.9-.5l2.8-.1l2.8 .3l3.6 1l8.5 3.3l11.5 3.3l6.4 1.4l11.8 2M354.8 204.1l-11.3-.6l-5-.9l-2.1-.7l-3.5-1.6l-12.8-6.9l-3.5-1.2l-2.9-.5l-2.1 0l-2.1 .3l-2.8 1l-2.2 1l-3.7 2.6l-4.7 4.8l-1.5 1l-1.4 .4l-.7-.3l-.7-.6l-.7-1M291.1 140.5l2.1 .7l2.9 .3l3.5-.1l2.8-.6l2.1-.9l1.5-.9l3.5-3.8l1.4-1.1l1.4-.8l2.2-.9l2.1-.5l2.1-.1l1.4 .1l2.1 .7l2.2 1.5l2.1 2.2l3.3 4.7l1.6 2l1.8 1.5l3.2 2.1l4.1 2.1l4.4 1.7l4.9 1.1l5 .7M291.1 121.9l2.1 .9l1.8 1.2l1.2 1.5l.6 1.4l-.1 .7l-.3 .7l-.6 .7l-4.7 3.4M354.8 102.5l-7.8 2.1l-12 3.9l-4.9 2.2l-6.4 3.6l-2.9 1.1l-2.8 .3l-6.4-.5l-4.2 0l-16.3 1.5M291.1 217.8l3.5 2.1l2.9 .7l2.8 .2l9.9-.1l2.8 .2l2.9 .6l7.8 2.7l9.2 2.5l6.2 2.4l4.2 1.4l5.6 1.4l5.9 1.2M354.8 207.2l-5-.4l-9.2 .1l-2.1-.2l-2.1-.5l-2.8-1.6l-7.3-5.8l-5.3-3.5l-3.7-1.6l-2.1-.6l-2.2-.2l-2.1 .1l-2.8 .7l-2.8 1.3l-2.5 1.7l-1.5 1.4l-1.9 2.1l-4.1 6.5l-1.4 1.4l-.7 .3l-.7 0l-.7-.5l-.7-1.1M354.8 103.8l-6.6 2l-8.1 2.8l-3.7 1.6l-3.5 1.9l-3.6 2.8l-2.5 2.9l-1.7 2.8l-.5 1.4l-.1 1.4l.4 2.1l1.4 2.8l7.3 10.8l1.5 1.9l2.1 2.1l3.7 2.9l4.1 2.1l4.2 1.4l5.6 .9M354.8 210.5l-2.8-.4l-3.6 .2l-3.5 .6l-2.8 1.1l-2.7 1.6l-1.3 1.4l-.7 1.4l-.3 2.1l.2 1.4l1.1 2.2l2 2.1l1.8 1.4l2.4 1.4l3.1 1.4l7.1 2.1M354.8 105.1l-6.1 2.1l-5.5 2.1l-4 1.8l-2.8 1.7l-2.6 2.1l-1.8 2.1l-1.4 2.9l-.4 2.8l.1 1.4l.4 2.1l.8 2.1l1.3 2.8l3.5 5.7l3.4 4.2l3.2 2.8l3.4 2.2l4.3 1.6l4.2 .9M306 217.2l5.7 .6l7 0l3.6-.4l2.1-.9l1.4-1.2l1.3-1.6l1.3-2.2l.5-1.4l.3-1.4l-.2-2.1l-.7-2.1l-.7-1.4l-2.4-2.8l-3.3-2.9l-2.5-1.5l-2.9-1.3l-2.7-.5l-2.8 0l-2.9 .8l-2.8 1.5l-2.9 2.4l-1.1 1.5l-1.3 2.1l-.9 2.1l-.5 2.1l-.4 3.5l.1 1.4l.4 1.5l.9 1.4l.7 .7l2.2 1.2l3.4 .9zM354.8 215l-2.8-.3l-1.4 .2l-1.5 .6l-1.4 .9l-.6 .8l-.3 .7l-.3 1.4l.6 2.1l1.8 2.1l2.4 1.6l3.5 1.5M354.8 106.4l-10.3 4.2l-3.1 1.7l-2.9 1.9l-1.5 1.4l-1.6 2.1l-.8 2.1l-.4 2.8l.6 3.6l1.3 3.5l2.3 4.2l3.1 4.2l2.7 2.9l3.5 2.6l3.6 1.7l3.5 .9M310.2 215l2.8 .1l2.2-.2l2.1-.5l2.1-.8l2.1-1.4l1.5-1.4l1.1-1.5l.9-2.1l.2-1.4l-.3-2.1l-.6-1.4l-1.5-2.1l-1.4-1.4l-2-1.6l-2.1-1.1l-2.1-.8l-2.2-.3l-2.1 .2l-2.1 .5l-2.1 1.1l-1.9 1.3l-1.7 1.8l-1.1 1.7l-.9 2.1l-.3 2.1l0 2.1l.5 2.2l.9 1.4l1.5 1.4l1.5 .9l2.2 .7l2.7 .5zM354.8 107.9l-9 4.2l-2.4 1.4l-1.9 1.4l-1.6 1.5l-1.3 2l-.7 2.1l-.2 2.2l.4 2.8l1.3 3.5l1.8 3.5l2.5 3.5l2.6 2.9l2.8 2.3l2.9 1.6l2.8 1.1M310.9 212.9l2.1 0l2.1-.3l2.2-.7l1.4-.8l1.4-1.1l1.2-1.3l.8-1.5l.4-1.4l.1-1.4l-.2-1.4l-.6-1.4l-1-1.4l-1.5-1.4l-1.3-1l-1.4-.7l-2.2-.7l-2.1-.2l-1.4 .1l-1.4 .4l-2.1 1l-1.5 1.1l-1.4 1.4l-.9 1.4l-.8 2.1l-.2 2.1l.2 1.4l.6 1.5l.9 1.4l1.6 1.3l1.5 .7l1.4 .4l2 .4zM354.8 109.6l-7.5 3.9l-2.1 1.4l-1.6 1.4l-1.2 1.4l-.7 1.4l-.5 1.4l-.2 2.2l.3 2.1l.9 2.8l1.3 2.8l2.1 3.2l2 2.5l2.3 2.1l2.1 1.5l2.8 1.5M310.2 210.9l2.8 .1l2.9-.7l1.4-.7l1.2-.9l.9-1.1l.6-1l.5-1.5l0-1.4l-.7-2.1l-1.7-2.1l-2.2-1.4l-2.2-.6l-1.4-.1l-1.4 .1l-1.4 .5l-1.6 .8l-1.2 1l-1 1.1l-.8 1.4l-.4 1.4l-.1 1.4l.3 1.5l.5 1.1l.8 1l1.4 1.1l2.3 1zM354.8 111.6l-5.7 3.3l-2.5 2.1l-1.1 1.4l-.7 1.5l-.4 1.4l-.1 1.4l.3 2.1l.7 2.1l.9 2.1l1.5 2.6l1.4 1.9l1.8 1.9l1.8 1.5l2.1 1.4M309.5 208.7l2.1 .5l2.1-.2l2.2-.8l1.4-1.2l1-1.9l.2-1.4l-.3-1.4l-.3-.7l-1.3-1.4l-2.1-1.2l-2.2-.3l-1.4 .2l-1.4 .6l-1.9 1.4l-.5 .7l-.7 1.4l0 2.1l.3 .9l.8 1.3l.7 .7l1.2 .7zM354.8 114.1l-3.4 2.2l-2.1 2.2l-1.2 2.1l-.3 2.1l.4 2.8l1.4 3.5l2.4 3.4l2.8 2.7M310.2 206.6l1.4 .5l1.4-.1l1.3-.4l.9-.6l.7-1l.3-1.3l-.3-1.4l-.5-.7l-.9-.7l-.8-.3l-1.4-.2l-1.4 .3l-1.4 .9l-.9 1.4l0 1.4l.7 1.5l.8 .7zM354.8 117.6l-1.6 1.5l-1 1.5l-.5 1.4l-.2 1.4l.3 2.1l.7 2.1l1.2 2.1l1.1 1.5" fill="none" stroke="#6a6a6a" stroke-opacity="0.85" stroke-width="0.45"/>
</g>
<rect x="291.1" y="33.1" width="63.7" height="275" fill="none" stroke="#9a9a9a" stroke-width="0.6"/>
<path d="M291.1 33.1v-3M291.1 308.1v3M312.33 33.1v-3M312.33 308.1v3M333.57 33.1v-3M333.57 308.1v3M354.8 33.1v-3M354.8 308.1v3M291.1 286.95h-3M354.8 286.95h3M291.1 244.64h-3M354.8 244.64h3M291.1 202.33h-3M354.8 202.33h3M291.1 160.02h-3M354.8 160.02h3M291.1 117.72h-3M354.8 117.72h3M291.1 75.41h-3M354.8 75.41h3M291.1 33.1h-3M354.8 33.1h3" stroke="#9a9a9a" stroke-width="0.6" fill="none"/>
<text x="284.3" y="291.25" text-anchor="end" class="ax" font-weight="normal">2</text>
<text x="284.3" y="248.94" text-anchor="end" class="ax" font-weight="normal">4</text>
<text x="284.3" y="206.63" text-anchor="end" class="ax" font-weight="normal">6</text>
<text x="284.3" y="164.32" text-anchor="end" class="ax" font-weight="normal">8</text>
<text x="284.3" y="122.02" text-anchor="end" class="ax" font-weight="normal">10</text>
<text x="284.3" y="79.71" text-anchor="end" class="ax" font-weight="normal">12</text>
<text x="284.3" y="37.4" text-anchor="end" class="ax" font-weight="normal">14</text>
<text x="288.9" y="323.4" text-anchor="middle" class="ax" font-weight="normal">1</text>
<text x="310.13" y="323.4" text-anchor="middle" class="ax" font-weight="normal">2</text>
<text x="331.37" y="323.4" text-anchor="middle" class="ax" font-weight="normal">3</text>
<text x="352.6" y="323.4" text-anchor="middle" class="ax" font-weight="normal">4</text>
<rect x="366.9" y="65.89" width="13.3" height="9.51" fill="#ff0000"/>
<rect x="366.9" y="75.2" width="13.3" height="9.51" fill="#ff0000"/>
<rect x="366.9" y="84.51" width="13.3" height="9.51" fill="#ff0000"/>
<rect x="366.9" y="93.82" width="13.3" height="9.51" fill="#ff0000"/>
<rect x="366.9" y="103.13" width="13.3" height="9.51" fill="#ff0000"/>
<rect x="366.9" y="112.44" width="13.3" height="9.51" fill="#ff1000"/>
<rect x="366.9" y="121.75" width="13.3" height="9.51" fill="#ff4000"/>
<rect x="366.9" y="131.06" width="13.3" height="9.51" fill="#ff7000"/>
<rect x="366.9" y="140.37" width="13.3" height="9.51" fill="#ffaa00"/>
<rect x="366.9" y="149.68" width="13.3" height="9.51" fill="#ffff00"/>
<rect x="366.9" y="158.99" width="13.3" height="9.51" fill="#80d000"/>
<rect x="366.9" y="168.3" width="13.3" height="9.51" fill="#00a020"/>
<rect x="366.9" y="177.61" width="13.3" height="9.51" fill="#00b040"/>
<rect x="366.9" y="186.92" width="13.3" height="9.51" fill="#00c070"/>
<rect x="366.9" y="196.23" width="13.3" height="9.51" fill="#00d090"/>
<rect x="366.9" y="205.54" width="13.3" height="9.51" fill="#00e8c8"/>
<rect x="366.9" y="214.85" width="13.3" height="9.51" fill="#00ffff"/>
<rect x="366.9" y="224.16" width="13.3" height="9.51" fill="#00c0ff"/>
<rect x="366.9" y="233.47" width="13.3" height="9.51" fill="#0080ff"/>
<rect x="366.9" y="242.78" width="13.3" height="9.51" fill="#0040ff"/>
<rect x="366.9" y="252.09" width="13.3" height="9.51" fill="#0000dd"/>
<rect x="366.9" y="261.4" width="13.3" height="9.51" fill="#000080"/>
<rect x="366.9" y="270.71" width="13.3" height="9.51" fill="#000000"/>
<path d="M366.9 75.2H380.2M366.9 84.51H380.2M366.9 93.82H380.2M366.9 103.13H380.2M366.9 112.44H380.2M366.9 121.75H380.2M366.9 131.06H380.2M366.9 140.37H380.2M366.9 149.68H380.2M366.9 158.99H380.2M366.9 168.3H380.2M366.9 177.61H380.2M366.9 186.92H380.2M366.9 196.23H380.2M366.9 205.54H380.2M366.9 214.85H380.2M366.9 224.16H380.2M366.9 233.47H380.2M366.9 242.78H380.2M366.9 252.09H380.2M366.9 261.4H380.2M366.9 270.71H380.2" stroke="#200" stroke-opacity="0.55" stroke-width="0.6"/>
<text x="382.5" y="77.86" class="cb" style="font-size:7.4px">1.3E-06</text>
<text x="382.5" y="87.17" class="cb" style="font-size:7.4px">1.2E-06</text>
<text x="382.5" y="96.48" class="cb" style="font-size:7.4px">1.1E-06</text>
<text x="382.5" y="105.79" class="cb" style="font-size:7.4px">1E-06</text>
<text x="382.5" y="115.1" class="cb" style="font-size:7.4px">9E-07</text>
<text x="382.5" y="124.41" class="cb" style="font-size:7.4px">8E-07</text>
<text x="382.5" y="133.72" class="cb" style="font-size:7.4px">7E-07</text>
<text x="382.5" y="143.03" class="cb" style="font-size:7.4px">6E-07</text>
<text x="382.5" y="152.34" class="cb" style="font-size:7.4px">5E-07</text>
<text x="382.5" y="161.65" class="cb" style="font-size:7.4px">4E-07</text>
<text x="382.5" y="170.96" class="cb" style="font-size:7.4px">3E-07</text>
<text x="382.5" y="180.27" class="cb" style="font-size:7.4px">2E-07</text>
<text x="382.5" y="189.58" class="cb" style="font-size:7.4px">1E-07</text>
<text x="382.5" y="198.89" class="cb" style="font-size:7.4px">0</text>
<text x="382.5" y="208.2" class="cb" style="font-size:7.4px">-1E-07</text>
<text x="382.5" y="217.51" class="cb" style="font-size:7.4px">-2E-07</text>
<text x="382.5" y="226.82" class="cb" style="font-size:7.4px">-3E-07</text>
<text x="382.5" y="236.13" class="cb" style="font-size:7.4px">-4E-07</text>
<text x="382.5" y="245.44" class="cb" style="font-size:7.4px">-5E-07</text>
<text x="382.5" y="254.75" class="cb" style="font-size:7.4px">-6E-07</text>
<text x="382.5" y="264.06" class="cb" style="font-size:7.4px">-7E-07</text>
<text x="382.5" y="273.37" class="cb" style="font-size:7.4px">-8E-07</text>
<text x="382.5" y="282.68" class="cb" style="font-size:7.4px">-9E-07</text>
<text transform="translate(281.9 20.4) scale(0.943 1)" class="tt">5h-i<tspan class="sub" dx="1.2" dy="2">g</tspan></text>
<text transform="translate(329.3 20.4) scale(0.943 1)" class="tt">ig(A/cm<tspan class="sup" dy="-5.8">2</tspan><tspan dy="5.8">)</tspan></text>
<clipPath id="c8h"><rect x="426.7" y="32.2" width="64.2" height="275.9"/></clipPath>
<g clip-path="url(#c8h)">
<rect x="426.7" y="32.2" width="64.2" height="275.9" fill="#00b860"/>
<path d="M427.4 178.9l2.1-.2l1.5-.4l1.4-.7l1.3-1.1l1-1.4l1.6-3.5l.8-1.5l3.6-3.5l1.1-1.4l.6-1.2l.1-.9l-.2-1.4l-.8-1.5l-.7-.7l-2.1-1.4l-2.7-1.1l-2.9-.7l-3.6-.4l-2.8 .2l0 22.7z" fill="#000000" fill-rule="evenodd"/>
<path d="M427.4 181.5l2.9-.2l3.5-1l2.2-.9l2.9-2.1l4.2-4.6l5-4.6l1.1-1.5l.9-1.4l.4-1.4l-.1-1.4l-.9-1.4l-1.7-1.4l-2.3-1.4l-2.8-1.5l-3.7-1.4l-3-.8l-3.6-.5l-2.9-.2l-2.8 .2l0 2.2l2.8-.2l3.6 .3l2.9 .7l2.8 1.2l1.4 .9l1.3 1.2l.8 1.4l.2 1.4l-.3 1.4l-.9 1.4l-3.5 3.6l-1.1 1.4l-2 4.2l-1 1.4l-1.9 1.5l-1.5 .6l-1.5 .3l-2.1 0l0 2.6l.6 0zM485.9 175.2l2.9 .1l1.2-.2l.9-.6l0-3.5l-.7-1.1l-.7-.6l-1.5-.2l-1.4 .3l-1.4 .7l-1.6 1.4l-.5 .7l-.1 .8l.1 .7l.7 .7l1.5 .7z" fill="#000099" fill-rule="evenodd"/>
<path d="M427.4 183.4l5.7-.9l2.9-.8l2.4-.9l14.7-8.2l1.4-1.4l2.6-3.2l1-1.4l.6-1.4l.3-1.4l0-1.4l-.9-2.1l-1.6-1.5l-2.7-1.3l-12.8-4l-3.6-.8l-3.6-.6l-3.5-.2l-3.6 .1l0 2l3.6-.2l4.2 .5l4.3 1l3.9 1.4l2.8 1.4l3.3 2.2l1.2 1.4l.5 1.4l0 .7l-.4 1.4l-1.4 2.1l-5.6 5.4l-3.5 3.8l-1.6 1.5l-2 1.4l-3.5 1.4l-3 .6l-2.8 .1l0 1.9zM487.3 180.1l3.6 .1l0-5.6l-.9 .5l-1.3 .3l-2.8-.1l-2.2-.9l-.6-.7l-.1-.7l.1-.7l1.1-1.4l1.7-1.1l1.4-.6l1.4 0l.7 .2l.8 .6l.7 1.1l0-9.7l-2.2 .3l-2.2 .7l-2.8 1.4l-4.8 2.8l-4.4 2.9l-2.9 2.1l-2.3 2.1l-.9 1.4l-.1 .7l.3 .8l.6 .7l1.1 .7l2 .7l5 .9l9.7 .5z" fill="#0000dd" fill-rule="evenodd"/>
<path d="M427.4 185.1l8.6-1.7l4.1-1.2l7.3-2.7l3.5-.6l2.2 0l2.1 .3l11.4 2.8l4.3 .7l4.3 .1l10.7-.4l5 .1l0-2.3l-11.4-.4l-5-.6l-2.4-.5l-1.8-.7l-1.1-.8l-.6-.7l-.2-.7l0-.7l.4-.7l1.2-1.4l2.5-2.1l4.1-2.9l8.6-5l2.8-1.1l2.9-.6l0-3.1l-2.2 .1l-2.8 .6l-2.9 1.1l-5.7 2.9l-2.8 1.1l-2.9 .9l-2.1 .1l-1.4-.3l-1.5-.8l-.8-.8l-2.8-3.5l-1.4-1.5l-2.1-1.7l-2.9-1.4l-3.9-1.1l-13.9-3l-6.4-.8l-5.7-.1l0 2l5.7 0l5.7 .8l5 1.3l11.4 3.7l2 1.1l1.6 1.4l.7 1.4l.3 1.4l-.4 2.1l-1.1 2.1l-3.1 3.9l-2 1.8l-5.8 3l-6.8 4.1l-2.5 1.1l-2.9 1l-2.8 .6l-5 .6l0 1.8z" fill="#0040ff" fill-rule="evenodd"/>
<path d="M427.4 186.7l10-2.1l8.5-2.2l3.6-.6l2.9 0l3.5 .5l12.2 2.7l3.5 .4l3.6-.2l10-.9l5.7 0l0-1.8l-5-.1l-10.7 .4l-4.3-.1l-4.3-.7l-11.4-2.8l-2.1-.3l-2.2 0l-3.5 .6l-7.3 2.7l-4.1 1.2l-4.3 1l-5 .8l0 1.7zM468.1 164.7l2.1 .3l2.9-.5l3.6-1.3l8.5-4.1l2.9-.7l2.8-.3l0-2.3l-2.8 0l-2.9 .3l-2.8 .8l-7.2 2.7l-2.1 .5l-2.1-.1l-1.5-.3l-1.4-.7l-5-3.7l-2.2-1.4l-2.1-1.1l-2.8-.9l-5-1.1l-11.4-2l-6.5-.7l-6.4-.3l0 2.2l6.4 .1l6.5 .9l13.5 3l4.3 1.3l2.1 1.1l2.2 1.7l1.4 1.4l2.9 3.8l1.6 1.2z" fill="#0080ff" fill-rule="evenodd"/>
<path d="M426.8 188.5l7.8-1.9l10-2l4.2-.6l3.6 0l4.3 .5l4.3 .8l7.1 2l3.6 .4l2.8-.2l10-1.6l3.6-.2l2.8 0l0-1.5l-5.7 0l-10.7 1l-3.5 .1l-3.6-.5l-11.4-2.5l-3.6-.5l-2.8 0l-3.6 .6l-8.6 2.2l-10.7 2.2l0 1.7zM469.5 159.7l2.1 .4l2.2-.1l2.8-.8l5-2l2.9-.9l2.8-.5l3.6 .1l0-2.1l-2.9-.3l-3.5 .1l-2.9 .5l-6.4 1.6l-2.1 .3l-1.5 0l-1.4-.3l-1.4-.5l-5.9-3.4l-2.7-1.4l-5-1.5l-5.7-1.1l-8.5-1.3l-7.2-.6l-7.1-.4l0 2.4l6.4 .2l7.2 .8l12.1 2.2l5 1.2l2.1 .9l2.2 1.1l5.7 4.2l1.8 1.1z" fill="#00c0ff" fill-rule="evenodd"/>
<path d="M427.4 190.1l4.3-1.4l5.7-1.2l7.8-1.3l5-.3l3.6 .1l4.3 .6l3.5 .9l6.5 2.2l2.1 .4l1.4 0l2.9-.4l9.3-2.1l3.5-.4l3.6 0l0-1.4l-2.9-.1l-3.5 .3l-10 1.5l-3.6 .2l-2.8-.4l-7.2-1.9l-4.3-.9l-4.2-.5l-3.6 0l-5.7 .9l-10.7 2.2l-4.3 1l-1.4 .5l0 1.8zM469.5 155.4l2.1 .5l2.2 0l10-2.3l3.5-.2l3.6 .4l0-2l-2.9-.5l-3.5-.3l-3.6 .2l-6.4 .7l-2.9-.1l-2.8-.8l-7.9-3.9l-2.8-.9l-2.9-.7l-5-.8l-7.1-.9l-16.4-1.2l0 2.8l7.1 .4l7.2 .7l8.5 1.2l5.7 1.1l2.9 .8l2.8 1.1l8.2 4.6z" fill="#00ffff" fill-rule="evenodd"/>
<path d="M469.5 192.9l1.4 0l1.5-.2l7.1-2.5l4.3-1.1l3.5-.6l3.6-.1l0-1.3l-3.6 .1l-3.5 .4l-10 2.2l-2.9 .3l-2.8-.4l-6.4-2.2l-3.6-.9l-5-.7l-4.3 0l-5.7 .6l-7.5 1.3l-5.3 1.3l-3.6 1.3l0 2.1l5-2.1l5.7-1.5l8.6-1.2l6.4-.1l4.3 .4l3.5 .9l2.6 1l4.6 2.3l1.5 .6zM471.6 151.8l2.9 .1l6.4-.7l3.5-.1l3.6 .2l2.9 .6l0-2l-5-1l-9.3-.8l-3.6-.6l-2.8-1.1l-4.3-2.3l-2.1-1l-4.3-1.1l-7.9-1l-24.9-2.4l0 4l16.4 1.3l7.1 .8l5 .9l2.8 .6l2.9 1l7.8 3.8l2.6 .8z" fill="#00e0b0" fill-rule="evenodd"/>
<path d="M480.2 307.6l2.1 .4l2.2-.2l2.1-.7l1.2-1.1l.7-1.5l.4-1.4l1.2-8.5l.4-1.4l.4-.6l0-48.7l-1.4 .5l-1.9 1.4l-.9 1.4l-.4 1.5l-.2 1.4l.3 2.1l1.6 4.9l.4 2.9l-.4 3.5l-1 2.8l-.9 1.5l-1.2 1.4l-7.9 6.3l-3.9 3.8l-1.5 1.9l-.7 1.2l-.6 1.6l-.4 1.4l-.2 2.2l.2 2.1l.5 2.1l.8 2.1l6.1 11.4l1.2 1.4l1.1 .7zM451.7 238.1l2.9-.1l2.1-.8l1.4-1l1.4-1.2l2.2-2.6l1-2.1l.3-1.5l.1-1.4l-.3-1.4l-.4-1.1l-.7-1l-.8-.7l-2.1-1l-2.8-.6l-3.6-.3l-2.8 .1l-2.2 .4l-2.1 .9l-1.8 1.2l-1.3 1.4l-.8 1.4l-.4 2.1l.4 2.2l1 1.9l1.5 1.6l2.1 1.5l2.8 1.4l2.5 .6zM468.8 197.1l.7 .1l1.4-.4l6.5-3.8l4.2-1.8l4.3-1.2l5-.4l0-1.2l-3.6 .1l-4.2 .7l-3.6 1l-6.4 2.3l-2.9 .5l-2.1-.5l-5.7-2.8l-4.3-1.4l-5-.7l-5.7 0l-6.4 .7l-5.7 1.1l-4.3 1.2l-4.3 1.8l0 2.8l2.2-.7l2.6-1.7l2.3-1.2l4.3-1.3l3.6-.6l4.3-.5l4.3-.1l3.5 .2l4.3 .8l3 1.2l2.2 1.5l4.1 3.6l1.1 .6zM490.2 149.7l.7 .2l0-2l-10.7-2.4l-3.6-1.2l-3.1-1.8l-5.4-4.7l-2.2-1.3l-2.1-.9l-3.6-1.1l-2.8-.6l-7.9-.1l-2.1-.2l-2.9-.8l-1.7-.9l-1.5-1.4l-2.2-3.5l-1.6-2.2l-5.3-4.9l-1.7-2.1l-.6-1.4l-.4-1.5l-.6-7l-.4-2.2l-1-2.1l-.8-1l0 36l25 2.3l7.8 1.1l4.3 1.1l2.1 .9l4.3 2.4l2.9 1l3.5 .6l9.3 .9l3.9 .7zM427.2 81l2.1-2.8l.7-1.4l.3-1.5l-.3-1.4l-.8-1.4l-2.5-2.2l0 11.2z" fill="#00d090" fill-rule="evenodd"/>
<path d="M462.4 307.8l0 .3l28.5 0l0-15.4l-.3 .6l-.5 1.4l-1 7.8l-.3 1.4l-.7 1.8l-.7 .9l-.7 .5l-1.5 .6l-2.1 .3l-2.2-.2l-1.4-.4l-.9-.7l-1.2-1.3l-.7-1.2l-5.7-10.8l-.9-3l-.3-2.8l.2-2.1l.3-1.4l.7-1.6l1.4-2.3l1.6-1.8l2.7-2.5l8.2-6.7l1.3-1.4l1.2-2.1l.8-2.8l.2-3.6l-.4-2.1l-1.6-5l-.2-2.1l.1-1.4l.4-1.4l.9-1.4l1.9-1.4l1.4-.6l0-3.7l-5.7 0l-3.5 .5l-2.3 .9l-.8 .7l-.8 1.5l-.8 2.8l-.9 4.2l-.5 3.6l-.5 6.3l-.8 2.9l-.8 1.4l-1.1 1.5l-6.8 7l-1.1 1.6l-.6 1.9l-.3 2.8l.2 8.5l-.1 6.4l-.4 4.2l-.9 5.7l0 2.8zM427 292.5l1.1-.7l1.4-1.7l.8-1.8l.1-1.5l-.3-1.4l-.6-1.1l-.7-.6l-1.4-.5l-.7 .1l0 9.4zM446 263.5l2.1 .5l1.5-.3l1.4-.8l1.4-1.3l8.6-9.7l4.2-6.8l1.5-2l1.4-1.5l3.3-2.9l.6-.7l.7-1.4l.2-2.1l-.5-2.8l-1.8-6.4l-2.5-10.3l-.7-2.1l-.7-.7l-4.3 2.8l-3.6 1.3l-2.8 .4l-11.3 .8l-4.2 .7l-5.2 1.2l-2.1 .2l-1.5-.2l-.7-.3l-1.1-.9l-1-1.4l-1.4-2.9l-.8-.9l0 28.4l2.6 .9l2.4 1.4l2.8 2.1l2.1 2.1l1.6 2.1l1.2 2.2l3.7 8.5l1.5 1.8l1.4 1zM451.3 238.1l-2.5-.6l-2.8-1.4l-2.1-1.5l-1.5-1.7l-1.1-1.9l-.4-2.1l.5-2.1l.8-1.4l1.3-1.4l1.8-1.3l2.1-.8l2.1-.5l2.9-.1l3.6 .3l2.8 .7l2.1 .9l.8 .8l.7 1l.4 1.1l.2 1.4l0 1.4l-.3 1.4l-1 2.1l-2.2 2.7l-1.4 1.2l-1.4 .9l-2.2 .8l-2.8 .2zM467.4 208.7l.7-.3l.7-.9l3-5.5l1.9-2.9l1.8-2.1l1.6-1.4l3.1-2.1l3.4-1.4l3.8-1l3.5-.3l0-1.2l-5 .5l-4.7 1.3l-4.6 2.1l-4.9 3l-2.2 .7l-.7-.1l-1.4-.7l-4.1-3.6l-3-1.9l-3.6-1.1l-5-.6l-7.1 .2l-3.6 .4l-3.6 .7l-4.2 1.4l-4.3 2.6l-2.2 .7l0 4.5l.5 .9l1.4 4.9l.3 .6l.7 .3l.7-.5l.9-1.8l.4-2.1l.4-3.6l.6-2.1l.9-1.4l.7-.7l1.8-1.2l2.2-.9l2.1-.6l5.7-.8l5.7 0l2.9 .4l2.1 .5l2.1 .9l1.7 1l1.4 1.4l1.1 1.4l1.3 2.8l2.4 8.3l.5 .9zM490.2 147.7l.7 .2l0-2.2l-6.4-1.6l-2.7-.8l-3-1.4l-2.2-1.6l-1.9-2l-7.6-8.4l-1.3-2.2l-.6-2.1l-.1-2.1l.7-2.8l3-6.3l2.6-7.9l.7-1.4l1-1.7l1.4-1.4l2.1-1.3l2.9-1l7.8-1.7l1.3-.7l.1-.7l-1.3-.7l-.8-.2l-9.2-1.4l-2.9-.8l-1.4-.7l-1.4-1.2l-1.1-1.4l-.6-1.4l-.7-2.8l-.2-2.8l.1-5l.4-8.5l.5-4.2l2-7.8l.4-3.5l-.1-2.2l-.3-2.1l-1.2-3.2l-1.4-2l-1.4-1.2l-2.2-.7l-1.4-.1l-1.4 .2l-2.1 .6l-2.2 1.2l-5.7 4.4l-2.1 1.4l-2.2 .7l-1.4 0l-.7-.2l-1.4-.9l-1.5-1.6l-1-2.1l-.8-2.9l-.4-2.8l.1-2.8l.5-2.8l1-2.9l-16.5 0l0 38.1l2.5 2.2l.8 1.5l.2 1.4l-.3 1.4l-.6 1.4l-2.6 3.4l0 21.1l.8 1l1 2.1l.4 2.1l.6 7.1l.4 1.4l.6 1.4l1.7 2.1l5.3 5l1.6 2.1l1.7 2.9l.9 1.1l1.1 1l1.3 .7l1.9 .7l2.1 .4l8.6 .1l2.8 .5l2.9 .7l2.8 1.1l2.2 1.2l2.1 1.6l4 3.6l3.1 1.8l3.6 1.2l9.4 1.9zM446.8 97.3l-.9-.7l-.3-.7l0-.7l.4-.7l.7-.6l.7-.2l1.4 .1l.9 .7l.4 .7l.1 .7l-.3 .7l-1.1 .9l-1.4 0z" fill="#00b860" fill-rule="evenodd"/>
<path d="M427.4 308.1l17.5 0l-.1-.7l-.7-.7l-6-2.4l-2.2-1.2l-.8-.7l-.5-.7l-.3-1.4l2.3-9.2l.5-3.5l.6-7.1l.7-2.8l1-1.4l1.6-1l2.1-.6l2.8-.1l2.9 .2l2.1 .6l2.2 1.1l1.5 1.2l1.9 2.1l1.2 2.1l.7 2.1l.5 2.9l0 2.1l-.3 2.1l-.6 2.1l-1 2.2l-1.1 1.6l-1.4 1.7l-5.9 5.9l-.9 1.4l0 .7l.5 .7l1.1 .7l13.1 0l-.1-2.8l1-6.4l.3-4.9l.2-5.7l-.2-9.2l.3-2.1l.4-1.4l.7-1.5l1.1-1.4l6.4-6.3l1-1.5l.7-1.4l.8-2.8l.5-6.4l1-5.6l1-4.3l1.1-2.1l1.6-1.2l2.1-.6l3.6-.4l5 .1l0-2.9l-5.7-1.9l-1.8-.9l-1.8-1.2l-1.4-1.2l-1.6-1.8l-1.6-2.1l-1.2-2.2l-1.7-4.2l-.7-2.8l-.4-2.9l-.1-4.9l.6-5l.9-2.8l1.2-2.8l1.4-2.2l2.1-2.1l2.5-1.8l2.9-1.3l2.8-.8l3.6-.5l0-1.1l-3.6 .3l-3.5 .9l-3.6 1.5l-2.9 1.9l-1.9 1.6l-1.8 2.2l-1.8 2.8l-3 5.5l-.7 .9l-.8 .3l-.7-1.3l-2.3-8.2l-1-2.2l-.9-1.4l-1.2-1.4l-1.8-1.4l-2-1l-2.2-.6l-5-.5l-6.4 .2l-5 1l-2.1 .7l-1.5 .8l-1.7 1.5l-.9 1.4l-.7 2.1l-.3 3.6l-.5 2.1l-.8 1.8l-.8 .5l-.7-.3l-.2-.6l-1.5-4.9l-.4-.9l0 13.4l.7 .9l1.4 2.8l.7 1.1l.8 .7l1.4 .8l1.4 .2l1.4 0l10.2-2.1l11.2-.8l2.9-.4l3.6-1.3l4.2-2.7l.7 .6l.8 2.1l2.5 10.3l1.9 7.1l.4 2.8l-.2 1.4l-.8 1.5l-3.8 3.5l-1.9 2.1l-4 6.4l-2 2.7l-8.3 9.3l-1.7 1.3l-1.4 .5l-1.4 .1l-1.5-.5l-1.1-.7l-1-1l-1.4-2.3l-2-5.2l-1.4-2.8l-1.6-2.5l-2.2-2.4l-2.1-1.9l-2.1-1.5l-2.2-1.1l-2.1-.7l0 41.9l1.4 .1l1.1 .6l1 1.5l.2 1.4l-.1 1.5l-1 2l-1.2 1.4l-1.4 .9l0 15.4zM440.9 214l-2.5-.7l-1.7-1.1l-.8-1l-.8-2.2l-.3-3.5l.2-5.6l.4-2.2l1.2-2.1l1.7-1.4l2-.9l3.5-.9l3.6-.3l3.6 .1l3.5 .6l2.2 .8l2 1.3l1.2 1.4l1.1 2.1l.6 2.2l.3 2.1l-.1 2.8l-.4 2.1l-.9 2.2l-1 1.2l-1.4 1.2l-1.4 .7l-3.6 1l-2.8 .4l-3.6 .1l-2.9-.1l-2.8-.3zM490.2 145.5l.7 .2l0-2.5l-4.3-.9l-3.1-1.1l-2.6-1.5l-2.3-2.1l-2.1-2.8l-2.6-4.2l-1.2-2.9l-.2-2.1l.4-2.8l3.7-10.6l1.2-2.9l1-1.5l2.1-2l2.9-1.4l3.5-.8l3.6-.3l0-12.1l-3.6-.1l-4.2-.6l-3-1l-2.5-1.4l-1-.8l-1-1.3l-1-2.1l-.6-2.9l-.2-3.5l.2-3.5l.7-3.6l.8-2.8l2.1-5.7l.9-3.5l.5-3.5l.6-9.9l.3-2.2l.6-2.1l1.3-2.1l2-1.4l1.4-.6l2.1-.5l3.6-.3l0-3.6l-47.7 0l-.8 2.2l-.7 2.8l-.1 2.8l.2 2.8l.7 2.9l.9 2.1l1.1 1.7l1.5 1.1l.7 .4l1.4 .3l2.2-.5l2.1-1.1l5-4l2.1-1.4l2.2-1l2.1-.5l2.1 0l2.2 .8l1.4 1.1l.7 .8l1.2 2.3l.8 2.8l.3 3.6l-.4 3.5l-2 7.8l-.5 4.2l-.4 8.5l-.1 5l.2 2.8l.7 2.8l.6 1.4l1.1 1.5l1.4 1.1l1.4 .7l2.9 .8l9.2 1.4l.8 .2l1.3 .7l-.1 .7l-1.3 .7l-7.8 1.7l-2.9 1l-2.1 1.3l-1.4 1.4l-1 1.7l-.7 1.4l-2.6 7.9l-3 6.3l-.7 2.8l.1 2.1l.6 2.1l1.3 2.2l7.6 8.5l2.1 2.1l2 1.4l2.8 1.3l2.9 .9l5.4 1.3zM447.4 97.5l1.4-.1l1.1-.8l.3-.7l-.1-.7l-.4-.7l-.9-.7l-1.4-.1l-.7 .2l-.7 .6l-.4 .7l0 .7l.3 .7l.9 .7z" fill="#00a830" fill-rule="evenodd"/>
<path d="M445.2 308.1l4.1 0l-1.1-.7l-.6-.7l.1-.7l1.5-2.1l5.3-5.2l2.1-2.7l1.6-3.5l.5-2.1l.2-2.1l-.2-2.8l-.7-2.6l-1.1-2.4l-1.7-2.3l-2.2-1.7l-2.1-1.1l-2.1-.6l-2.9-.2l-2.8 .1l-2.2 .6l-1.5 1l-1.1 1.4l-.7 2.8l-.5 7.1l-.5 3.5l-2.3 9.2l.3 1.4l.4 .7l.9 .7l2.2 1.2l6 2.4l.7 .7l.1 .7zM445.9 293.2l-1.4-1.2l-.7-1.6l-.3-2.2l.3-2.1l.7-1.6l1.4-1.4l1.5-.6l1.4 0l.7 .2l1.1 .6l.9 .7l1 1.4l.5 2.1l-.4 2.2l-1.3 2.1l-1.8 1.3l-1.4 .4l-.7 .1l-1.5-.4zM488.8 236.7l2.1 .6l0-2.8l-3.8-2.1l-3.7-2.8l-3.2-3.6l-2.1-3.5l-1.2-2.9l-.7-2.8l-.5-3.5l-.1-3.6l.4-3.5l.7-2.8l1.3-2.9l1.5-2.1l2.2-2.1l2.8-1.6l2.9-1.1l3.5-.6l0-1.1l-3.5 .5l-3.6 1.1l-3.6 1.9l-2.5 2.3l-2 2.8l-1.3 2.9l-1 3.5l-.5 4.3l.1 4.2l.6 4.2l1.3 4.3l1.8 3.6l2.1 3l2.9 2.8l3.1 1.9l3.8 1.4zM441 214l2.9 .3l2.8 .1l3.6-.2l2.8-.3l3.6-1l1.4-.7l1.4-1.2l1-1.3l.9-2.1l.4-2.1l.1-2.8l-.3-2.2l-.6-2.1l-1.1-2.1l-1.2-1.4l-2-1.3l-2.2-.8l-3.5-.6l-3.6-.1l-3.5 .3l-3.6 .9l-2 .9l-1.7 1.4l-1.2 2.1l-.4 2.1l-.2 5.7l.3 3.5l.8 2.2l.8 1l1.7 1.1l2.5 .7zM444.3 211.9l-1.9-.5l-2.1-1l-1.5-1.4l-1.1-2.1l-.5-2.8l-.1-2.8l.4-2.1l1-2.2l1.4-1.4l1.8-.9l2.1-.7l2.9-.4l2.8-.1l2.2 .3l2.1 .6l2.1 1l1.1 .9l1.1 1.5l.7 1.4l.5 2.1l.1 1.4l-.2 2.1l-.7 2.1l-.8 1.5l-1 1.2l-1.3 .9l-3 1.2l-3.6 .5l-4.3-.3zM488 142.6l2.9 .5l0-3l-2.9-.3l-2.1-.7l-2.2-1.3l-1.7-1.6l-1.8-2.8l-1.1-2.9l-.6-2.8l0-2.8l.5-3.5l1.2-5l.9-2.8l1.1-2.2l1.5-1.9l2.2-1.5l2.1-.8l2.9-.4l0-3.6l-3.6 .3l-3.6 .9l-2.8 1.4l-1.7 1.4l-1.5 2.1l-.9 2.1l-3.7 10.7l-.7 2.8l.1 2.1l1 2.8l2.4 4.3l2.6 3.5l1.7 1.6l2.1 1.4l2.8 1.2l2.8 .8zM485.9 90.9l5 .2l0-3l-2.9 .1l-3.5-.6l-2.5-.9l-2-1.5l-1.5-2.1l-.8-2.1l-.5-2.8l.1-2.9l.3-2.1l.6-2.1l1.1-2.8l2.2-4.3l1.2-2.8l2.4-8.5l.8-2.1l.8-1.4l1.3-1.5l1.5-.8l1.4-.3l0-10.9l-3.6 .3l-2.1 .5l-1.4 .6l-2 1.4l-1.3 2.2l-.6 2.1l-.3 2.1l-.7 9.9l-.4 3.6l-.9 3.5l-2.8 7.8l-.9 4.9l-.1 3.6l.3 3.5l.8 2.8l1 1.9l1.7 1.7l1.9 1.1l2.8 1l3.6 .7z" fill="#00a000" fill-rule="evenodd"/>
<path d="M446 293.3l1.4 .4l.7-.1l1.5-.4l1.7-1.3l1.4-2.2l.4-2.1l-.5-2.1l-1.1-1.4l-.8-.7l-1.1-.6l-.7-.2l-1.5 0l-1.4 .5l-1.4 1.5l-.7 1.6l-.3 2.1l.2 2.1l.8 1.6l1.4 1.3zM490.9 234.6l0-3.1l-3.4-2.6l-3.1-2.8l-2.4-2.8l-1.8-2.9l-.9-2.1l-.9-2.8l-.5-2.9l-.2-2.8l.2-2.8l.6-2.8l1.1-2.9l1.3-2l2.2-2.1l2.1-1.3l2.8-1.1l2.9-.6l0-1.1l-3.6 .6l-2.8 1l-2.8 1.7l-2.3 2.1l-1.8 2.8l-1.1 2.9l-.8 3.5l-.2 3.5l.4 4.3l.7 3.5l1.1 2.8l1.8 3.3l2.1 2.7l2.9 2.8l2.8 2.1l3.5 1.9zM444.5 211.9l4.3 .2l3.5-.5l3.1-1.2l1.2-.9l1.1-1.2l.8-1.4l.6-2.1l.2-2.1l0-1.5l-.5-2.1l-.7-1.4l-1.1-1.4l-1.1-.9l-2.1-1.1l-2.2-.5l-2.1-.3l-2.9 0l-2.8 .4l-2.2 .7l-1.7 1l-1.5 1.4l-1 2.1l-.3 2.1l0 2.9l.6 2.8l1.1 2.1l1.4 1.3l2.2 1.1l1.9 .5zM444.5 209.8l-2.1-.9l-1.4-1.2l-.9-1.4l-.5-1.2l-.4-1.7l0-2.1l.6-2.1l.9-1.4l1-1l1.4-.8l2.2-.7l2.1-.3l2.2 .1l2.1 .4l1.4 .5l1.8 1.1l.7 .7l.9 1.4l.5 1.4l.2 1.4l0 1.4l-.3 1.4l-1.1 2.2l-2 1.8l-1.4 .7l-1.4 .5l-1.4 .2l-2.2 .1l-2.8-.5zM488 139.8l2.9 .3l0-3.9l-1.5-.1l-1.5-.6l-1.3-.9l-1.4-1.9l-.7-2.1l-.4-2.2l-.3-3.5l.1-3.5l.7-4.3l1.3-3.1l.8-1.1l1.3-1.2l1.4-.9l1.5-.4l0-3.5l-2.7 .3l-2.1 .7l-2.2 1.4l-1.2 1.5l-1.3 2.1l-1 2.8l-1.4 5.7l-.5 3.5l0 2.8l.4 2.2l1 2.8l1.1 2.1l1.3 1.8l1.4 1.3l2.1 1.2l2 .7zM487.3 88.2l3.6-.1l0-2.7l-2.2 .1l-2.1-.3l-2.2-.8l-1.6-1.2l-1.2-1.5l-.9-2.1l-.3-2.1l0-2.1l.6-2.8l1.2-2.9l3.9-6.3l3.3-6.4l1.5-1.9l0-8.5l-1.5 .3l-1.4 .8l-1.3 1.5l-.8 1.5l-.8 2.1l-2.4 8.5l-1.2 2.8l-2.2 4.2l-1.1 2.9l-.6 2.1l-.4 2.1l0 2.8l.3 2.2l.6 2.1l1.3 2.1l1.5 1.4l1.4 .9l2.1 .8l2.3 .4z" fill="#90d000" fill-rule="evenodd"/>
<path d="M490.9 231.4l0-3.8l-3.6-3l-2.1-2.1l-2.1-2.7l-1.3-2.3l-.9-2.1l-.6-2.1l-.5-2.8l0-2.2l.2-2.8l.6-2.1l.9-2.1l1-1.5l1.4-1.4l2-1.4l2.1-1l2.9-.7l0-1.1l-2.9 .5l-2.8 1.1l-2.1 1.4l-2.1 1.9l-1.4 2.2l-.9 2.1l-.7 2.8l-.2 2.8l.1 3.6l.5 2.8l.9 2.8l1.3 2.9l1.7 2.5l2.2 2.5l2.8 2.6l3 2.3zM444.5 209.8l2.9 .5l2.1-.1l1.4-.3l1.4-.4l1.5-.7l2-1.9l1-2.1l.3-1.4l.1-1.4l-.2-1.4l-.6-1.4l-.9-1.4l-.7-.8l-1.7-1l-1.5-.6l-2.1-.4l-2.1 0l-2.2 .3l-2.1 .7l-1.5 .8l-1 1l-.9 1.4l-.5 2.1l0 2.1l.3 1.6l.5 1.2l1 1.5l1.4 1.1l2 1zM447.3 208.4l-1.3-.2l-1.4-.6l-1.1-.6l-1.1-1.1l-.6-1l-.5-1.5l-.1-1.4l.3-1.4l.7-1.4l.6-.7l1.8-1.2l1.4-.4l1.4-.3l2.9 .2l2.1 .9l1.7 1.5l.4 .8l.5 1.3l0 2.1l-.9 2.2l-1.7 1.6l-2.1 .9l-1.5 .3l-1.4 0zM488 135.6l1.4 .5l1.5 .1l0-6.6l-.9-1.1l-.9-2.2l-.5-2.1l-.3-2.8l.1-2.1l.6-2.2l.8-1.4l1.1-1.1l0-4.2l-2.6 1.1l-1 .8l-1.2 1.3l-1.3 2.8l-.8 3.6l-.2 4.9l.3 3.6l.4 2.1l.4 1.4l.7 1.4l1 1.2l1.3 .9zM487.3 85.3l2.1 .1l1.5-.1l0-2.9l-1.5 .1l-1.4-.3l-1.4-.6l-1.4-1.2l-1-1.6l-.4-1.4l-.2-1.4l.1-1.4l.6-2.1l1-2.1l5.6-8.2l0-7.2l-1.5 1.9l-3.3 6.4l-3.8 6.1l-1.1 2.4l-.7 2.8l-.2 2.1l.1 1.4l.6 2.2l.6 1.4l1.2 1.4l.9 .8l1.5 .8l1.7 .5z" fill="#ffff00" fill-rule="evenodd"/>
<path d="M490.9 227.7l0-4.3l-2.1-1.6l-2.2-2l-1.4-1.6l-1.3-2l-1-2.2l-.7-2.1l-.4-2.1l-.1-2.1l.2-2.1l.5-2.2l.6-1.4l1-1.4l1.3-1.4l2-1.4l1.8-.7l1.8-.5l0-1.2l-2.9 .7l-2.1 .9l-2 1.5l-1.4 1.4l-1 1.4l-.9 2.1l-.6 2.2l-.2 2.8l.1 2.8l.6 2.8l.6 2.2l1.2 2.5l1.5 2.1l1.4 1.7l2.1 2.2l3.3 2.8zM447.4 208.4l1.4 0l1.5-.3l2.1-.9l1.7-1.6l.9-2.2l0-2.1l-.5-1.3l-.5-.8l-1.6-1.5l-2.1-.9l-2.9-.2l-1.4 .2l-1.5 .5l-1.7 1.2l-.6 .7l-.7 1.4l-.3 1.4l.1 1.4l.5 1.4l.6 1l1.1 1.2l1 .6l1.5 .5l1.3 .3zM447.8 206.2l-1.9-.5l-1.3-.9l-.8-1.4l-.2-1.4l.4-1.5l1.2-1.2l1.4-.7l1.5-.2l1.4 .2l1.4 .7l1.2 1.2l.5 1.5l-.2 1.4l-.9 1.4l-1.3 .9l-2.1 .5zM490.9 129.6l0-15.1l-1.1 1.2l-.7 1.4l-.5 1.4l-.3 2.1l.1 2.1l.6 2.9l.7 2.1l.8 1.4zM489.5 82.5l1.4 0l0-3.6l-1.4-.5l-1.1-.9l-.7-1.4l-.1-1.5l.3-1.4l.5-1.4l2.5-4l0-5.5l-5.5 8.1l-1.3 2.8l-.4 2.2l0 1.4l.3 1.4l1.1 2.1l1.5 1.3l2.3 .8z" fill="#ffb000" fill-rule="evenodd"/>
<path d="M490.9 223.3l0-4.5l-1.4-.8l-1.5-1l-1.4-1.5l-1-1.5l-1.1-2.2l-.4-1.4l-.3-1.4l-.2-2.1l.5-2.8l1.1-2.4l.9-1.2l1.8-1.4l1.6-.8l1.4-.5l0-1.3l-1.8 .5l-1.8 .8l-2 1.3l-1.3 1.4l-1 1.4l-.6 1.5l-.5 2.1l-.2 2.1l.1 2.1l.4 2.1l.7 2.2l1 2.1l1.3 2l1.4 1.7l4.1 3.4zM448.1 206.2l2.1-.5l1.3-.9l.9-1.4l.2-1.5l-.5-1.4l-1.1-1.2l-1.5-.7l-1.4-.2l-1.4 .2l-1.5 .7l-1.1 1.2l-.5 1.4l.2 1.5l.9 1.4l1.3 .9l1.8 .5zM489.5 78.4l1.4 .5l0-11.1l-2.1 3.3l-1.1 2.8l0 2.1l.7 1.4l.7 .8z" fill="#ff8000" fill-rule="evenodd"/>
<path d="M490.2 218.5l.7 .4l0-4.3l-2.1-1.2l-1.8-2.2l-.9-2.2l-.4-2.8l.4-2.1l.6-1.4l1.1-1.4l.9-.7l2.2-1.2l0-1.5l-2.8 1.1l-2.2 1.8l-.9 1.2l-.7 1.4l-.6 2.8l0 2.1l.2 1.5l.6 1.9l.7 1.6l.8 1.4l1.3 1.6l2.5 1.9z" fill="#ff5000" fill-rule="evenodd"/>
<path d="M490.2 214.3l.7 .3l0-4l-1.2-.9l-.9-1.2l-.5-1.6l-.1-1.4l.6-2.1l1.2-1.4l.9-.7l0-1.9l-2.1 1.1l-1.5 1.3l-.9 1.6l-.6 2.1l.1 2.8l.7 2.2l1.5 2.2l1.6 1.3z" fill="#ff3000" fill-rule="evenodd"/>
<path d="M490.9 210.6l0-9.3l-.9 .6l-1.2 1.5l-.6 2.1l0 1.4l.5 1.4l.8 1.2l1.1 .9z" fill="#ff1000" fill-rule="evenodd"/>
<path d="M426.7 156.1l2.1-.2l2.9 .1l2.8 .5l2.9 1l2.5 1.3l1.6 1.4l.8 1.4l.3 1.5l-.4 1.4l-.9 1.4l-3.5 3.5l-1.1 1.4l-2 4.3l-1 1.4l-1.8 1.4l-1.6 .6l-1.5 .3l-2.1 0M490.9 174.6l-.9 .5l-1.2 .3l-2.9-.1l-2.1-.9l-.7-.7l-.1-.7l.2-.7l1.1-1.4l1.6-1.1l1.4-.6l1.5 0l.7 .2l.7 .6l.7 1.1M426.7 154l3.6-.1l3.5 .3l3.6 .7l3.6 1.2l3.2 1.4l3.6 2.1l1.7 1.4l.6 .7l.4 1.4l0 .7l-.4 1.4l-1.4 2.2l-5.6 5.3l-3.5 3.9l-1.5 1.4l-2.1 1.4l-3.5 1.4l-2.9 .6l-2.9 .1M490.9 180.2l-11.4-.5l-5-.5l-2.4-.6l-1.8-.7l-1.1-.7l-.6-.7l-.2-.7l0-.7l.4-.7l1.2-1.4l2.5-2.1l4.1-2.9l8.6-5l2.8-1.2l2.9-.5M426.7 151.9l5.7 0l5.7 .9l4.3 1l11.2 3.6l2.3 1l1.5 1.1l1.1 1.4l.6 2.1l-.4 2.2l-1.1 2.1l-3.1 3.9l-2 1.7l-5.8 3.1l-6.8 4l-2.5 1.1l-2.9 1l-2.8 .7l-5 .6M490.9 182.5l-5-.1l-10.7 .4l-4.3-.1l-4.3-.7l-11.4-2.8l-2.1-.3l-2.1 0l-3.6 .6l-7.3 2.7l-4.1 1.2l-4.3 1l-5 .8M426.7 150l5.7 .1l6.4 .8l13.9 3l4 1.2l2.8 1.3l2.2 1.7l1.3 1.5l2.8 3.5l.8 .8l1.5 .8l1.4 .3l2.1-.1l2.9-.8l2.8-1.2l5.8-2.8l2.8-1.2l2.9-.6l2.1-.1M490.9 184.3l-5.7 0l-10.7 1l-3.6 .1l-3.5-.5l-11.5-2.6l-2.8-.4l-2.9-.1l-3.5 .5l-9.3 2.3l-10.7 2.3M426.7 147.8l6.4 .2l6.4 .7l11.5 2l4.9 1.1l2.9 1l2.1 1l2.2 1.5l5 3.6l1.4 .7l1.4 .4l2.2 0l2.1-.4l7.1-2.7l2.9-.8l2.8-.4l2.9 .1M490.9 185.8l-2.9 0l-3.5 .2l-10 1.5l-3.6 .2l-2.8-.4l-7.2-1.9l-3.5-.8l-4.3-.5l-3.6-.1l-3.5 .4l-4.3 .8l-10 2l-5 1.4M426.7 145.5l7.1 .4l7.2 .7l8.5 1.2l5.7 1.1l5 1.6l2.7 1.3l5.9 3.4l1.4 .5l1.4 .3l1.5 0l2.1-.2l6.4-1.7l2.9-.5l3.5-.1l2.9 .3M490.9 187.2l-3.6 0l-3.5 .4l-10 2.3l-2.9 .3l-2.8-.4l-6.4-2.3l-3.6-.9l-5-.6l-4.3-.1l-5.7 .7l-7.5 1.3l-5.3 1.3l-3.6 1.2M426.7 142.6l16.4 1.3l7.1 .8l5 .9l2.9 .6l2.8 1l7.9 3.8l2.8 .8l2.9 .1l6.4-.7l3.6-.1l3.5 .2l2.9 .6M490.9 188.4l-3.6 .1l-4.2 .7l-3.6 1l-6.4 2.3l-2.9 .5l-2.1-.5l-5.7-2.8l-4.3-1.4l-5-.7l-5.7 0l-6.4 .7l-5.7 1.1l-4.3 1.2l-4.3 1.9M426.7 138.6l25 2.4l7.8 1l4.3 1.1l2.1 1l4.3 2.3l2.9 1.1l3.5 .6l9.3 .8l5 1M490.9 292.6l-.4 .6l-.4 1.4l-1 7.8l-.3 1.5l-.8 1.7l-.7 .9l-.7 .5l-1.4 .6l-2.1 .3l-2.2-.1l-1.4-.5l-1-.7l-1.2-1.3l-.7-1.2l-5.7-10.7l-.9-3l-.3-2.9l.2-2.1l.4-1.4l.6-1.6l1.5-2.2l1.6-1.8l2.6-2.5l8.3-6.7l1.2-1.5l.9-1.4l1-2.8l.4-3.5l-.4-2.9l-1.6-4.9l-.3-2.1l.2-1.5l.4-1.4l.9-1.4l1.9-1.4l1.4-.5M490.9 189.6l-5 .4l-4.8 1.3l-4.6 2.2l-4.9 3l-2.1 .7l-.7-.1l-1.4-.7l-4.1-3.6l-3.1-1.9l-3.5-1.1l-5-.6l-7.2 .2l-3.5 .4l-3.6 .7l-4.3 1.4l-4.3 2.6l-2.1 .7M426.7 102.7l.8 1l.9 2.1l.4 2.1l.7 7.1l.3 1.4l.7 1.4l1.7 2.2l5.3 4.9l1.6 2.1l2.2 3.6l1.5 1.4l1.7 .9l2.9 .8l2.8 .2l6.5 0l2.8 .5l2.9 .7l2.8 1.2l2.2 1.1l2.1 1.6l4 3.6l3.1 1.8l3.6 1.2l10.7 2.3M426.7 70.3l2.4 2.2l.9 1.4l.2 1.4l-.3 1.4l-.6 1.5l-2.6 3.3M451.7 238.1l-2.1-.4l-2.9-1.2l-2.1-1.5l-2-1.9l-.9-1.4l-.7-2.1l.2-2.2l.5-1.4l1.1-1.4l1.6-1.4l2.3-1.1l2.1-.6l2.9-.2l2.9 .1l2.8 .4l2.9 1l1.4 1.1l.5 .7l.8 2.1l.1 1.4l-.2 1.5l-.8 2.1l-1.8 2.6l-1.5 1.4l-1.4 1l-2.1 1.1l-1.5 .3l-1.4 .1zM462.4 308.1l-.1-2.8l1-6.4l.4-4.9l.1-5.7l-.2-9.2l.3-2.1l.4-1.4l.7-1.5l1.1-1.4l6.4-6.3l1-1.5l.8-1.4l.7-2.8l.5-6.4l1-5.6l1-4.3l1.1-2.1l1.6-1.2l2.1-.6l3.6-.4l5 .1M426.7 283.3l1.4 .1l1.2 .6l.9 1.5l.3 1.4l-.2 1.5l-.9 2l-1.3 1.4l-1.4 .9M426.7 213.1l.7 .9l1.4 2.9l1.1 1.4l1.1 .8l.7 .3l1.4 .3l2.2-.2l5.2-1.2l4.2-.7l11.2-.9l2.9-.4l3.6-1.3l4.2-2.7l.8 .7l.7 2l2.5 10.4l1.9 7l.4 2.9l-.2 1.4l-.8 1.4l-3.8 3.6l-1.9 2.1l-4 6.3l-2 2.7l-8.3 9.3l-1.7 1.3l-1.4 .5l-1.4 .1l-1.4-.4l-1.2-.7l-1-1.1l-1.4-2.3l-2-5.1l-1.4-2.9l-1.6-2.5l-2.1-2.4l-2.2-1.8l-2.1-1.5l-2.2-1.1l-2.1-.8M490.9 190.8l-3.6 .3l-3.5 .9l-3.5 1.5l-3 1.9l-1.8 1.6l-1.9 2.2l-1.8 2.8l-3 5.5l-.7 .9l-.7 .3l-.8-1.3l-2.3-8.2l-1-2.2l-.9-1.4l-1.2-1.4l-1.8-1.4l-2-1l-2.2-.6l-5-.5l-6.4 .2l-5 1l-2.1 .7l-1.4 .8l-1.8 1.5l-.9 1.4l-.7 2.1l-.3 3.6l-.5 2.1l-.8 1.8l-.7 .5l-.8-.3l-.2-.6l-1.5-4.9l-.4-.9M443.2 32.2l-.8 2.1l-.6 2.9l-.2 2.8l.3 2.8l.6 2.8l.9 2.2l1.2 1.6l1.4 1.2l.7 .3l1.4 .3l2.2-.4l2.1-1.2l5-3.9l2.1-1.5l2.2-1l2.1-.5l2.2 .1l2.1 .7l1.4 1.1l.8 .9l1.1 2.3l.8 2.8l.3 3.5l-.4 3.6l-1.9 7.7l-.6 4.3l-.4 8.5l-.1 4.9l.3 2.9l.6 2.8l.7 1.4l1 1.4l1.4 1.2l1.4 .7l2.9 .8l9.3 1.4l.8 .2l1.2 .7l-.1 .7l-1.3 .7l-7.8 1.7l-2.8 1l-2.2 1.2l-1.4 1.5l-1 1.7l-.6 1.4l-2.7 7.9l-3 6.2l-.6 2.9l.2 2.8l.8 2.1l1.5 2.1l7.6 8.5l2.1 1.9l2.1 1.3l2.9 1.3l8.5 2.1M447.4 97.5l1.4-.1l1.1-.8l.3-.7l-.1-.7l-.4-.7l-.9-.7l-1.4-.1l-.7 .2l-.7 .6l-.4 .7l0 .7l.3 .7l.9 .7zM449.3 308.1l-1.1-.7l-.6-.7l.1-.7l1.5-2.1l5.8-5.7l2-2.8l1-2.2l.6-2.1l.3-2.8l-.1-2.1l-.6-2.9l-.9-2l-1.4-2.2l-1.4-1.5l-1.4-1.1l-2.2-1.1l-2.1-.6l-2.9-.2l-2.8 .1l-2.2 .6l-1.5 1l-1.1 1.4l-.7 2.8l-.5 7.1l-.5 3.5l-2.3 9.2l.3 1.4l.4 .7l.9 .7l2.2 1.2l6 2.4l.7 .7l.1 .7M490.9 191.9l-3.6 .4l-3.6 1.2l-3.5 1.9l-2.6 2.3l-2 2.8l-1.5 3.6l-.9 4.2l-.4 4.3l.4 4.9l.9 4.3l1.7 4.2l2.2 3.5l2.2 2.5l2.9 2.3l3.4 1.6l4.4 1.4M490.9 103.2l-3.6 .3l-3.5 .9l-2.9 1.3l-2.1 2l-1 1.6l-1.2 2.8l-3.7 10.6l-.4 2.9l.2 2.1l1.2 2.8l3 5l2.4 2.8l1.7 1.4l2.8 1.5l3.5 1.2l3.6 .7M490.9 35.7l-3.6 .3l-2.1 .5l-1.4 .6l-2 1.5l-1.3 2.1l-.6 2.1l-.3 2.1l-.7 9.9l-.4 3.6l-.9 3.5l-2.1 5.7l-.8 2.8l-.7 3.5l-.2 3.6l.2 3.5l.6 2.8l1 2.1l1 1.3l1 .9l2.5 1.4l3 .9l4.2 .6l3.6 .1M441 214l2.9 .3l2.8 .1l3.6-.2l2.8-.3l3.6-1l1.4-.7l1.4-1.2l1-1.3l.9-2.1l.4-2.1l.1-2.8l-.3-2.2l-.6-2.1l-1.1-2.1l-1.2-1.4l-2-1.3l-2.2-.8l-3.5-.6l-3.6-.1l-3.5 .3l-3.6 .9l-2 .9l-1.7 1.4l-1.2 2.1l-.4 2.1l-.2 5.7l.3 3.5l.8 2.2l.8 1l1.7 1.1l2.5 .7zM490.9 193.1l-3.6 .6l-2.8 1l-2.8 1.7l-2.3 2.1l-1.8 2.8l-1.1 2.8l-.8 3.6l-.2 3.5l.4 4.3l.7 3.4l1.1 2.9l1.8 3.3l2.1 2.7l2.9 2.8l2.8 2.1l3.6 1.9M490.9 106.8l-2.9 .4l-2.1 .8l-2.1 1.5l-1.6 1.9l-1.3 2.8l-1 3.6l-1.1 4.9l-.4 3.6l.4 2.8l.8 2.8l1.4 2.9l1.3 1.7l1.5 1.3l2.1 1.2l2.1 .7l2.9 .4M490.9 46.6l-1.4 .3l-1.5 .8l-1.3 1.5l-.8 1.4l-.8 2.1l-2.3 8.5l-1.3 2.8l-2.2 4.3l-1.1 2.8l-.7 2.8l-.3 2.9l.2 2.8l.5 2.1l1 2.1l1.3 1.6l2.1 1.4l2.9 1l2.8 .4l2.9-.1M446 293.3l1.4 .4l.7-.1l1.5-.4l1.7-1.3l1.4-2.2l.4-2.1l-.5-2.1l-1.1-1.4l-.8-.7l-1.1-.6l-.7-.2l-1.5 0l-1.4 .5l-1.4 1.5l-.7 1.6l-.3 2.1l.2 2.1l.8 1.6l1.4 1.3zM444.5 211.9l4.3 .2l3.5-.5l3.1-1.2l1.2-.9l1.1-1.2l.8-1.4l.6-2.1l.2-2.1l0-1.5l-.5-2.1l-.7-1.4l-1.1-1.4l-1.1-.9l-2.1-1.1l-2.2-.5l-2.1-.3l-2.9 0l-2.8 .4l-2.2 .7l-1.7 1l-1.5 1.4l-1 2.1l-.3 2.1l0 2.9l.6 2.8l1.1 2.1l1.4 1.3l2.2 1.1l1.9 .5zM490.9 194.2l-2.9 .5l-2.8 1.2l-2.1 1.3l-2.1 2l-1.4 2.1l-1.1 2.8l-.6 2.9l-.2 2.8l.3 3.5l.6 2.8l1 2.9l1.3 2.6l1.7 2.3l2.6 2.9l2.8 2.5l2.9 2.1M490.9 110.3l-1.4 .5l-1.5 .8l-1.3 1.2l-1 1.4l-.9 2.2l-.5 2.1l-.5 4.9l.4 5.7l.5 2.1l.6 1.4l1.3 1.9l1.3 1l1.6 .5l1.4 .1M490.9 55.1l-1.5 1.9l-3.3 6.4l-4.2 7l-1.3 3.6l-.2 2.8l.2 2.1l.4 1.4l.7 1.5l1.4 1.6l1.7 1.2l1.8 .6l2.2 .3l2.1-.1M444.5 209.8l2.9 .5l2.1-.1l1.4-.3l1.4-.4l1.5-.7l2-1.9l1-2.1l.3-1.4l.1-1.4l-.2-1.4l-.6-1.4l-.9-1.4l-.7-.8l-1.7-1l-1.5-.6l-2.1-.4l-2.1 0l-2.2 .3l-2.1 .7l-1.5 .8l-1 1l-.9 1.4l-.5 2.1l0 2.1l.3 1.6l.5 1.2l1 1.5l1.4 1.1l2 1zM490.9 195.3l-2.9 .7l-2.1 1l-2 1.4l-1.4 1.4l-1 1.4l-.9 2.2l-.6 2.1l-.2 2.8l.1 2.8l.6 2.9l.6 2.1l1.2 2.5l1.5 2.2l1.4 1.7l2.1 2.1l3.6 3M490.9 114.5l-1.1 1.1l-.7 1.5l-.6 2.1l-.2 2.1l.3 2.8l.6 2.2l.9 2.1l.8 1.2M490.9 62.3l-4.3 6.1l-1.6 2.7l-1.1 2.9l-.2 2.1l.1 1.4l.4 1.4l.9 1.4l.7 .7l1 .8l1.2 .5l1.5 .2l1.4 0M447.4 208.4l1.4 0l1.5-.3l2.1-.9l1.7-1.6l.9-2.2l0-2.1l-.5-1.3l-.5-.8l-1.6-1.5l-2.1-.9l-2.9-.2l-1.4 .2l-1.5 .5l-1.7 1.2l-.6 .7l-.7 1.4l-.3 1.4l.1 1.4l.5 1.4l.6 1l1.1 1.2l1 .6l1.5 .5l1.3 .3zM490.9 196.6l-1.8 .5l-1.8 .7l-2 1.4l-1.3 1.4l-1 1.4l-.6 1.4l-.5 2.2l-.2 2.1l.1 2.1l.4 2.1l.7 2.2l1 2.1l1.3 2l1.4 1.6l2.2 2l2.1 1.6M490.9 67.8l-2.5 4l-.6 1.4l-.2 1.4l.1 1.4l.7 1.4l1.1 1l1.4 .4M448.1 206.2l2.1-.5l1.3-.9l.9-1.4l.2-1.5l-.5-1.4l-1.1-1.2l-1.5-.7l-1.4-.2l-1.4 .2l-1.5 .7l-1.1 1.2l-.5 1.4l.2 1.5l.9 1.4l1.3 .9l1.8 .5zM490.9 197.9l-1.4 .5l-1.6 .8l-1.3 .9l-1.1 1.2l-.9 1.4l-.5 1.4l-.5 2.9l.2 2l.3 1.5l.4 1.4l1.1 2.1l1 1.5l1.4 1.5l1.5 1.1l1.4 .8M490.9 199.4l-2.1 1.1l-1.6 1.5l-1.1 2.1l-.3 1.4l-.1 1.5l.6 2.8l1 2l1.5 1.6l2.1 1.2M490.9 201.3l-.9 .7l-1.2 1.4l-.5 1.4l-.1 1.4l.2 1.4l.7 1.4l1.1 1.2l.7 .4" fill="none" stroke="#6a6a6a" stroke-opacity="0.85" stroke-width="0.45"/>
<text x="0" y="0" transform="translate(457.6 259) rotate(-51)" text-anchor="middle" style="font-family:'Liberation Sans',sans-serif;font-size:6.6px;fill:#000" dy="2.38">4E-07</text>
</g>
<rect x="426.7" y="32.2" width="64.2" height="275.9" fill="none" stroke="#9a9a9a" stroke-width="0.6"/>
<path d="M426.7 32.2v-3M426.7 308.1v3M448.1 32.2v-3M448.1 308.1v3M469.5 32.2v-3M469.5 308.1v3M490.9 32.2v-3M490.9 308.1v3M426.7 286.88h-3M490.9 286.88h3M426.7 244.43h-3M490.9 244.43h3M426.7 201.98h-3M490.9 201.98h3M426.7 159.54h-3M490.9 159.54h3M426.7 117.09h-3M490.9 117.09h3M426.7 74.65h-3M490.9 74.65h3M426.7 32.2h-3M490.9 32.2h3" stroke="#9a9a9a" stroke-width="0.6" fill="none"/>
<text x="419.8" y="291.18" text-anchor="end" class="ax" font-weight="normal">2</text>
<text x="419.8" y="248.73" text-anchor="end" class="ax" font-weight="normal">4</text>
<text x="419.8" y="206.28" text-anchor="end" class="ax" font-weight="normal">6</text>
<text x="419.8" y="163.84" text-anchor="end" class="ax" font-weight="normal">8</text>
<text x="419.8" y="121.39" text-anchor="end" class="ax" font-weight="normal">10</text>
<text x="419.8" y="78.95" text-anchor="end" class="ax" font-weight="normal">12</text>
<text x="419.8" y="36.5" text-anchor="end" class="ax" font-weight="normal">14</text>
<text x="424.5" y="323.4" text-anchor="middle" class="ax" font-weight="normal">1</text>
<text x="445.9" y="323.4" text-anchor="middle" class="ax" font-weight="normal">2</text>
<text x="467.3" y="323.4" text-anchor="middle" class="ax" font-weight="normal">3</text>
<text x="488.7" y="323.4" text-anchor="middle" class="ax" font-weight="normal">4</text>
<rect x="503.6" y="66.59" width="13.9" height="9.41" fill="#ff0000"/>
<rect x="503.6" y="75.8" width="13.9" height="9.41" fill="#ff0000"/>
<rect x="503.6" y="85.01" width="13.9" height="9.41" fill="#ff0000"/>
<rect x="503.6" y="94.22" width="13.9" height="9.41" fill="#ff0000"/>
<rect x="503.6" y="103.43" width="13.9" height="9.41" fill="#ff1000"/>
<rect x="503.6" y="112.64" width="13.9" height="9.41" fill="#ff3000"/>
<rect x="503.6" y="121.85" width="13.9" height="9.41" fill="#ff5000"/>
<rect x="503.6" y="131.06" width="13.9" height="9.41" fill="#ff8000"/>
<rect x="503.6" y="140.27" width="13.9" height="9.41" fill="#ffb000"/>
<rect x="503.6" y="149.48" width="13.9" height="9.41" fill="#ffff00"/>
<rect x="503.6" y="158.69" width="13.9" height="9.41" fill="#90d000"/>
<rect x="503.6" y="167.9" width="13.9" height="9.41" fill="#00a000"/>
<rect x="503.6" y="177.11" width="13.9" height="9.41" fill="#00a830"/>
<rect x="503.6" y="186.32" width="13.9" height="9.41" fill="#00b860"/>
<rect x="503.6" y="195.53" width="13.9" height="9.41" fill="#00d090"/>
<rect x="503.6" y="204.74" width="13.9" height="9.41" fill="#00e0b0"/>
<rect x="503.6" y="213.95" width="13.9" height="9.41" fill="#00ffff"/>
<rect x="503.6" y="223.16" width="13.9" height="9.41" fill="#00c0ff"/>
<rect x="503.6" y="232.37" width="13.9" height="9.41" fill="#0080ff"/>
<rect x="503.6" y="241.58" width="13.9" height="9.41" fill="#0040ff"/>
<rect x="503.6" y="250.79" width="13.9" height="9.41" fill="#0000dd"/>
<rect x="503.6" y="260" width="13.9" height="9.41" fill="#000099"/>
<rect x="503.6" y="269.21" width="13.9" height="9.41" fill="#000000"/>
<path d="M503.6 75.8H517.5M503.6 85.01H517.5M503.6 94.22H517.5M503.6 103.43H517.5M503.6 112.64H517.5M503.6 121.85H517.5M503.6 131.06H517.5M503.6 140.27H517.5M503.6 149.48H517.5M503.6 158.69H517.5M503.6 167.9H517.5M503.6 177.11H517.5M503.6 186.32H517.5M503.6 195.53H517.5M503.6 204.74H517.5M503.6 213.95H517.5M503.6 223.16H517.5M503.6 232.37H517.5M503.6 241.58H517.5M503.6 250.79H517.5M503.6 260H517.5M503.6 269.21H517.5" stroke="#200" stroke-opacity="0.55" stroke-width="0.6"/>
<text x="518.8" y="78.39" class="cb" style="font-size:7.2px">2.8E-06</text>
<text x="518.8" y="87.6" class="cb" style="font-size:7.2px">2.6E-06</text>
<text x="518.8" y="96.81" class="cb" style="font-size:7.2px">2.4E-06</text>
<text x="518.8" y="106.02" class="cb" style="font-size:7.2px">2.2E-06</text>
<text x="518.8" y="115.23" class="cb" style="font-size:7.2px">2E-06</text>
<text x="518.8" y="124.44" class="cb" style="font-size:7.2px">1.8E-06</text>
<text x="518.8" y="133.65" class="cb" style="font-size:7.2px">1.6E-06</text>
<text x="518.8" y="142.86" class="cb" style="font-size:7.2px">1.4E-06</text>
<text x="518.8" y="152.07" class="cb" style="font-size:7.2px">1.2E-06</text>
<text x="518.8" y="161.28" class="cb" style="font-size:7.2px">1E-06</text>
<text x="518.8" y="170.49" class="cb" style="font-size:7.2px">8E-07</text>
<text x="518.8" y="179.7" class="cb" style="font-size:7.2px">6E-07</text>
<text x="518.8" y="188.91" class="cb" style="font-size:7.2px">4E-07</text>
<text x="518.8" y="198.12" class="cb" style="font-size:7.2px">2E-07</text>
<text x="518.8" y="207.33" class="cb" style="font-size:7.2px">0</text>
<text x="518.8" y="216.54" class="cb" style="font-size:7.2px">-2E-07</text>
<text x="518.8" y="225.75" class="cb" style="font-size:7.2px">-4E-07</text>
<text x="518.8" y="234.96" class="cb" style="font-size:7.2px">-6E-07</text>
<text x="518.8" y="244.17" class="cb" style="font-size:7.2px">-8E-07</text>
<text x="518.8" y="253.38" class="cb" style="font-size:7.2px">-1E-06</text>
<text x="518.8" y="262.59" class="cb" style="font-size:7.2px">-1.2E-06</text>
<text x="518.8" y="271.8" class="cb" style="font-size:7.2px">-1.4E-06</text>
<text x="518.8" y="281.01" class="cb" style="font-size:7.2px">-1.6E-06</text>
<text transform="translate(416.3 19.8) scale(0.943 1)" class="tt">8h-i<tspan class="sub" dx="1.2" dy="2">g</tspan></text>
<text transform="translate(459.7 19.8) scale(0.943 1)" class="tt">ig(A/cm<tspan class="sup" dy="-5.8">2</tspan><tspan dy="5.8">)</tspan></text>
<clipPath id="c12h"><rect x="566.7" y="32.2" width="64.2" height="275.9"/></clipPath>
<g clip-path="url(#c12h)">
<rect x="566.7" y="32.2" width="64.2" height="275.9" fill="#00c880"/>
<path d="M586 163.9l2.1 .6l2.2-.4l.8-.3l.8-.7l.4-.7l0-.7l-.3-.7l-1-.8l-1.4-.4l-1.5-.1l-2.1 .4l-1.2 .9l-.3 .7l.1 .7l.4 .7l.8 .7z" fill="#000000" fill-rule="evenodd"/>
<path d="M567.1 181.5l1.5-1.4l.6-1.4l-.1-.7l-.4-.7l-.8-.8l-1.2-.6l0 5.9zM585.2 168.8l2.1 .3l2.9-.1l2.8-.8l2.2-1.1l1.5-1.2l.6-.8l.7-1.3l.2-1.4l-.1-.7l-.6-1.5l-1.5-1.4l-1.3-.7l-2.4-.7l-2.8-.5l-2.9 0l-2.8 .4l-2.2 .7l-1.4 .8l-.8 .7l-.8 1.4l-.2 1.5l.7 2.1l1.1 1.6l1.4 1.2l1.5 .8l1.8 .6zM585.8 163.8l-.8-.7l-.4-.7l-.1-.7l.4-.7l1.1-.8l2.1-.5l1.5 .1l1.5 .5l.9 .7l.3 .7l0 .7l-.4 .7l-.8 .7l-.8 .4l-2.2 .3l-2.1-.6z" fill="#000099" fill-rule="evenodd"/>
<path d="M567.2 183.6l10.9-5.3l2.1-.9l3.6-.8l11.4-1.1l1.8-.4l1.8-.7l.8-.7l.4-.7l1.9-5l.6-2.1l.2-2.1l-.2-1.4l-.4-1.4l-.8-1.5l-1.5-1.4l-2.5-1.4l-3.5-1.1l-3.6-.5l-4.3-.1l-3.5 .4l-2.9 .7l-3 1.3l-.9 .7l-1.1 1.4l-.6 2.2l.2 2.8l1.2 5l-.3 1.4l-1.2 1l-1.4 .5l-2.2 .3l-3.5 0l0 3.1l1.2 .7l.8 .7l.4 .7l0 .7l-.6 1.5l-1.8 1.7l0 2zM585 168.7l-1.9-.7l-1.4-.8l-1.4-1.2l-1.2-1.5l-.6-2.2l.1-1.4l.9-1.4l.8-.7l1.4-.8l2.1-.7l2.9-.4l2.8 0l2.9 .4l2.4 .8l1.3 .7l1.5 1.4l.6 1.4l.1 .7l-.3 1.4l-.6 1.4l-.7 .8l-1.4 1.2l-2.2 1.1l-2.8 .8l-2.9 .1l-2.1-.3z" fill="#0000dd" fill-rule="evenodd"/>
<path d="M567.4 185.1l5-1.7l3.6-1l3.5-.8l4.3-.6l6.4-.5l5.7 0l5 .3l7.9 1.1l2.8 .1l3.6-.6l6.4-2.5l2.9-.7l3.5-.4l2.9 .2l0-14.2l-2.2-.1l-2.1 .2l-2.8 .7l-7.2 2l-2.1 .4l-2.2-.1l-2.1-.7l-1.2-1l-3.6-5.7l-2.1-2.1l-2.4-1.6l-2.8-1.2l-5-1l-6.4-.4l-6.5 .4l-5 1l-1.6 .7l-1.9 1.1l-1.1 1l-.9 1.4l-.6 2.1l-.2 4.3l-.2 1.4l-.8 1.4l-1.2 .9l0 3.7l5-.1l1.4-.4l1.4-.7l.5-.6l.3-1.4l-1.4-6.4l.1-2.1l.5-1.4l1.1-1.4l1.8-1.2l2.4-.9l2.6-.6l4.3-.4l5 .2l3.8 .8l3.3 1.3l1.9 1.5l1.4 2.1l.4 1.4l.2 1.4l-.3 3l-2.4 6.2l-.4 .7l-.8 .8l-1.7 .7l-1.9 .3l-11.4 1.2l-3.6 .8l-2.1 .8l-11.4 5.6l0 1.6z" fill="#0040ff" fill-rule="evenodd"/>
<path d="M567.4 186.6l5.7-1.6l5.7-1.1l5.7-.6l8.6-.5l3.5 .1l3.6 .3l9.3 1.9l2.8 .5l2.9 .1l2.8-.2l8.6-1.9l2.1-.2l2.2 .2l0-5.6l-2.9-.2l-3.5 .4l-2.9 .8l-6.4 2.4l-3.6 .6l-2.8 0l-7.9-1.1l-5-.4l-6.4 .1l-7.1 .6l-6.4 1.2l-7.2 2.2l-2.1 .8l0 1.4zM567 168.7l.8-.7l.8-1.4l.3-1.4l.3-5l.5-1.4l.9-1.4l1.7-1.4l1.5-.8l2.9-1l2.8-.5l5.7-.4l5.7 .1l5 .7l3.6 1l2.9 1.6l2.4 2.1l1.5 2.1l1.8 3l1.4 1.8l1.4 .8l1.4 .4l2.2 .1l2.1-.4l7.1-2l2.9-.6l2.1-.3l2.2 .1l0-4.2l-2.2-.2l-2.1 .1l-8.6 1.3l-3.5 0l-2.2-.6l-1.4-.8l-4.6-3.4l-2.3-1.4l-3.1-1.3l-2.8-.8l-5-.6l-7.2-.4l-8.5 .1l-5.7 .4l-2.3 .4l-2.7 .8l0 15.7z" fill="#0080ff" fill-rule="evenodd"/>
<path d="M616.6 189.3l4.3 .1l10-.8l0-5l-2.2-.2l-2.1 .2l-7.9 1.8l-4.2 .3l-4.3-.4l-7.2-1.6l-3.5-.6l-4.3-.3l-5.7 .2l-6.4 .4l-5.7 .7l-5.7 1.2l-5 1.5l0 1.4l6.4-1.7l5.7-.9l11.4-.8l6.4-.1l2.9 .3l2.8 .5l9.3 2.9l4.5 .8zM613.1 160.5l1.4 .3l2.2 .2l10-1.4l2.1-.1l2.1 .2l0-3.8l-2.1-.5l-2.9-.2l-8.5 .2l-2.9-.2l-2.8-.7l-7.9-3l-2.8-.7l-2.9-.4l-15.7-.9l-15.7-1.4l0 5.1l2.7-.7l2.3-.4l6.4-.5l10.7 .1l7.9 .6l3.9 .9l3.2 1.3l2.6 1.5l4.6 3.5l1.5 .8z" fill="#00c0ff" fill-rule="evenodd"/>
<path d="M617.3 192.9l2.1 .3l2.9 0l8.6-.8l0-3.7l-10 .8l-4.3-.2l-5-.9l-10-3l-3.6-.6l-3.5-.1l-10 .4l-6.4 .6l-5.7 1l-5.7 1.6l0 1.4l6.4-1.6l6.4-.9l12.1-.8l5.7 0l2.9 .5l2.8 .7l9.3 3.9l4.6 1.3zM615.9 155.3l10-.2l2.8 .3l2.2 .4l0-3.6l-5-1.1l-11.4-1.2l-11.4-1.9l-4.3-.4l-9.3-.2l-5-.5l-12.8-2.4l-5-.7l0 4.2l15 1.3l13.5 .8l4.3 .4l4.3 1l7.8 2.9l3.8 .8z" fill="#00ffff" fill-rule="evenodd"/>
<path d="M617.3 196.4l2.9 .2l2.8-.1l7.9-1.2l0-2.9l-8.6 .8l-2.9 0l-2.1-.3l-2.1-.5l-2.9-.9l-6.7-2.9l-3.3-1.2l-2.8-.7l-3.6-.4l-5.7 .1l-11.4 .8l-5.7 .9l-6.4 1.6l0 1.6l7.8-1.9l5.7-.8l11.4-.7l5.7 .1l2.9 .6l2.8 .9l2.4 1.2l6.9 4.1l2.1 .9l2.6 .6zM629.5 151.9l1.4 .4l0-3.3l-13.6-2.9l-3.5-1.1l-5.7-2.2l-2.1-.6l-2.9-.2l-7.8 .6l-5.1 0l-3.5-.5l-10-2l-10-1.1l0 4.9l5 .6l12.9 2.5l5 .5l12.8 .4l11.4 1.9l10.7 1.2l4.5 .8z" fill="#00e8d8" fill-rule="evenodd"/>
<path d="M589.5 232.4l4.3-.1l3.5-.5l2.9-.6l2.1-1l1.5-1.6l.7-1.9l.1-2.1l-.3-1.4l-.3-.7l-.8-.7l-.9-.4l-2.1-.4l-10-.2l-12.1 .2l-4.3-.2l-3.6-1l-2.1-1.1l-1.4-1.1l0 12.7l2.8-.4l2.9 0l12.1 2.1l4.5 .4zM614.5 199.9l2.9 .4l2.8-.2l4.3-.7l6.4-1.4l0-2.7l-8.6 1.3l-2.8 0l-2.9-.3l-2.1-.6l-2.1-.9l-7-4.1l-3-1.4l-2.9-.9l-3.5-.5l-6.5 0l-10 .8l-5.7 .9l-7.1 1.7l0 2.2l2.1-.4l6.5-2.1l5.7-1l10-.7l3.5 0l2.9 .3l2.8 .8l2.9 1.3l2.5 1.8l5.3 4.6l2.2 1.3l1.3 .5zM630.9 149l0-3l-6.7-1.3l-4.7-1.5l-2.2-1.1l-1.5-1l-1.6-1.4l-1-1.4l-.6-1.4l-.5-2.1l-.2-9.2l-.3-2.9l-.7-3.5l-.7-2.4l-.7-1.7l-.7-1.1l-1.4-1.3l-2.2-.8l-2.1 .1l-2.3 .8l-1.9 1.4l-1.2 1.5l-.7 1.4l-.6 2.1l-1 4.9l-.9 2.2l-1 1.4l-1.1 .8l-1.4 .6l-1.5 .3l-1.4-.1l-1.4-.4l-1.5-.7l-1.3-1.2l-1.5-2.6l-2-5.2l-1-2.1l-1-1.4l-1.5-1.5l-2.4-1.1l-2.8-.6l-2.9 .1l-2.1 .7l0 25.7l10 1.1l10 1.9l3.5 .5l4.3 .1l7.9-.6l2.8 .1l2.9 .6l5.7 2.3l3.5 1.1l13.2 2.8z" fill="#00d8a8" fill-rule="evenodd"/>
<path d="M622.3 303.3l2.1 .5l1.5 0l1.4-.3l2.1-1l1.5-1.4l0-37.5l-2.9 .9l-2.7 1.2l-2 1.4l-1.5 1.4l-1.7 2.2l-1.4 2.3l-1.1 2.6l-.7 2.8l-.5 3.6l0 3.5l.3 4.3l.7 4.2l.9 3.5l1.1 2.9l1.5 1.9l1.2 .9zM567 242.3l1.9-2l1.4-1l2.1-.9l2.2-.4l3.5 .1l5 .7l5 1.1l5.7 1.9l2.2 .4l1.4-.2l1.4-.4l2.2-1.1l2.1-1.4l3-2.5l1.3-1.7l.7-1.5l.8-3.1l.7-9.2l.7-3.6l1.8-4.9l1.2-2.8l.9-1.5l2.1-2.1l3.2-1.8l4.3-1.7l7.1-2.1l0-2.6l-10 2l-2.8 .3l-2.9-.3l-2.1-.6l-2.1-1.3l-5.4-4.6l-3-2.1l-3.6-1.5l-3.7-.6l-7.2 .1l-8.5 .8l-5 1l-5.7 1.9l-2.2 .4l0 4.4l1.5 .9l.7-.3l2.5-2.9l1.8-1.4l2.1-1.1l2.8-1l5-1l5.7-.4l5 0l3.8 .7l2 .7l2.1 1.2l1.8 1.6l1.2 1.4l1.4 2.1l1.5 2.9l.8 2.1l.2 2.1l-.2 2.1l-.7 2.2l-1.5 2.8l-1.1 1.4l-1.7 1.4l-2.4 1.3l-2.2 .7l-2.8 .5l-5 .3l-7.2 .1l-4.9-.4l-3.6-.6l-2.2-.7l-2.1-1.2l-1.7-1.4l-2.6-3.2l0 6.8l1.5 1.1l2.1 1.2l2.8 .8l3.6 .3l14.3-.2l10.1 .3l1.3 .3l1.4 .9l.7 1.3l.2 1.7l-.2 1.4l-.4 1.5l-1 1.4l-.7 .6l-2.1 1l-4.3 .8l-4.3 .4l-4.3-.1l-4.3-.5l-8.5-1.6l-2.9-.3l-2.8 0l-2.2 .4l0 12.3zM628 145.5l2.9 .5l0-3.1l-4.3-.5l-2.2-.6l-2.1-.8l-1.4-.8l-1.7-1.2l-1.2-1.4l-.7-1.4l-.7-2.1l-.2-2.2l-1.4-23.3l-.3-1.4l-.5-1.4l-1.1-1.4l-.8-.8l-1.4-.9l-1.4-.5l-4.3-.8l-16.4-.6l-15.7 .4l-3.6-.4l-2.8-.7l0 13.2l1.4-.5l1.4-.3l2.9 .1l2.8 .7l2.2 1.3l1.4 1.6l.9 1.6l2.5 6.4l1.2 2.1l1.8 1.9l1.9 .9l1.7 .3l2.1-.2l1.7-.8l1.2-1l.7-1.1l.7-1.7l1.1-5.4l.7-2.1l1-2l1.5-1.4l2.1-1.3l2.1-.5l2.2 .2l1.6 .7l1.2 1.2l.8 1.1l.7 1.7l.8 3.1l.9 5.7l.1 9.2l.5 2.1l.7 1.4l1.7 2.1l1.7 1.3l1.4 .9l4.3 1.6l5.1 1.2zM567.1 83.8l1.3-2.8l.7-2.9l2.4-13.4l.4-4.2l.1-5l-.5-11.3l-.5-7.1l-.6-4.9l-3.7 0l0 52.2zM605.9 57l1.4 .5l1.5-.1l1.4-.8l1.3-1.7l.4-1.4l0-1.5l-.6-1.4l-1.1-1.1l-1.4-.4l-1.5 .2l-1.4 1l-.8 1l-.6 1.4l0 1.9l.7 1.7l.7 .7z" fill="#00c880" fill-rule="evenodd"/>
<path d="M603.8 308.1l27.1 0l0-7l-.7 .8l-1.4 1l-1.5 .6l-2.1 .3l-1.4-.1l-1.5-.4l-1.4-1l-1-1.3l-1.3-2.8l-1.2-4.2l-.7-5l-.3-5l.2-4.1l.6-2.9l1-2.9l1.5-2.8l2.1-2.8l2.4-2.1l2.6-1.5l4.1-1.3l0-3.5l-7.1 .8l-5.7 1.2l-2.9 1.1l-2.1 1l-1.5 1.2l-.7 1l-.9 2.1l-.4 3.5l.2 8.5l.5 12.7l0 2.9l-.3 2.8l-.7 2.8l-1.6 2.9l-2 2.1l-2.1 1.4zM586 262.1l4.3 .2l3.5-.5l1.6-.4l1.3-.6l1.2-.8l.6-.8l2.3-4.2l3-4.6l5-8.3l1.8-3.4l.6-2.1l.5-2.8l.4-8.5l.3-2.8l1-3.6l1.6-3.5l3.1-4.7l1.5-1.7l1.6-1.4l1.9-1.2l2.1-1.1l5.7-2l0-2.7l-7 2l-4.4 1.7l-3.2 1.9l-2.1 2.1l-.8 1.4l-1.3 2.9l-1.8 4.9l-.7 3.5l-.7 9.2l-.8 3.2l-.7 1.4l-1.4 1.9l-1.5 1.3l-2.1 1.6l-3.6 2l-1.4 .4l-1.4 .1l-2.2-.3l-5.7-1.9l-5-1.2l-4.9-.7l-3.6 0l-2.2 .3l-2.1 .9l-1.4 1.1l-2.2 2.3l0 14.6l11.9 3.5l7.2 1.4zM583.8 218.3l9.3-.1l2.8-.3l2.9-.5l2.1-.7l2.5-1.2l1.7-1.5l1.1-1.4l1.5-2.8l.6-2.1l.3-2.1l-.3-2.2l-1.1-2.8l-1.6-2.8l-2.2-2.9l-1.8-1.5l-2.8-1.6l-2.2-.6l-2.1-.3l-5-.2l-6.4 .5l-5 .9l-3.8 1.4l-2.1 1.4l-1.5 1.5l-1.9 2.1l-.7 .4l-1.4-1l0 13l1.9 2.4l2.3 2.2l2.9 1.4l4.3 1l5.3 .4zM583.9 216.1l-3.7-.4l-3.5-1l-2.5-1.4l-.8-.7l-.9-1.5l-.5-2.1l.1-3.5l1-5.7l.5-1.4l.7-1.4l1.6-1.8l2.2-1.3l2.8-.9l3.6-.7l4.3-.3l4.3 .2l2.9 .6l2.8 1.2l1.8 1.6l1.1 1.4l1.1 2.1l.8 2.9l.2 2.1l-.3 2.8l-.5 2.1l-1 2.1l-1.1 1.5l-1.4 1.2l-1.7 .9l-1.9 .6l-5 .8l-6.4 0zM628 142.7l2.9 .3l0-3.7l-1.5 .2l-1.4-.1l-1.6-.3l-1.7-.8l-1.1-.7l-1.3-1.2l-1.3-2.3l-.6-2.8l-.8-7.8l-.3-3.5l.1-2.9l.3-2.1l.5-2.1l.9-2.1l1.2-2l2.1-2.2l2.2-1.4l2.1-.8l1.4-.1l.8 .1l0-3.5l-2.2-1.3l-4.6-3.7l-5.7-4.2l-1.8-1.7l-1.4-1.8l-1.2-2.2l-1.2-3.5l-.8-4.3l-1-6.3l-.1-2.9l.2-1.4l.4-1.4l.8-1.4l3.6-5.4l1-2.4l.6-2.1l.3-2.9l0-2.8l-.3-2.1l-.7-2.1l-.9-1.4l-.7-.6l-1.5-.8l-1.4-.4l-2.1-.4l-2.9-.1l-2.8 .2l-2.2 .4l-2.6 .9l-1.7 1.3l-1.3 1.6l-2.2 3.3l-1.5 1.5l-1.4 .7l-1.4 .1l-1.4-.6l-1.5-1.4l-1.1-2.2l-.7-2.1l-.4-2.9l0-2.8l.9-7.1l-15.7 0l.7 5l.5 7.1l.4 11.3l0 4.9l-.5 4.3l-2.6 14.1l-.8 2.9l-1.3 2.7l0 15.6l2.8 .8l3.6 .3l15.7-.4l16.4 .6l4.3 .8l1.4 .6l1.4 .8l.8 .8l1.1 1.4l.5 1.4l.3 1.4l1.4 23.4l.2 2.1l.7 2.1l1.3 2.1l2.3 2l2.8 1.3l3.7 1zM605.9 57l-.7-.7l-.7-1.7l0-1.8l.6-1.5l.8-1l1.4-1l1.5-.2l1.4 .4l1.1 1.1l.6 1.4l.1 1.5l-.5 1.4l-1.3 1.7l-1.4 .8l-1.5 .1l-1.4-.5zM624.5 35.1l2.1 .3l2.2-.4l2.1-1.4l0-1.4l-10 0l2.2 2.1l1.3 .7z" fill="#00b850" fill-rule="evenodd"/>
<path d="M593.8 308.1l9.8 0l1.6-1l1.4-1.3l1.1-1.2l1.3-2.2l1-3.5l.3-4.2l-.6-16.3l0-7.8l.5-2.8l.7-1.5l1.3-1.4l1.6-1l2.2-1.1l2.1-.7l5.7-1.2l7.1-.8l0-3.3l-5-.4l-3.9-.7l-2.5-.7l-2.6-1.4l-1.4-1.4l-.9-1.4l-.6-2.1l-.1-2.1l.5-10l-.1-11.3l.4-2.8l.9-2.8l1.4-2.9l1.4-2.1l1.8-2.2l2-2l1.6-1.2l2.1-1.3l2.1-.9l2.9-.8l0-2.9l-5.7 1.9l-2.2 1.1l-1.8 1.2l-1.6 1.5l-1.3 1.4l-2.9 4.2l-1.8 3.6l-1.1 3.5l-.5 3.5l-.3 8.5l-.5 2.8l-.7 2.2l-1.7 3.4l-5 8.3l-3 4.5l-1.9 3.6l-1.1 1.4l-1.9 1.2l-2.8 .8l-2.9 .3l-3.5-.1l-4.3-.6l-3.9-.9l-11.8-3.5l0 8.3l7.1 .5l22.9 3l2.1 .6l2.1 1l1.5 1.3l1 1.5l1.1 2.9l.4 4.2l-.5 12.7l-.8 5l-.7 2.1l-.7 1.4l-.9 1.4l-1.3 1.5l-2.9 2.1l-3.3 1.4zM584.5 216.2l6.4 0l5-.8l1.9-.7l1.7-.8l1.4-1.3l1.1-1.4l1-2.1l.6-2.1l.2-2.9l-.2-2.1l-.8-2.8l-1.1-2.1l-1.1-1.5l-1.8-1.5l-2.7-1.3l-3-.6l-4.3-.2l-4.3 .3l-3.6 .7l-2.8 1l-2.2 1.3l-1.6 1.8l-.7 1.4l-.5 1.4l-1 5.6l-.1 3.6l.5 2.1l.9 1.4l.8 .7l2.5 1.4l3.5 1l3.7 .5zM582.8 214l-2.6-.6l-2.1-1l-1.6-1.2l-.6-.8l-.6-1.4l-.5-2.8l.1-2.8l.7-3.5l1.1-2.2l1.4-1.5l2.1-1.3l2.9-.9l2.8-.5l3.6-.2l2.8 .3l2.9 .8l2.1 1.2l1.4 1.4l.9 1.4l.7 2.2l.4 2.1l0 2.1l-.3 2.1l-.7 2.1l-.8 1.5l-1.4 1.4l-1 .7l-1.6 .7l-1.8 .5l-2.2 .4l-2.8 .2l-5-.4zM626.6 139.1l2.1 .4l2.2-.2l0-8.1l-.7 1l-.7 .6l-.8 .2l-.7 0l-.7-.2l-.7-.6l-.7-1.1l-.8-1.9l-1.4-5l-.5-2.8l0-2.9l.6-2.8l.7-1.4l1.1-1.4l1-.9l1.4-.8l1.5-.4l1.4-.2l0-6.2l-.7-.1l-2.2 .2l-1.4 .7l-2.1 1.4l-1.5 1.3l-1.4 2l-.8 1.6l-.8 2.1l-.5 2.8l-.2 2.8l.2 2.9l.9 9.2l.5 2.3l.8 1.9l1.1 1.4l1.7 1.3l2 .9zM630.9 100.8l0-8.2l-6.4-5.3l-2.1-2.1l-1.6-2.1l-1.3-2.1l-1.1-2.9l-.6-2.8l-.2-2.1l.2-2.8l.5-2.2l2.8-7l2-8l.7-2.1l.6-1.3l.8-.9l.7-.6l.7-.3l1.4 0l1.5 .8l1.4 2.2l0-17.4l-2.4 1.4l-1.2 .3l-1.4 .1l-1.4-.4l-1.4-.7l-2.2-2.1l-34.8 0l-.9 6.3l0 2.9l.2 2.8l.6 2.1l.9 2.1l1.2 1.6l1.4 1l1.5 .2l.7 0l1.4-.8l1.4-1.5l2.2-3.3l1.4-1.6l1.6-1.2l2.7-1l4.2-.5l2.9 0l2.1 .2l2.9 .9l1.4 1.1l.5 .7l.9 2l.5 2.2l.1 3.6l-.4 2.8l-.6 2.1l-1 2.4l-4 6.1l-.6 1.4l-.4 2.1l.3 4.3l1.7 9.2l.6 2.1l1 2.4l1.1 1.9l1.3 1.4l1.9 1.7l5.3 3.9l4.7 3.7l2.1 1.3z" fill="#00a830" fill-rule="evenodd"/>
<path d="M581 308.1l12.8 0l2.2-.9l2.3-1.2l1.8-1.4l1.7-2.2l.8-1.4l.9-2.1l.5-2.1l.4-2.8l.5-13.5l-.1-2.8l-.7-2.8l-1.1-2.2l-1.3-1.5l-2.1-1.3l-2.2-.8l-3.6-.6l-7.8-.9l-12.1-1.6l-7.2-.5l0 3l9.3 1.2l14 2.3l3.3 .7l2.2 .7l1.9 1.1l1.4 1.5l.8 1.7l.4 2.1l-.1 2.1l-1.1 6.4l-.7 6.4l-.6 2.8l-1.2 2.8l-1.7 2.3l-1.5 1.2l-1.4 .8l-3.6 1.5l-7.3 2zM626.6 256.5l4.3 .4l0-4.1l-3.6-1.6l-3.6-2.5l-2.8-3l-1.7-2.7l-1.2-2.8l-.9-4.2l-.8-6.4l0-4.2l.5-2.9l.7-2.1l1.1-2.1l1.4-2.1l2.3-2.7l2.9-2.2l2.8-1.5l2.9-.8l0-2.7l-2.9 .8l-2.8 1.3l-2.9 2l-2.2 2.2l-2.2 2.9l-2 3.5l-1 2.8l-.6 3.6l.1 11.3l-.5 9.9l.1 2.1l.6 2.1l1.5 2.1l1.2 1.1l1.5 .8l3.2 1l4.5 .7zM583.1 214.1l5 .4l2.8-.2l2.2-.4l1.8-.6l1.6-.7l1-.7l1.4-1.4l.8-1.4l.8-2.1l.2-2.1l0-2.2l-.3-2.1l-.8-2.1l-.9-1.4l-1.4-1.4l-2.1-1.3l-2.8-.8l-2.9-.2l-3.5 .1l-2.9 .5l-2.9 1l-2.1 1.3l-1.4 1.5l-1 2.1l-.8 3.5l-.1 2.9l.5 2.8l.7 1.3l.6 .8l1.5 1.2l2.1 1l2.6 .7zM586.3 212.6l-2.4-.3l-2.2-.7l-2-1.1l-1.3-1.4l-.8-1.5l-.5-2.1l.1-2.8l.5-2.1l.6-1.4l1.3-1.6l1.7-1.3l1.9-.8l2.3-.6l2.6-.2l2.9 .2l2.1 .5l1.5 .7l1.3 .9l1.1 1.5l.8 1.4l.4 1.4l.2 2.1l-.2 2.1l-.3 1.4l-1.2 2.3l-1.2 1.3l-1.1 .7l-1.6 .7l-1.8 .5l-2.1 .2l-2.2 0zM627.3 132.7l.7 .3l.7 0l.7-.3l.8-.6l.7-1l0-8.8l-1.3-.3l-.8-.7l-.4-.7l-.2-1.4l.2-1.4l.3-.8l.7-.8l1.5-.9l0-4.8l-1.5 .2l-1.4 .5l-2.1 1.4l-.9 .9l-.9 1.4l-.9 2.9l0 3.5l.8 4.3l1.6 4.9l.8 1.4l.8 .7zM630.9 92.6l0-5.7l-4-3.8l-2.3-2.8l-1.4-2.8l-.6-2.9l.1-1.4l.4-2.1l.7-2.1l1.4-2.6l3-4.5l1.3-1.1l1.4-.4l0-9.3l-1.4-2.2l-.7-.6l-1.5-.4l-1.4 .4l-.7 .6l-.8 1l-1 2.1l-2.1 8.5l-3.2 8.5l-.4 2.8l0 2.8l.3 2.2l.8 2.6l1.1 2.3l1 1.6l1.5 1.9l2.1 2.1l6 5z" fill="#00a000" fill-rule="evenodd"/>
<path d="M567.4 308.1l13.4 0l6.6-1.8l2.8-1l2.7-1.4l1.7-1.5l1.2-1.4l.8-1.4l1.1-2.8l.5-2.8l.7-6.4l1-5.7l0-2.1l-.3-2.1l-.6-1.4l-1.2-1.4l-1.2-.9l-1.4-.6l-3.5-1.1l-17.2-2.8l-7.8-1l0 2.3l6.3 1.2l7.2 1.7l5 1.4l3.6 1.3l1.4 .8l1.4 1.2l.8 1.4l.2 1.4l-.1 1.4l-.9 5l-.5 5.6l-.4 2.2l-.8 2.1l-1.6 2.1l-2.4 1.6l-3.5 1.1l-3.6 .5l-12.1 1.1l0 4.2zM629.5 252.2l1.4 .6l0-5.9l-3.5-2.1l-2.9-1.9l-1.5-1.3l-1.6-2.1l-1.4-2.9l-.9-2.8l-.7-3.5l-.2-3.6l.2-2.1l.5-2.1l.8-2.1l1.2-2.2l2.2-2.6l2.1-1.8l2.9-1.6l2.8-.7l0-2.5l-2.8 .8l-2.9 1.4l-2.1 1.6l-2.5 2.6l-2 2.8l-1.3 2.9l-.8 2.8l-.2 2.8l.2 4.3l.8 5.6l.8 3.6l1.1 2.8l1.7 2.7l2.9 3l2.8 2l2.9 1.5zM586.7 212.6l2.1 0l2.2-.3l1.7-.4l1.7-.7l1-.8l1.3-1.2l1.2-2.3l.3-1.4l.2-2.1l-.3-2.1l-.4-1.5l-.7-1.4l-1.1-1.4l-1.4-1l-1.4-.6l-2.1-.6l-2.9-.2l-2.7 .3l-2.3 .6l-1.9 .8l-1.6 1.2l-1.3 1.6l-.7 1.4l-.5 2.2l0 2.8l.5 2.1l.7 1.4l1.4 1.4l2 1.2l2.1 .6l2.5 .4zM584.5 210.5l-1.4-.5l-1.6-.9l-1.3-1.4l-.7-1.4l-.4-1.5l0-2.1l.3-1.4l.8-1.6l1-1.2l1.9-1.3l1.4-.5l2.1-.5l2.2-.1l1.6 .3l1.9 .6l1.3 .8l1.6 1.8l.5 1l.4 1.4l-.1 2.8l-.3 1.5l-.8 1.4l-1.8 1.8l-2.4 1l-1.9 .4l-1.4 0l-2.9-.4zM630.2 122.3l.7 0l0-6.9l-.7 .3l-.9 .7l-.6 .7l-.5 1.4l.1 1.4l.2 .8l.4 .7l.7 .7zM630.9 86.9l0-6l-1.4-1.8l-1-1.7l-.5-1.4l-.2-1.4l.1-1.4l.7-2.1l.9-1.6l1.4-1.8l0-7.4l-1.4 .4l-.7 .5l-1.5 1.8l-1.4 2.2l-2.4 4.5l-.6 2.1l-.3 2.1l.5 3l.7 2l.8 1.4l2.3 2.8l3.7 3.5z" fill="#a0d800" fill-rule="evenodd"/>
<path d="M566.9 303.9l12-1l3.5-.6l2.2-.5l1.7-.7l1.2-.7l1.3-1.2l1.5-2.3l.6-2.2l.7-7.1l1-5.6l-.2-2.2l-.7-1.3l-.8-.8l-2.4-1.4l-4.7-1.6l-8.5-2.2l-8.6-1.6l0 2l5 1.3l5 1.7l3.6 1.7l2.1 1.4l1.4 1.6l.7 1.4l.4 1.4l.2 2.1l-.2 3.5l-.6 2.9l-.9 2.1l-1 1.4l-2.1 1.7l-2.9 1.3l-4 1.3l-6.7 1.5l0 2.7zM630.9 246.9l0-4.4l-2.9-1.2l-2.1-1.3l-2.1-2l-1.5-2.1l-.9-2.1l-.7-2.1l-.5-2.8l-.1-2.2l.2-2.1l.5-2.1l.8-1.8l1.1-1.8l1.8-2l2.1-1.7l2.2-1l2.1-.6l0-2.1l-2.9 .7l-2.1 1.1l-2.1 1.7l-1.8 1.8l-1.8 2.5l-1.1 2.5l-.6 2.1l-.3 2.8l.2 3.6l.7 3.5l.8 2.8l1.4 2.9l1.7 2.1l1.5 1.3l2.8 1.9l3 1.7zM584.5 210.5l2.9 .4l1.4 0l1.9-.4l2.4-1l1.8-1.8l.8-1.4l.3-1.5l.1-2.8l-.4-1.4l-.5-1l-1.6-1.8l-1.3-.8l-1.9-.6l-1.6-.3l-2.2 .1l-2.1 .5l-1.4 .5l-1.9 1.3l-1 1.2l-.8 1.6l-.3 1.4l0 2.1l.4 1.5l.7 1.4l1.3 1.4l1.6 .9l1.4 .5zM584.6 208.4l-1.2-.7l-.8-.7l-.6-.7l-.6-1.4l-.2-2.2l.4-1.4l.4-.7l.6-.7l1.2-1l1.4-.7l1.5-.4l1.4-.1l1.4 .2l2.2 .9l1.4 1.3l.8 1.9l.1 2.2l-.8 2.1l-1.5 1.5l-2.2 1l-2.1 .2l-2.2-.4zM630.9 80.9l0-13.2l-1.4 1.8l-.9 1.6l-.6 1.4l-.2 1.4l0 1.4l.4 1.5l.7 1.4l1.5 2.1z" fill="#ffff00" fill-rule="evenodd"/>
<path d="M567.4 301l9.3-2.4l2.7-1.1l2.2-1.5l1.8-2.1l.9-2.1l.6-2.8l.2-3.6l-.2-2.1l-.7-2.1l-1-1.4l-1.6-1.4l-2.4-1.5l-3.4-1.4l-4.3-1.4l-4.8-1.3l0 1.9l4.1 1.5l3 1.4l2.3 1.5l1.6 1.4l1.2 1.4l.7 1.4l.4 1.4l.2 2.1l-.3 2.2l-.4 1.4l-.7 1.4l-1.1 1.4l-1.5 1.4l-2.4 1.5l-2.8 1.4l-4.3 1.5l0 2.2zM630.9 242.5l0-3.3l-2.1-.7l-2.2-1.4l-1.4-1.3l-1.3-2l-.8-1.7l-.6-1.8l-.4-3.5l.2-2.2l.3-1.4l1.4-2.8l1.9-2.1l1.4-1.2l1.9-.9l1.7-.5l0-2l-2.1 .5l-2.2 1.1l-2 1.6l-1.4 1.4l-1.4 2.1l-1 2.1l-.5 2.1l-.2 2.2l.2 2.8l.6 2.8l1.1 2.9l1.1 1.8l1.4 1.7l1.4 1.2l2.1 1.3l2.4 1zM585.2 208.6l2.1 .4l2.2-.2l2.1-1l1.5-1.6l.8-2.1l0-2.1l-.9-1.9l-1.4-1.4l-2.1-.8l-1.4-.2l-1.5 .1l-1.4 .4l-1.4 .7l-1.3 1l-.5 .7l-.4 .7l-.4 1.4l.2 2.1l.6 1.4l.5 .7l.8 .8l1.3 .7zM585.9 206.2l-1-.7l-.9-1.4l-.2-1.4l.7-1.5l1.4-1.1l1.5-.4l1.4 .1l1.4 .7l.7 .7l.6 1.5l-.2 1.4l-.4 .7l-.7 .9l-1.4 .7l-1.4 .2l-1.5-.4z" fill="#ffcc00" fill-rule="evenodd"/>
<path d="M567.2 298.9l5.9-2.4l2.1-1.1l1.8-1.5l1.3-1.4l1.2-2.1l.6-2.1l.1-2.1l-.4-2.2l-.5-1.4l-.9-1.4l-1.4-1.4l-1.9-1.4l-2-1.1l-2.8-1.3l-3.6-1.2l0 1.8l4.7 2.5l1.8 1.4l1.4 1.4l1.2 2.1l.4 1.5l.1 1.4l-.1 1.4l-.5 1.4l-1.3 2.1l-1.3 1.4l-1.8 1.5l-4.6 2.4l0 2zM630.2 239l.7 .2l0-3l-1.4-.5l-1.4-.8l-1.2-1.1l-1-1.2l-.8-1.6l-.5-1.4l-.3-1.4l-.1-2.1l.4-2.2l.9-2.1l1.1-1.5l1.5-1.3l1.4-.8l1.4-.5l0-2.1l-1.7 .5l-1.9 1l-1.4 1.2l-1.4 1.4l-1.6 2.8l-.5 1.4l-.3 2.2l.1 2.1l.3 2.1l.6 1.8l.8 1.7l.9 1.4l1.3 1.5l2 1.4l1.5 .7zM586 206.3l1.4 .3l1.5-.1l1.4-.8l.7-.8l.4-.7l.1-1.5l-.5-1.4l-.7-.7l-1.4-.7l-1.5-.1l-1.4 .4l-1.5 1.1l-.6 1.4l.1 1.5l.9 1.4l1.1 .7z" fill="#ff9900" fill-rule="evenodd"/>
<path d="M567.4 296.8l4.3-2.4l1.4-1.1l1.3-1.5l1-1.4l.6-1.4l.3-1.4l0-1.4l-.3-1.4l-.5-1.4l-1.5-2.2l-3-2.3l-4.3-2.2l0 1.9l2 1.2l1.6 1.3l1.8 2.3l.7 1.4l.3 2.1l-.4 2.1l-1.2 2.1l-2.1 2.2l-2.7 1.8l0 2zM630.2 236l.7 .2l0-3.2l-1.3-.5l-.8-.7l-1.2-1.5l-.8-2.1l-.2-2.1l.4-2.1l.7-1.5l1.2-1.4l2-1.2l0-2.2l-1.4 .5l-1.4 .8l-2.1 2.1l-1.2 2.2l-.6 2.8l.1 2.1l.3 1.4l1.2 2.9l1.9 2.1l1.1 .8l1.4 .6z" fill="#ff6000" fill-rule="evenodd"/>
<path d="M567.4 294.7l2.8-2.1l1.8-2.2l.9-2.1l.2-2.1l-.6-2.1l-1.5-2.2l-1.5-1.4l-2.8-1.9l0 2.1l1.3 1.2l1.2 1.5l.7 1.4l.4 2.1l-.2 1.4l-.6 1.4l-1 1.4l-1.8 1.9l0 2.1zM630.2 232.7l.7 .3l0-4.2l-.9-1.4l-.3-1.4l.2-1.4l1-1.5l0-3.2l-1.4 .7l-1.4 1.4l-.8 1.2l-.7 2.1l0 2.1l.6 2.2l.9 1.4l1.5 1.4z" fill="#ff3000" fill-rule="evenodd"/>
<path d="M567.2 292.5l1.4-1.4l.9-1.4l.6-1.4l.2-1.5l-.4-2.1l-.7-1.4l-1.2-1.4l-1.3-1.2l0 2.7l1 2l.1 1.4l-.2 1.5l-.9 1.8l0 2.8zM630.9 228.9l0-5.8l-.7 .9l-.5 1.4l0 1.4l.6 1.4z" fill="#ff0000" fill-rule="evenodd"/>
<path d="M567 289.7l.6-1.4l.2-1.4l-.1-1.4l-1-2l0 6.7z" fill="#ff0000" fill-rule="evenodd"/>
<path d="M586 163.9l-1-.8l-.4-.7l-.1-.7l.3-.7l.9-.8l1.7-.4l1.5-.1l2.1 .5l1 .8l.3 .7l0 .7l-.4 .7l-.8 .7l-2.2 .7l-2.2-.3zM566.7 175.8l1.2 .7l.8 .7l.4 .7l.1 .7l-.6 1.4l-1.9 1.7M585.2 168.8l-2.1-.7l-1.5-.8l-1.4-1.2l-1.1-1.6l-.7-2.1l.2-1.5l.8-1.4l.8-.7l1.4-.8l2.2-.7l2.8-.4l2.9 0l2.8 .5l2.4 .7l1.3 .7l1.5 1.4l.6 1.5l.1 .7l-.2 1.4l-.7 1.4l-1.4 1.4l-2.1 1.3l-2.9 .9l-2.8 .3l-2.2-.1zM566.7 172.7l3.6 0l2.1-.3l1.4-.5l1.2-1l.3-1.4l-1.4-6.4l0-1.4l.3-1.4l.8-1.4l1-1l1.9-1.2l1.9-.7l3.3-.7l4.3-.3l3.6 .2l3.5 .6l3 .9l2.4 1.4l1.4 1.5l1.1 2.1l.3 1.4l0 1.4l-.3 2.3l-2.4 6.2l-.4 .7l-.8 .7l-1.7 .7l-1.9 .4l-11.4 1.2l-3.5 .7l-2.2 .9l-11.4 5.6M630.9 178l-2.9-.2l-3.5 .4l-2.9 .8l-6.4 2.4l-3.6 .6l-2.8 0l-7.9-1.1l-5-.4l-5.7 .1l-7.1 .5l-4.3 .7l-3.5 .8l-4.3 1.3l-4.3 1.5M566.7 168.9l1.2-.9l.8-1.4l.2-1.4l.3-5l.5-1.4l1.3-1.8l2.1-1.5l2.4-.9l3.1-.7l3.8-.5l5.7-.1l5 .3l4.3 .8l2.8 1.1l2.2 1.2l1.7 1.4l1.8 2.1l2.9 4.7l1.4 1.3l1.4 .6l1.5 .2l2.1-.1l2.9-.6l7.8-2.2l2.9-.3l2.1 0M630.9 183.6l-2.1-.2l-2.2 .2l-7.8 1.8l-4.3 .3l-4.3-.4l-7.1-1.6l-3.6-.6l-4.3-.2l-5.7 .1l-6.4 .4l-5.7 .7l-5.7 1.2l-5 1.6M566.7 153.2l4.3-1l5.7-.6l9.3 0l8.5 .4l5 .9l3.6 1.2l3.2 1.9l4.6 3.4l1.5 .8l1.4 .5l1.4 .2l2.1 0l8.6-1.3l2.9-.1l2.1 .2M630.9 188.7l-10 .8l-4.3-.1l-5-1l-9.9-3l-3.6-.5l-3.6-.2l-10 .5l-6.4 .6l-5.7 .9l-5.7 1.6M566.7 148l15.7 1.4l15.7 .9l2.8 .5l2.9 .7l7.8 2.9l2.9 .7l2.8 .3l8.6-.3l2.9 .3l2.1 .4M630.9 192.4l-8.6 .8l-2.8 0l-2.2-.3l-2.1-.5l-2.8-.9l-6.8-2.9l-3.2-1.2l-2.9-.7l-3.6-.3l-5.7 0l-11.4 .8l-5.7 .9l-6.4 1.6M566.7 143.8l5 .7l12.8 2.4l5 .5l9.3 .2l4.3 .4l11.4 1.9l11.4 1.2l5 1.1M630.9 195.3l-8.6 1.2l-2.8 .1l-2.9-.4l-2.1-.6l-2.1-.8l-7-4.2l-3-1.4l-2.9-.9l-3.6-.4l-6.4 0l-10 .7l-5.7 .9l-7.1 1.8M566.7 139l10 1.1l10 2l3.5 .5l4.3 .1l7.9-.7l2.8 .1l2.9 .7l5.7 2.2l3.5 1.1l13.6 2.9M566.7 217.6l1.4 1.1l2.2 1.2l2.1 .6l2.1 .4l4.3 .2l14.3-.3l6.4 .2l2.2 .2l1.4 .5l.9 .8l.6 1.4l.1 1.4l-.2 1.4l-.5 1.5l-.9 1.4l-.7 .6l-2.2 1l-4.3 .9l-4.2 .3l-4.3-.1l-4.3-.5l-8.6-1.6l-2.8-.3l-2.9 0l-2.1 .5M630.9 198l-10 2l-2.8 .3l-2.9-.2l-2.1-.7l-2.2-1.3l-5.3-4.6l-3.1-2.1l-3.5-1.4l-3.8-.6l-7.1 0l-8.6 .8l-5 1l-5.7 1.9l-2.1 .4M566.7 113.3l2.1-.7l2.9-.1l2.8 .6l2.4 1.2l1.5 1.4l1 1.4l1 2.1l2 5.2l1.5 2.6l1.3 1.2l1.5 .8l1.4 .3l1.4 .1l1.5-.2l1.4-.6l1.1-.9l1-1.3l.9-2.2l1-5l.6-2.1l.7-1.4l1.2-1.4l1.9-1.4l1.8-.8l1.9-.2l2.1 .4l1.5 .9l1.3 1.8l.8 1.8l.7 2.4l.7 3.6l.3 2.8l.2 9.2l.5 2.1l1.1 2.1l2.2 2.2l1.4 1l2.4 1.1l4.8 1.5l6.4 1.2M630.9 301.1l-.7 .8l-1.4 1l-1.5 .6l-1.4 .3l-1.4 0l-1.4-.2l-1.5-.7l-1.2-1.1l-.9-1.4l-.7-1.6l-1.2-4.1l-.9-5.7l-.3-4.9l.2-4.2l.7-3.3l1.5-3.6l1.9-3.1l1.8-2.1l2.7-2l2.8-1.3l2.9-.9M566.7 210.8l2.6 3.2l1.6 1.4l2.2 1.2l2.2 .7l3.5 .6l5 .3l7.2 0l4.9-.3l2.9-.5l2.1-.7l2.5-1.3l1.7-1.4l1.1-1.4l1.5-2.9l.7-2.1l.2-2.1l-.3-2.1l-.7-2.1l-1.5-2.9l-2-2.8l-1.7-1.7l-2.2-1.5l-2.1-.9l-2.2-.5l-3.5-.3l-5 0l-5 .5l-3.6 .7l-2.9 .9l-2.8 1.4l-1.7 1.4l-2.6 2.9l-.7 .3l-1.4-1M630.9 200.6l-7.1 2.1l-4.3 1.6l-3.2 1.9l-2.1 2.1l-.9 1.4l-1.3 2.9l-1.7 4.9l-.7 3.6l-.8 9.1l-.7 3.2l-.7 1.4l-1.5 1.9l-1.4 1.3l-2.1 1.6l-3.6 2l-1.4 .4l-1.5 .1l-2.1-.3l-5.7-1.9l-5-1.2l-5-.6l-3.6-.1l-2.1 .4l-2.1 .8l-1.5 1.1l-2.1 2.3M566.7 100.1l2.9 .8l3.5 .3l15.7-.4l15.7 .6l4.3 .6l2.8 1.2l1.5 1.1l.7 .8l.7 1.4l.6 2.1l1.4 24.1l.3 2.1l.8 2.1l1.7 2.2l1.6 1.2l1.4 .7l2.2 .9l2.1 .5l4.3 .6M570.4 32.2l.7 5.7l.5 7l.4 11.4l-.1 4.9l-.5 3.5l-2.5 14.2l-.8 2.8l-1.4 2.7M605.9 57l-.7-.7l-.7-1.7l0-1.9l.6-1.4l.8-1l1.4-1l1.5-.2l1.4 .4l1.1 1.1l.6 1.4l0 1.5l-.4 1.4l-1.3 1.7l-1.4 .8l-1.5 .1l-1.4-.5M603.6 308.1l2.1-1.4l2-2.1l1.5-2.9l.8-2.8l.3-2.8l0-2.9l-.5-12.7l-.2-8.5l.4-3.5l.8-2.1l.8-1l1.5-1.2l2.1-1l2.8-1.1l5.7-1.2l7.2-.8M630.9 203.4l-5.7 2l-2.1 1l-1.9 1.3l-1.6 1.4l-1.3 1.4l-2.9 4.2l-1.8 3.6l-1.1 3.5l-.5 3.5l-.3 8.5l-.5 2.9l-.7 2.1l-1.7 3.4l-5 8.3l-3 4.6l-1.9 3.5l-1.1 1.4l-1.9 1.2l-2.8 .8l-2.9 .3l-3.5-.1l-4.3-.6l-3.9-.9l-11.8-3.5M630.9 104.4l-.7-.2l-1.4 .1l-2.2 .8l-2.1 1.4l-2.2 2.3l-1.4 2.4l-.8 2.4l-.6 2.8l-.1 2.8l1 12.1l.5 2.3l.8 1.9l1.4 1.6l2.1 1.4l2.8 .9l1.5 .1l1.4-.2M630.9 33.6l-2.4 1.4l-1.2 .3l-1.4 .1l-1.4-.3l-1.4-.8l-2.2-2.1M586.1 32.2l-.9 6.4l0 2.8l.3 2.8l.5 2.2l.9 2.1l1.2 1.6l1.4 .9l1.5 .3l.7-.1l1.4-.7l1.4-1.6l2.2-3.3l1.4-1.6l1.7-1.2l2.6-1l4.3-.5l2.8 0l2.2 .3l2.8 .9l1.4 1l.6 .7l.9 2.1l.4 2.2l.1 3.5l-.4 2.8l-.6 2.2l-1 2.3l-4 6.1l-.6 1.5l-.3 2.1l.3 4.2l1.6 9.2l.6 2.2l1 2.3l1.2 1.9l1.2 1.4l1.9 1.7l5.4 4l4.6 3.7l2.1 1.2M584.5 216.2l6.4 0l5-.8l1.9-.7l1.7-.8l1.4-1.3l1.1-1.4l1-2.1l.6-2.1l.2-2.9l-.2-2.1l-.8-2.8l-1.1-2.1l-1.1-1.5l-1.8-1.5l-2.7-1.3l-3-.6l-4.3-.2l-4.3 .3l-3.6 .7l-2.8 1l-2.2 1.3l-1.6 1.8l-.7 1.4l-.5 1.4l-1 5.6l-.1 3.6l.5 2.1l.9 1.4l.8 .7l2.5 1.4l3.5 1l3.7 .5zM593.8 308.1l3.3-1.4l2.9-2.1l1.3-1.5l.9-1.4l.7-1.4l.8-2.1l.7-5l.5-12.7l-.4-4.2l-.7-2.1l-.7-1.4l-1.3-1.5l-1.6-1.1l-1.4-.6l-2.1-.6l-22.9-3l-7.1-.5M630.9 206.3l-2.9 .8l-2.1 1l-2.1 1.2l-1.6 1.2l-2 2l-1.8 2.3l-1.4 2.1l-1.4 2.8l-.9 2.8l-.4 2.9l.1 11.3l-.5 9.9l.3 2.8l.8 2.1l1.1 1.5l1.9 1.4l1.5 .7l2.8 .8l3.6 .5l5 .5M630.9 110.5l-1.4 .2l-2 .7l-1.1 .7l-1.2 1.2l-1.1 1.6l-.5 1.4l-.3 1.5l-.2 2.1l.2 2.1l.5 2.8l1.4 4.6l.8 1.8l.6 .9l.7 .6l.7 .2l.8 .1l.7-.3l.7-.6l.7-1M630.9 51.1l-1.4-2.2l-1.5-.9l-1.4 .1l-.7 .3l-.7 .5l-.8 1l-.6 1.2l-.7 2.1l-2 8l-2.8 7.1l-.5 2.1l-.2 2.8l.2 2.2l.6 2.8l1.1 2.8l1.3 2.1l1.6 2.2l2.1 2l6.4 5.3M583.1 214.1l5 .4l2.8-.2l2.2-.4l1.8-.6l1.6-.7l1-.7l1.4-1.4l.8-1.4l.8-2.1l.2-2.1l0-2.2l-.3-2.1l-.8-2.1l-.9-1.4l-1.4-1.4l-2.1-1.3l-2.8-.8l-2.9-.2l-3.5 .1l-2.9 .5l-2.9 1l-2.1 1.3l-1.4 1.5l-1 2.1l-.8 3.5l-.1 2.9l.5 2.8l.7 1.3l.6 .8l1.5 1.2l2.1 1l2.6 .7zM580.8 308.1l7.3-2l3.6-1.5l1.4-.8l1.4-1.2l1.8-2.3l1-2.1l.6-2.1l1-8.5l.9-5l.2-2.8l-.5-2.4l-.7-1.4l-1.4-1.5l-2-1.1l-2.1-.7l-3.3-.7l-14-2.3l-9.3-1.2M630.9 209l-2.9 .8l-2.8 1.4l-2.9 2.3l-2.1 2.4l-2 3.1l-1.2 2.8l-.6 2.8l-.2 2.8l.3 4.3l.9 5.6l.9 3.6l1.2 2.7l2.1 3l2.9 2.7l2.8 1.9l3.6 1.6M630.9 115.4l-1.4 .8l-.7 .9l-.4 .7l-.2 1.5l.3 1.4l.4 .7l.7 .7l1.3 .3M630.9 60.4l-1.4 .4l-.7 .5l-1.5 1.7l-1.4 2.3l-2.4 4.4l-.6 2.1l-.3 2.2l.5 3l.7 1.9l.8 1.4l2.3 2.9l4 3.8M586.7 212.6l2.1 0l2.2-.3l1.7-.4l1.7-.7l1-.8l1.3-1.2l1.2-2.3l.3-1.4l.2-2.1l-.3-2.1l-.4-1.5l-.7-1.4l-1.1-1.4l-1.4-1l-1.4-.6l-2.1-.6l-2.9-.2l-2.7 .3l-2.3 .6l-1.9 .8l-1.6 1.2l-1.3 1.6l-.7 1.4l-.5 2.2l0 2.8l.5 2.1l.7 1.4l1.4 1.4l2 1.2l2.1 .6l2.5 .4zM566.7 303.9l15-1.4l3.5-1l1.5-.7l1.4-.9l1.4-1.7l.8-1.4l.4-1.4l.4-2.1l.5-5.7l.9-4.9l.1-1.5l-.2-1.4l-.8-1.4l-1.7-1.4l-1.8-.9l-3.6-1.2l-5.3-1.4l-6.8-1.6l-5.7-1.1M630.9 211.5l-2.9 .8l-2.1 1.1l-2.1 1.6l-2.2 2.3l-1.6 2.4l-.9 2.1l-.7 2.8l-.2 2.9l.3 3.5l.7 3.5l1 2.9l1.1 2.1l1.7 2.1l1.5 1.3l2.8 2l3.6 2M630.9 67.7l-1.4 1.8l-.9 1.6l-.7 2.1l-.1 1.4l.2 1.5l.5 1.4l1 1.6l1.4 1.8M584.5 210.5l2.9 .4l1.4 0l1.9-.4l2.4-1l1.8-1.8l.8-1.4l.3-1.5l.1-2.8l-.4-1.4l-.5-1l-1.6-1.8l-1.3-.8l-1.9-.6l-1.6-.3l-2.2 .1l-2.1 .5l-1.4 .5l-1.9 1.3l-1 1.2l-.8 1.6l-.3 1.4l0 2.1l.4 1.5l.7 1.4l1.3 1.4l1.6 .9l1.4 .5zM566.7 301.2l10-2.6l2.8-1.1l2.1-1.4l1.8-2.1l.9-2.2l.6-2.8l.2-3.5l-.2-2.2l-.7-2.1l-1-1.4l-1.6-1.4l-2.4-1.4l-3.4-1.4l-4.3-1.5l-4.8-1.3M630.9 213.6l-2.1 .6l-2.2 1l-2 1.6l-1.4 1.4l-1.4 2.1l-1 2.2l-.5 2.1l-.2 2.1l.2 2.8l.6 2.9l1.1 2.8l1.1 1.9l1.4 1.7l1.7 1.3l1.8 1.2l2.9 1.1M585.2 208.6l2.1 .4l2.2-.2l2.1-1l1.5-1.6l.8-2.1l0-2.1l-.9-1.9l-1.4-1.4l-2.1-.8l-1.4-.2l-1.5 .1l-1.4 .4l-1.4 .7l-1.3 1l-.5 .7l-.4 .7l-.4 1.4l.2 2.1l.6 1.4l.5 .7l.8 .8l1.3 .7zM566.7 299.1l6.4-2.5l2.1-1.2l1.8-1.4l1.3-1.4l.9-1.4l.7-2.2l.3-2.1l-.2-2.1l-.7-2.1l-.9-1.5l-1.4-1.4l-1.9-1.4l-2-1.1l-2.8-1.2l-3.6-1.3M630.9 215.6l-1.7 .5l-1.9 1l-1.4 1.1l-1.4 1.4l-.9 1.5l-1 2.1l-.3 1.4l-.2 2.1l.1 2.1l.5 2.2l.8 2.1l1 1.7l1.4 1.7l1.4 1.1l1.5 .8l2.1 .8M586 206.3l1.4 .3l1.5-.1l1.4-.8l.7-.8l.4-.7l.1-1.5l-.5-1.4l-.7-.7l-1.4-.7l-1.5-.1l-1.4 .4l-1.5 1.1l-.6 1.4l.1 1.5l.9 1.4l1.1 .7zM566.7 297.1l4.6-2.4l2.5-2.2l1.1-1.4l.8-1.4l.5-1.4l.1-1.4l-.1-1.4l-.4-1.5l-.7-1.4l-1.1-1.4l-3-2.4l-4.3-2.2M630.9 217.6l-1.4 .5l-1.4 .8l-2.1 2.1l-.9 1.5l-.6 1.4l-.3 2.8l.2 2.1l.4 1.4l.6 1.5l.9 1.4l1 1.1l1.3 1l2.3 .9M566.7 295.1l2.7-1.9l2.1-2.1l1.2-2.1l.4-2.1l-.3-2.2l-1.2-2.1l-2-2.1l-2.9-2M630.9 219.9l-2 1.2l-1.2 1.4l-.7 1.4l-.4 2.2l.2 2.1l.8 2.1l1.2 1.5l.8 .6l1.3 .6M566.7 293l1.9-1.8l.9-1.5l.6-1.4l.2-1.4l-.4-2.1l-.7-1.4l-1.1-1.4l-1.4-1.3M630.9 223.1l-1 1.6l-.2 1.4l.2 1.4l1 1.4M566.7 290.2l.9-1.9l.2-1.4l-.1-1.4l-1-2" fill="none" stroke="#6a6a6a" stroke-opacity="0.85" stroke-width="0.45"/>
</g>
<rect x="566.7" y="32.2" width="64.2" height="275.9" fill="none" stroke="#9a9a9a" stroke-width="0.6"/>
<path d="M566.7 32.2v-3M566.7 308.1v3M588.1 32.2v-3M588.1 308.1v3M609.5 32.2v-3M609.5 308.1v3M630.9 32.2v-3M630.9 308.1v3M566.7 286.88h-3M630.9 286.88h3M566.7 244.43h-3M630.9 244.43h3M566.7 201.98h-3M630.9 201.98h3M566.7 159.54h-3M630.9 159.54h3M566.7 117.09h-3M630.9 117.09h3M566.7 74.65h-3M630.9 74.65h3M566.7 32.2h-3M630.9 32.2h3" stroke="#9a9a9a" stroke-width="0.6" fill="none"/>
<text x="559.8" y="291.18" text-anchor="end" class="ax" font-weight="normal">2</text>
<text x="559.8" y="248.73" text-anchor="end" class="ax" font-weight="normal">4</text>
<text x="559.8" y="206.28" text-anchor="end" class="ax" font-weight="normal">6</text>
<text x="559.8" y="163.84" text-anchor="end" class="ax" font-weight="normal">8</text>
<text x="559.8" y="121.39" text-anchor="end" class="ax" font-weight="normal">10</text>
<text x="559.8" y="78.95" text-anchor="end" class="ax" font-weight="normal">12</text>
<text x="559.8" y="36.5" text-anchor="end" class="ax" font-weight="normal">14</text>
<text x="564.5" y="323.4" text-anchor="middle" class="ax" font-weight="normal">1</text>
<text x="585.9" y="323.4" text-anchor="middle" class="ax" font-weight="normal">2</text>
<text x="607.3" y="323.4" text-anchor="middle" class="ax" font-weight="normal">3</text>
<text x="628.7" y="323.4" text-anchor="middle" class="ax" font-weight="normal">4</text>
<rect x="642.8" y="66.25" width="13" height="8.55" fill="#ff0000"/>
<rect x="642.8" y="74.6" width="13" height="8.55" fill="#ff0000"/>
<rect x="642.8" y="82.95" width="13" height="8.55" fill="#ff0000"/>
<rect x="642.8" y="91.3" width="13" height="8.55" fill="#ff0000"/>
<rect x="642.8" y="99.65" width="13" height="8.55" fill="#ff0000"/>
<rect x="642.8" y="108" width="13" height="8.55" fill="#ff0000"/>
<rect x="642.8" y="116.35" width="13" height="8.55" fill="#ff3000"/>
<rect x="642.8" y="124.7" width="13" height="8.55" fill="#ff6000"/>
<rect x="642.8" y="133.05" width="13" height="8.55" fill="#ff9900"/>
<rect x="642.8" y="141.4" width="13" height="8.55" fill="#ffcc00"/>
<rect x="642.8" y="149.75" width="13" height="8.55" fill="#ffff00"/>
<rect x="642.8" y="158.1" width="13" height="8.55" fill="#a0d800"/>
<rect x="642.8" y="166.45" width="13" height="8.55" fill="#00a000"/>
<rect x="642.8" y="174.8" width="13" height="8.55" fill="#00a830"/>
<rect x="642.8" y="183.15" width="13" height="8.55" fill="#00b850"/>
<rect x="642.8" y="191.5" width="13" height="8.55" fill="#00c880"/>
<rect x="642.8" y="199.85" width="13" height="8.55" fill="#00d8a8"/>
<rect x="642.8" y="208.2" width="13" height="8.55" fill="#00e8d8"/>
<rect x="642.8" y="216.55" width="13" height="8.55" fill="#00ffff"/>
<rect x="642.8" y="224.9" width="13" height="8.55" fill="#00c0ff"/>
<rect x="642.8" y="233.25" width="13" height="8.55" fill="#0080ff"/>
<rect x="642.8" y="241.6" width="13" height="8.55" fill="#0040ff"/>
<rect x="642.8" y="249.95" width="13" height="8.55" fill="#0000dd"/>
<rect x="642.8" y="258.3" width="13" height="8.55" fill="#000099"/>
<rect x="642.8" y="266.65" width="13" height="8.55" fill="#000000"/>
<path d="M642.8 74.6H655.8M642.8 82.95H655.8M642.8 91.3H655.8M642.8 99.65H655.8M642.8 108H655.8M642.8 116.35H655.8M642.8 124.7H655.8M642.8 133.05H655.8M642.8 141.4H655.8M642.8 149.75H655.8M642.8 158.1H655.8M642.8 166.45H655.8M642.8 174.8H655.8M642.8 183.15H655.8M642.8 191.5H655.8M642.8 199.85H655.8M642.8 208.2H655.8M642.8 216.55H655.8M642.8 224.9H655.8M642.8 233.25H655.8M642.8 241.6H655.8M642.8 249.95H655.8M642.8 258.3H655.8M642.8 266.65H655.8" stroke="#200" stroke-opacity="0.55" stroke-width="0.6"/>
<text x="657.8" y="77.23" class="cb" style="font-size:7.3px">3.2E-06</text>
<text x="657.8" y="85.58" class="cb" style="font-size:7.3px">3E-06</text>
<text x="657.8" y="93.93" class="cb" style="font-size:7.3px">2.8E-06</text>
<text x="657.8" y="102.28" class="cb" style="font-size:7.3px">2.6E-06</text>
<text x="657.8" y="110.63" class="cb" style="font-size:7.3px">2.4E-06</text>
<text x="657.8" y="118.98" class="cb" style="font-size:7.3px">2.2E-06</text>
<text x="657.8" y="127.33" class="cb" style="font-size:7.3px">2E-06</text>
<text x="657.8" y="135.68" class="cb" style="font-size:7.3px">1.8E-06</text>
<text x="657.8" y="144.03" class="cb" style="font-size:7.3px">1.6E-06</text>
<text x="657.8" y="152.38" class="cb" style="font-size:7.3px">1.4E-06</text>
<text x="657.8" y="160.73" class="cb" style="font-size:7.3px">1.2E-06</text>
<text x="657.8" y="169.08" class="cb" style="font-size:7.3px">1E-06</text>
<text x="657.8" y="177.43" class="cb" style="font-size:7.3px">8E-07</text>
<text x="657.8" y="185.78" class="cb" style="font-size:7.3px">6E-07</text>
<text x="657.8" y="194.13" class="cb" style="font-size:7.3px">4E-07</text>
<text x="657.8" y="202.48" class="cb" style="font-size:7.3px">2E-07</text>
<text x="657.8" y="210.83" class="cb" style="font-size:7.3px">0</text>
<text x="657.8" y="219.18" class="cb" style="font-size:7.3px">-2E-07</text>
<text x="657.8" y="227.53" class="cb" style="font-size:7.3px">-4E-07</text>
<text x="657.8" y="235.88" class="cb" style="font-size:7.3px">-6E-07</text>
<text x="657.8" y="244.23" class="cb" style="font-size:7.3px">-8E-07</text>
<text x="657.8" y="252.58" class="cb" style="font-size:7.3px">-1E-06</text>
<text x="657.8" y="260.93" class="cb" style="font-size:7.3px">-1.2E-06</text>
<text x="657.8" y="269.28" class="cb" style="font-size:7.3px">-1.4E-06</text>
<text x="657.8" y="277.63" class="cb" style="font-size:7.3px">-1.6E-06</text>
<text transform="translate(555.9 21.2) scale(0.943 1)" class="tt">12h-i<tspan class="sub" dx="1.2" dy="2">g</tspan></text>
<text transform="translate(609.9 21.2) scale(0.943 1)" class="tt">ig(A/cm<tspan class="sup" dy="-5.8">2</tspan><tspan dy="5.8">)</tspan></text>
</svg>
</body></html>
